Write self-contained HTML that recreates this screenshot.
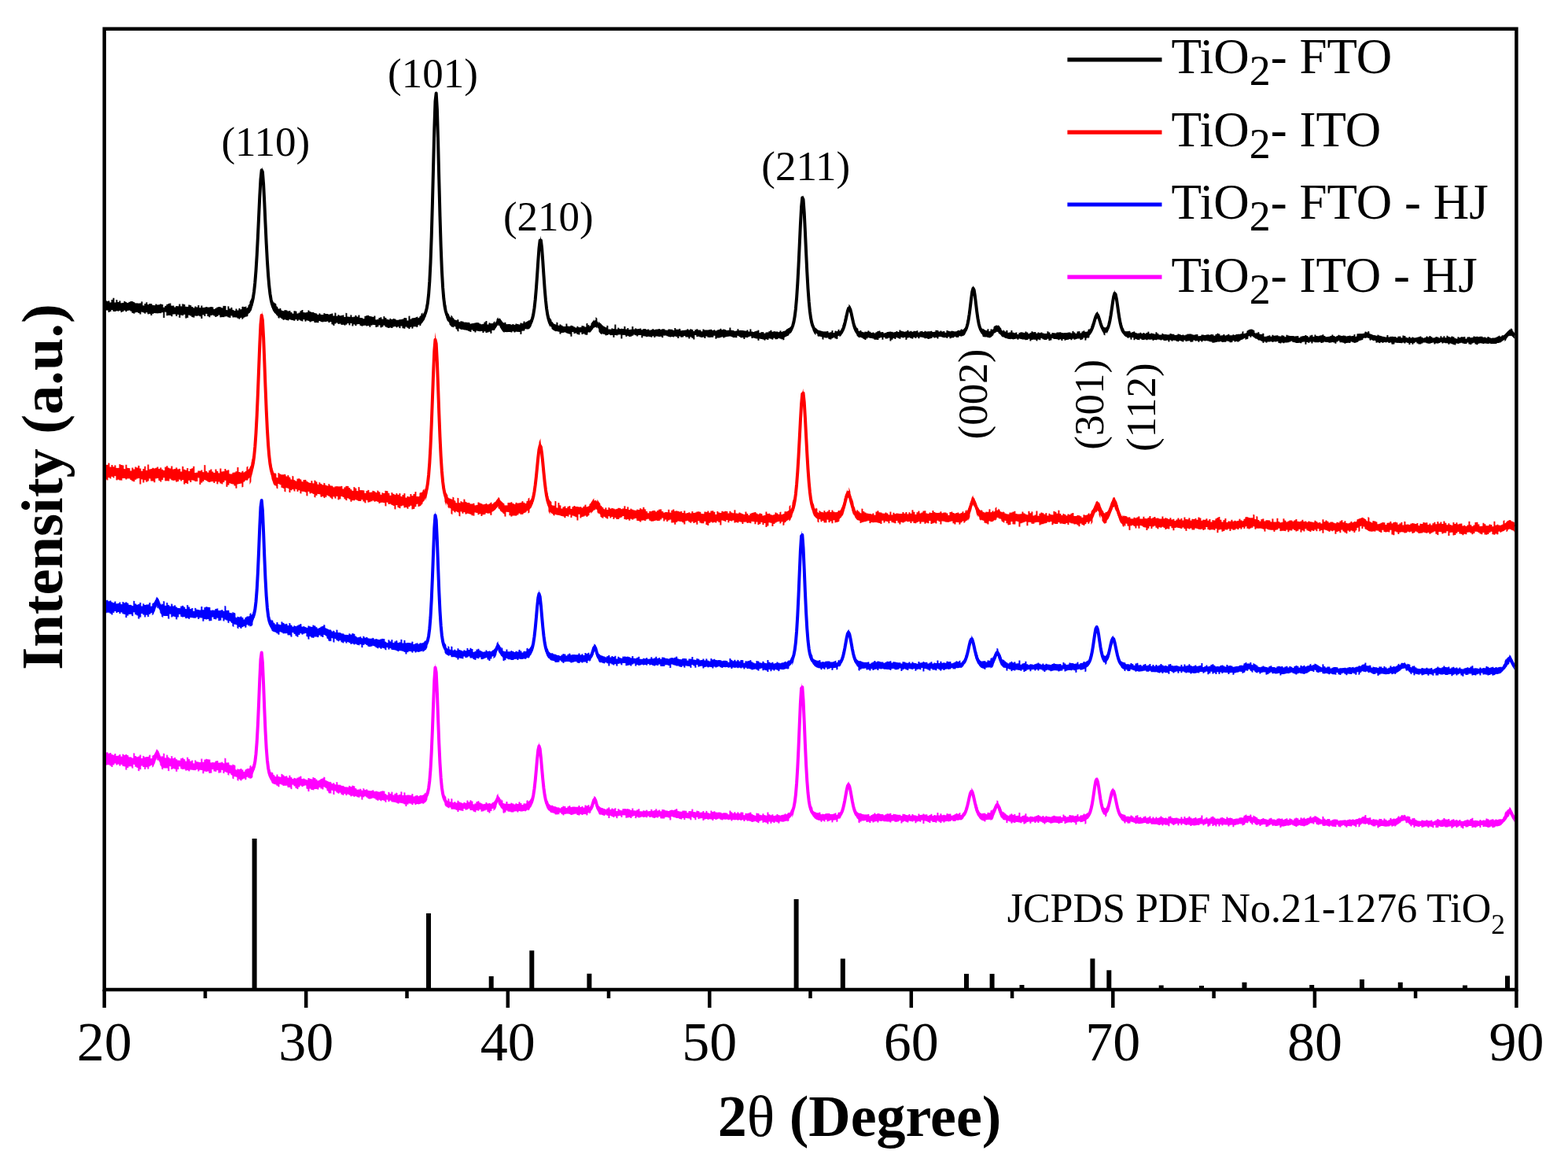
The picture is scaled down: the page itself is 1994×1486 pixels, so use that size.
<!DOCTYPE html><html><head><meta charset="utf-8"><title>XRD TiO2</title><style>html,body{margin:0;padding:0;background:#fff;overflow:hidden;}svg{display:block;filter:blur(0.6px);}text{font-family:'Liberation Serif', 'Times New Roman', serif;fill:#000;}</style></head><body>
<svg width="1994" height="1486" viewBox="0 0 1994 1486">
<rect x="0" y="0" width="1994" height="1486" fill="#fff"/>
<g fill="none" stroke="#000" stroke-linejoin="round" transform="scale(0.1)">
<path fill="#000" stroke="none" d="M1335 3816l19 1 1 11 19 1 1-6 19 1 1 20 19 1 1-36 19 1 1-23 19 1 1 56 19 2 1-35 19 1 1 28 19 1 1-18 19 1 1 28 19 1 1-5 19 1 1-21 19 1 1 12 19 1 1 8 19 1 1-14 19 2 1-10 19 2 1 0 19 2 1 7 19 2 1 11 19 1 1-2 19 2 1 2 19 1 1-5 19 2 1-22 19 2 1 48 19 2 1-24 19 2 1-20 19 1 1 28 19 1 1-12 19 1 1-1 19 2 1 16 19 1 1 1 19 2 1-18 19 1 1 9 19 1 1-3 19 1 1-10 19 2 1 5 19 1 1 36 19 1 1-20 19 1 1-20 19 1 1-11 19 1 1-6 19 1 1 31 19 1 1-2 19 1 1 18 19 1 1-16 19 2 1 1 19 1 1-29 19 1 1 28 19 1 1-31 19 1 1 4 19 1 1 28 19 1 1 2 19 1 1-26 19 1 1 5 19 1 1 17 19 1 1 13 19 1 1-20 19 1 1 9 19 1 1-24 19 0 1 31 19 0 1-28 19 1 1 24 19 0 1-2 19 1 1-8 19 1 1 5 19 1 1-2 19 1 1-5 19 0 1 2 19 1 1 25 19 1 1-12 19 0 1-12 19 1 1-8 19 1 1 3 19 1 1 8 19 2 1-26 19 2 1-3 19 2 1 51 19 2 1-50 19 2 1 28 19 2 1-16 19 3 1 27 19 1 1 11 19 1 1-26 19 0 1 19 19 0 1-24 19-2 1 16 19-3 1-30 19-5 1 9 19-8 1 6 19-10 1 27 19-15 1-20 19-23 1-24 19-38 1 8 19-71 1 7 19-131 1 20 19-225 1-16 19-337 1-11 19-420 1-40 19-378 1 31 19-115 1 3 19 242 1-3 19 418 1-7 19 398 1 35 19 295 1-15 19 186 1-7 19 105 1 23 19 57 1-24 19 32 1-12 19 20 1 23 19 14 1 16 19 11 1-17 19 8 1 20 19 7 1 0 19 5 1-16 19 3 1 0 19 2 1 10 19 2 1-6 19 1 1 18 19 1 1 16 19 1 1-34 19 0 1 3 19 1 1 27 19 0 1-10 19 1 1-23 19 1 1-14 19 1 1 30 19 2 1 1 19 2 1-8 19 2 1-25 19 2 1 14 19 2 1 5 19 3 1-3 19 2 1 11 19 1 1 4 19 1 1 13 19 2 1-19 19 2 1 13 19 2 1 1 19 1 1-20 19 2 1 6 19 1 1-1 19 2 1 6 19 1 1-7 19 2 1-9 19 2 1 28 19 2 1-40 19 2 1 39 19 1 1-16 19 1 1 10 19 2 1-6 19 1 1-6 19 1 1 24 19 1 1-52 19 1 1 46 19 1 1 1 19 1 1-25 19 1 1 26 19 2 1-6 19 1 1-19 19 1 1 17 19 1 1-23 19 1 1 35 19 1 1 0 19 2 1 9 19 1 1-36 19 2 1-8 19 1 1-5 19 2 1 11 19 1 1 2 19 2 1 3 19 1 1-14 19 1 1 46 19 2 1-6 19 2 1-21 19 1 1-8 19 1 1 23 19 2 1-37 19 2 1 16 19 2 1 17 19 1 1 4 19 2 1-17 19 2 1 9 19 1 1-10 19 1 1 4 19 1 1 11 19 1 1-1 19 1 1-7 19 1 1-2 19 0 1-4 19 0 1-15 19 0 1 2 19-1 1 33 19-1 1-56 19-2 1 41 19-3 1-8 19-3 1 0 19-4 1 0 19-6 1-2 19-7 1 20 19-10 1-11 19-13 1-19 19-19 1 28 19-28 1 10 19-45 1-44 19-85 1 11 19-176 1-19 19-345 1 21 19-580 1-17 19-770 1-60 19-653 1 18 19-7 1-8 19 647 1 23 19 774 1 17 19 588 1 2 19 352 1 22 19 181 1-24 19 88 1 50 19 48 1-16 19 30 1 13 19 21 1-33 19 16 1 14 19 13 1 12 19 9 1-4 19 8 1-16 19 6 1 25 19 5 1-13 19 5 1-2 19 3 1 8 19 3 1-3 19 3 1-1 19 2 1-1 19 1 1 17 19 2 1-7 19 1 1-4 19 1 1-6 19 1 1-3 19 0 1 1 19 1 1 13 19 0 1 7 19 0 1-5 19 0 1-22 19 0 1-17 19 0 1 46 19 0 1-21 19-1 1 9 19-1 1 1 19-5 1-11 19-13 1 26 19-26 1-24 19-30 1 22 19 0 1-12 19 30 1 2 19 27 1-2 19 14 1-15 19 6 1 20 19 2 1-3 19 1 1-2 19 0 1 8 19 0 1-8 19 0 1 10 19-1 1-13 19-1 1 7 19-2 1 7 19-2 1-18 19-2 1 9 19-3 1-23 19-5 1 17 19-7 1-1 19-10 1-1 19-16 1 14 19-29 1-5 19-57 1-1 19-111 1-13 19-191 1-12 19-271 1-3 19-279 1 15 19-114 1-11 19 159 1-12 19 289 1 9 19 261 1 29 19 177 1 0 19 101 1-15 19 52 1-4 19 26 1 17 19 16 1 10 19 10 1-1 19 7 1-32 19 6 1 34 19 5 1-18 19 3 1 9 19 3 1 10 19 2 1 0 19 2 1-36 19 1 1 30 19 2 1-1 19 1 1-11 19 1 1 5 19 1 1 11 19 1 1 8 19 1 1-18 19 1 1 13 19 1 1-1 19 0 1-21 19 0 1 6 19-1 1 13 19-2 1-44 19-4 1 28 19-8 1 23 19-15 1-22 19-26 1 1 19-30 1 22 19-14 1-36 19 17 1 35 19 32 1-31 19 26 1-3 19 17 1 8 19 8 1 9 19 4 1 8 19 2 1-26 19 2 1 46 19 1 1 0 19 1 1-14 19 1 1 5 19 1 1-56 19 1 1 59 19 0 1-18 19 1 1 14 19 1 1-5 19 1 1 1 19 1 1-32 19 1 1 35 19 1 1-16 19 1 1 20 19 1 1-4 19 0 1-38 19 1 1 35 19 0 1-12 19 1 1 8 19 1 1-2 19 0 1-6 19 1 1 16 19 1 1-12 19 1 1-1 19 0 1 8 19 1 1-4 19 0 1 11 19 1 1-6 19 1 1-12 19 1 1 10 19 1 1-7 19 1 1-3 19 0 1-5 19 0 1 11 19 0 1-8 19 0 1 0 19 1 1 13 19 0 1 2 19 0 1-12 19 0 1 0 19 1 1 0 19 0 1 11 19 1 1-30 19 1 1 18 19 0 1-1 19 0 1-9 19 1 1 23 19 1 1-5 19 1 1-2 19 0 1-1 19 0 1-13 19 0 1 12 19 0 1-12 19 0 1 7 19 0 1 20 19 0 1-19 19 1 1-10 19 0 1 12 19 0 1 1 19 0 1 18 19 0 1-29 19 0 1 12 19 0 1 0 19 0 1-1 19 0 1-6 19 0 1-1 19 0 1 13 19 0 1-9 19 0 1 12 19 0 1-9 19 0 1-6 19 0 1-12 19 0 1 16 19 0 1-8 19 0 1 6 19 1 1 9 19 0 1-4 19 0 1-33 19 0 1 34 19 0 1 2 19 1 1 7 19 1 1-5 19 0 1-22 19 0 1 18 19 1 1-3 19 1 1 1 19 1 1 2 19 1 1 2 19 2 1-13 19 1 1 18 19 1 1-33 19 2 1 30 19 2 1 3 19 2 1-11 19 2 1-6 19 1 1-11 19 2 1 32 19 2 1-11 19 1 1-2 19 2 1 15 19 1 1-14 19 1 1-2 19 1 1-13 19 1 1-14 19 0 1 19 19 0 1-5 19-1 1 5 19-1 1 1 19-2 1 8 19-2 1-15 19-3 1 17 19-4 1-2 19-6 1 1 19-8 1-11 19-10 1 0 19-14 1 8 19-22 1 12 19-35 1-18 19-66 1 15 19-126 1-10 19-223 1-25 19-342 1 7 19-425 1-15 19-357 1-15 19-44 1 4 19 308 1 26 19 428 1 10 19 366 1-28 19 248 1 31 19 144 1 16 19 75 1-7 19 39 1 7 19 23 1-3 19 15 1 3 19 10 1-1 19 8 1-3 19 6 1 2 19 4 1-3 19 3 1-3 19 2 1-7 19 2 1 18 19 0 1-5 19 0 1-20 19-1 1 30 19-1 1-23 19-3 1 8 19-3 1-17 19-8 1 25 19-14 1-10 19-28 1-21 19-52 1-20 19-78 1 45 19-91 1 2 19-58 1-19 19 26 1 10 19 85 1 12 19 88 1-10 19 63 1-13 19 38 1-2 19 19 1 22 19 10 1-16 19 5 1 14 19 3 1 4 19 2 1-9 19 2 1-1 19 1 1-15 19 1 1 14 19 0 1 11 19 0 1-5 19 0 1 10 19 0 1-11 19 0 1-13 19 0 1-6 19 0 1 19 19 0 1-2 19-1 1 16 19-1 1-6 19 0 1-8 19-1 1-2 19 0 1-3 19 0 1 4 19-1 1 7 19-1 1-3 19 0 1-10 19 0 1 10 19 0 1-25 19-1 1 12 19 0 1 5 19 0 1 6 19 0 1-5 19 0 1-15 19 0 1 17 19-1 1-6 19 0 1 9 19 0 1-9 19 0 1 3 19-1 1-7 19 0 1 22 19 0 1-12 19 0 1-4 19-1 1 13 19 0 1-14 19 0 1 8 19 0 1-3 19 0 1 0 19 0 1-4 19 0 1 13 19 0 1-3 19 0 1-20 19 0 1 2 19 0 1 14 19 0 1-10 19 0 1 10 19 0 1-5 19 0 1 19 19 0 1-27 19 0 1 6 19 0 1 6 19-1 1-5 19-1 1 4 19-1 1 5 19-2 1 1 19-2 1-11 19-3 1 6 19-4 1-11 19-6 1 13 19-10 1-2 19-20 1 5 19-43 1-47 19-84 1 41 19-136 1-18 19-163 1 14 19-98 1-7 19 66 1 6 19 161 1-14 19 147 1 15 19 95 1 11 19 50 1-1 19 24 1-13 19 12 1 5 19 7 1 1 19 4 1-21 19 1 1 29 19-3 1-21 19-8 1 14 19-15 1-21 19-20 1 7 19-16 1 9 19 2 1-11 19 20 1 7 19 22 1 16 19 18 1-20 19 11 1 9 19 6 1-21 19 4 1 26 19 2 1-6 19 1 1-24 19 1 1 25 19 1 1 5 19 1 1-8 19 1 1 23 19 0 1-19 19 0 1-7 19 0 1 1 19 0 1 7 19 1 1-17 19 0 1 10 19 0 1 17 19 0 1-12 19 0 1-17 19 0 1 10 19 0 1-3 19 0 1 17 19 0 1-11 19 0 1 7 19 0 1-7 19 0 1 9 19 0 1 6 19 0 1-2 19 0 1-27 19 0 1 12 19 0 1 23 19 0 1-17 19 0 1 3 19 0 1 3 19 0 1-11 19 0 1-1 19 0 1-2 19 0 1 8 19-1 1 4 19 0 1-4 19 0 1 1 19 0 1-3 19-1 1 0 19 0 1 10 19 0 1-27 19-1 1 17 19-1 1 15 19-1 1-24 19-1 1-1 19-1 1 24 19-2 1-19 19-2 1-6 19-3 1 16 19-5 1 5 19-8 1-18 19-15 1 14 19-28 1-17 19-47 1 28 19-66 1-18 19-64 1 3 19-22 1-3 19 40 1-12 19 63 1 10 19 54 1 16 19 32 1-6 19 10 1 0 19-12 1 10 19-39 1-12 19-78 1 12 19-119 1-17 19-136 1-10 19-82 1 21 19 46 1 1 19 131 1-19 19 132 1 15 19 94 1-14 19 56 1 10 19 29 1 16 19 15 1-8 19 9 1-9 19 5 1-7 19 4 1 17 19 3 1-10 19 2 1-8 19 2 1 14 19 2 1 6 19 1 1-2 19 1 1-10 19 1 1 12 19 1 1-11 19 1 1 10 19 1 1-13 19 1 1-14 19 1 1 25 19 1 1-8 19 1 1 3 19 1 1 6 19 1 1-25 19 1 1 15 19 1 1 16 19 1 1-2 19 1 1-17 19 1 1 10 19 1 1-1 19 0 1 4 19 1 1-1 19 1 1-14 19 1 1 5 19 1 1 0 19 1 1 12 19 0 1-3 19 0 1-13 19 1 1 4 19 1 1 10 19 0 1-4 19 0 1 7 19 0 1-7 19 0 1-10 19 1 1-1 19 0 1-2 19 0 1 9 19 0 1 4 19 0 1-4 19 0 1-3 19 0 1 23 19 0 1-2 19 0 1-17 19 1 1 1 19 1 1 2 19 0 1-5 19 1 1-3 19 0 1 6 19 0 1-9 19 0 1 3 19 0 1 16 19 0 1-17 19 0 1-13 19 0 1 6 19 0 1 22 19 0 1-4 19 0 1-11 19 0 1 14 19 0 1-8 19 0 1-10 19 0 1 16 19 0 1-1 19 0 1-10 19 0 1 7 19-1 1-7 19-1 1-1 19-3 1 4 19-4 1 0 19-6 1-23 19-8 1 35 19-10 1 6 19-11 1-22 19-10 1-2 19-7 1-1 19-1 1-1 19 6 1 2 19 10 1 28 19 12 1-17 19 11 1-20 19 8 1 20 19 6 1-4 19 4 1-15 19 4 1 37 19 3 1-4 19 2 1-10 19 1 1-7 19 1 1 14 19 1 1-21 19 1 1 9 19 0 1-3 19 0 1-2 19 1 1 10 19 0 1 2 19 0 1-13 19 0 1 5 19 1 1 14 19 0 1-25 19 0 1 9 19 0 1 5 19 0 1-2 19 0 1 0 19 0 1 5 19 0 1-1 19 0 1-2 19 0 1 29 19 0 1-22 19 0 1-6 19 0 1-2 19 0 1-11 19 0 1 11 19 0 1 16 19 0 1-20 19 0 1-9 19 0 1 22 19 0 1-24 19 0 1 16 19 0 1 2 19 0 1-6 19-1 1-4 19 0 1-10 19 0 1 18 19 0 1 12 19 0 1-3 19 0 1-2 19 0 1-7 19-1 1-14 19 0 1 15 19 0 1 11 19 0 1-12 19 0 1-12 19 0 1 8 19 0 1 4 19 0 1-3 19-1 1 2 19 0 1 8 19 0 1-4 19 0 1-4 19-1 1 7 19-1 1-2 19-1 1-17 19-2 1 29 19-3 1-31 19-4 1 3 19-6 1 8 19-8 1 6 19-7 1 4 19-6 1-18 19-3 1 9 19 2 1-17 19 7 1 24 19 8 1-2 19 9 1 1 19 7 1-4 19 6 1 2 19 4 1-15 19 3 1 8 19 2 1 3 19 2 1 4 19 1 1 3 19 1 1 2 19 1 1-26 19 1 1 24 19 0 1-6 19 1 1-2 19 1 1 3 19 0 1-2 19 1 1 12 19 0 1-16 19 1 1-3 19 0 1 19 19 1 1-30 19 0 1 5 19 0 1 19 19 1 1 6 19 0 1-14 19 1 1 14 19 0 1-11 19 0 1 8 19 1 1-2 19 0 1-4 19 0 1-6 19 0 1-8 19 0 1 14 19 0 1 9 19 0 1-6 19 0 1-16 19 0 1 9 19 0 1-15 19 0 1 13 19 0 1 13 19 0 1-2 19 0 1-14 19 0 1 5 19 0 1 11 19 0 1-22 19 0 1 18 19 0 1-19 19 0 1 21 19 0 1-26 19 0 1 14 19 0 1 7 19 0 1-12 19 0 1 6 19 0 1 16 19 0 1 10 19 0 1-26 19 0 1 11 19 0 1-10 19 0 1 0 19 1 1-4 19 0 1 27 19 0 1-23 19 0 1-2 19 0 1 11 19 0 1-4 19 0 1-13 19 0 1 5 19 0 1-3 19 0 1 5 19 0 1-5 19 0 1-1 19 0 1 10 19 0 1-3 19 0 1 11 19-1 1-13 19 0 1 10 19 0 1 8 19-1 1-2 19 0 1 0 19-1 1-6 19-1 1-9 19-1 1-9 19-3 1 14 19-5 1-7 19-10 1 9 19-15 1 1 19-21 1 0 19-23 1 2 19-18 1-5 19-2 1-15 19 16 1 15 19 23 1 4 4 4 0 73-4-5-1 2-19-23-1 0-19-15-1 6-19 2-1-8-19 18-1 3-19 24-1 11-19 21-1-28-19 16-1 2-19 9-1 8-19 5-1 2-19 3-1 0-19 2-1 9-19 1-1-1-19 0-1 1-19 0-1 0-19 1-1-6-19 0-1 5-19 0-1-3-19 0-1-2-19 0-1 5-19 0-1-6-19 0-1-3-19 0-1 6-19 0-1 14-19 0-1-6-19 0-1-19-19 0-1 9-19 0-1 14-19 0-1-5-19 0-1-21-19 0-1 16-19 0-1 1-19 0-1-5-19 0-1-8-19 0-1 5-19 0-1 7-19 0-1-4-19 0-1 20-19 0-1-5-19 0-1-8-19 0-1-7-19 0-1 12-19 0-1-16-19 0-1 0-19 0-1-5-19 0-1 8-19 0-1-14-19 0-1 8-19 0-1 8-19-1-1-2-19-1-1 12-19 0-1-19-19 0-1 5-19 0-1 6-19 0-1 1-19 0-1-5-19-1-1-7-19 0-1 0-19 0-1 11-19 0-1 10-19 0-1-1-19 0-1-10-19 0-1-19-19 0-1 16-19 0-1 16-19 0-1-18-19 0-1 19-19 0-1-20-19 0-1-7-19 0-1 12-19 0-1-10-19 0-1 8-19 0-1-2-19 0-1-1-19-1-1 1-19-1-1-3-19 0-1 20-19-1-1 3-19-1-1-22-19-1-1 7-19-1-1-11-19-1-1 7-19-1-1-4-19 0-1 10-19-1-1-7-19-1-1 12-19-2-1-6-19-4-1 8-19-4-1-22-19-6-1 9-19-7-1-4-19-8-1 14-19-8-1-19-19-7-1-1-19-2-1 4-19 3-1-7-19 6-1 19-19 8-1-3-19 8-1-1-19 6-1 8-19 5-1 4-19 4-1 1-19 2-1-9-19 1-1-9-19 1-1 16-19 0-1-2-19 0-1 1-19 0-1 8-19 1-1-11-19 0-1-5-19 0-1 0-19 1-1-21-19 0-1 12-19 0-1 24-19 0-1-12-19 0-1-7-19 0-1 6-19 0-1 3-19 0-1-9-19 0-1 1-19 0-1-4-19 0-1 10-19 0-1 5-19 0-1-14-19 0-1 5-19 1-1 0-19 0-1 0-19 0-1-8-19 0-1 19-19 0-1-18-19 0-1 12-19 1-1-9-19 0-1 28-19 0-1-33-19 0-1 2-19 0-1 15-19 0-1-4-19 0-1 3-19 0-1-2-19 0-1-6-19 0-1-2-19 0-1-17-19 0-1 11-19 0-1 7-19 0-1 2-19 0-1 0-19 0-1 8-19 0-1-6-19 0-1 9-19-1-1-4-19-1-1-20-19 0-1 6-19 0-1-2-19 0-1 6-19-1-1-6-19-1-1 4-19-1-1 2-19-1-1 12-19-1-1-12-19-2-1 19-19-3-1-17-19-5-1-7-19-6-1 6-19-9-1-6-19-11-1 6-19-11-1-5-19-11-1-4-19-7-1 16-19 0-1-18-19 6-1 30-19 10-1-5-19 11-1-27-19 10-1 6-19 8-1-1-19 6-1 10-19 4-1 7-19 3-1-10-19 2-1 6-19 1-1-15-19 1-1 19-19 1-1 1-19 0-1-14-19 1-1-6-19 0-1 13-19 0-1 1-19 0-1 2-19-1-1-9-19 0-1 6-19 0-1-1-19 0-1 4-19 0-1 7-19 0-1 2-19 0-1-13-19 0-1-2-19 0-1-7-19-1-1-3-19-1-1 4-19 0-1-4-19 0-1 13-19 0-1-12-19-1-1 16-19 0-1-15-19 0-1 3-19 0-1-9-19-1-1 21-19 0-1 2-19-1-1-15-19 0-1 3-19 0-1 4-19 0-1-13-19 0-1 18-19 0-1-7-19 0-1-8-19 0-1 13-19 0-1-4-19-1-1-9-19 0-1-1-19-1-1 11-19-1-1-12-19-1-1 22-19 0-1-19-19 0-1 4-19 0-1 0-19-1-1-11-19-1-1 9-19-1-1-7-19 0-1-2-19-1-1 8-19-1-1-1-19-1-1 9-19-1-1-12-19-1-1 2-19 0-1-1-19 0-1 7-19-1-1-6-19-1-1 5-19-1-1 0-19-1-1-11-19-1-1 16-19-1-1-2-19-1-1-9-19-1-1 15-19-1-1-30-19-2-1 28-19-3-1-24-19-4-1 12-19-5-1-6-19-9-1 1-19-15-1-3-19-29-1-6-19-55-1 8-19-95-1-2-19-131-1 4-19-131-1-6-19-46-1-4-19 82-1 7-19 136-1 1-19 119-1-3-19 77-1 17-19 40-1-23-19 12-1 31-19-10-1-15-19-32-1-13-19-54-1 5-19-63-1 2-19-39-1-2-19 22-1 12-19 64-1-8-19 65-1-10-19 47-1 4-19 28-1 20-19 14-1-11-19 8-1 25-19 4-1-35-19 3-1 16-19 2-1 7-19 2-1-18-19 1-1-2-19 1-1 6-19 1-1 6-19 0-1-12-19 1-1 15-19 0-1-12-19 1-1 6-19 1-1 3-19 0-1 6-19 0-1-16-19 0-1 18-19 0-1-16-19 0-1 10-19 0-1-11-19 0-1-1-19 0-1-2-19 0-1-10-19 0-1 27-19 0-1 3-19 0-1-22-19 0-1 12-19 0-1 0-19 0-1-7-19 0-1-12-19 0-1 23-19 0-1-9-19 0-1 20-19-1-1-16-19 0-1 0-19-1-1 4-19 0-1 14-19 0-1-27-19 0-1 12-19 0-1 3-19 0-1-7-19-1-1 1-19 0-1-4-19-1-1-5-19 0-1 13-19 0-1-14-19 0-1 5-19 0-1 5-19-1-1-4-19-1-1 4-19-2-1-1-19-2-1-3-19-4-1 0-19-6-1-3-19-12-1 11-19-18-1-3-19-23-1 5-19-19-1-13-19-2-1 0-19 17-1-10-19 20-1 15-19 16-1 6-19 8-1 4-19 3-1-6-19-1-1-3-19-3-1 4-19-6-1 6-19-12-1-15-19-24-1 1-19-50-1-7-19-95-1 5-19-147-1-4-19-160-1-15-19-66-1 8-19 98-1 9-19 164-1-16-19 135-1 11-19 83-1 13-19 43-1 4-19 20-1-5-19 10-1-2-19 6-1-10-19 4-1 15-19 3-1-3-19 2-1-12-19 1-1 13-19 1-1 0-19 1-1 8-19 1-1-21-19 0-1 16-19 1-1-9-19 0-1 3-19 0-1-6-19 1-1-7-19 0-1 0-19 1-1 22-19 0-1-13-19 0-1 3-19 0-1-10-19 0-1 15-19 0-1 7-19 0-1 5-19 0-1-11-19 0-1 2-19 0-1-10-19 0-1-5-19 1-1-2-19 0-1 16-19 1-1-17-19 0-1 13-19 0-1-11-19 0-1 18-19 1-1-7-19 0-1-10-19 0-1 4-19 0-1 24-19 1-1-32-19 0-1 7-19 0-1-6-19 0-1 19-19 0-1-7-19 1-1-11-19 0-1 20-19 0-1-10-19 0-1 17-19 0-1 18-19 1-1-42-19 1-1 8-19 1-1 0-19 0-1-16-19 0-1 30-19 0-1-27-19 0-1 6-19 0-1 24-19 0-1-3-19 0-1 0-19 0-1-13-19 0-1-4-19-1-1-3-19 0-1-5-19-1-1 13-19-1-1 18-19-2-1-10-19-2-1-9-19-3-1-6-19-5-1 11-19-10-1 0-19-19-1-11-19-37-1 5-19-63-1-5-19-87-1 6-19-85-1-6-19-25-1-1-19 58-1-9-19 92-1 24-19 79-1-30-19 52-1 16-19 29-1 1-19 14-1-25-19 7-1 43-19 4-1-10-19 2-1-14-19 2-1 9-19 1-1 12-19 0-1-2-19-1-1-17-19-2-1 5-19-2-1-2-19-3-1 28-19-5-1-29-19-6-1 2-19-8-1 10-19-11-1-25-19-14-1 30-19-22-1-2-19-39-1-28-19-75-1 5-19-143-1 13-19-248-1-2-19-365-1-18-19-428-1-10-19-308-1-20-19 44-1 5-19 358-1 9-19 425-1 27-19 342-1-13-19 223-1 11-19 125-1 13-19 66-1 0-19 36-1-13-19 21-1 8-19 14-1-4-19 10-1 2-19 8-1 30-19 6-1-14-19 4-1-11-19 3-1-9-19 2-1 10-19 2-1 0-19 1-1-16-19 0-1 19-19 1-1-10-19 0-1-5-19 0-1 19-19 0-1-8-19-1-1 15-19-1-1-10-19-2-1-4-19-1-1-2-19-1-1 23-19-1-1-22-19-2-1-2-19-2-1-4-19-2-1 7-19-2-1-27-19-1-1 11-19-1-1 11-19-1-1-2-19-2-1 24-19-1-1-18-19-2-1 4-19-1-1-11-19-1-1-12-19-1-1 25-19 0-1-3-19-1-1 3-19-1-1-11-19 0-1-6-19 0-1 4-19 0-1 3-19 0-1 3-19 0-1 10-19 0-1-11-19-1-1 9-19 0-1 4-19 0-1 1-19-1-1 12-19 0-1-39-19 0-1 20-19 0-1-1-19 0-1 3-19 0-1-3-19 0-1-13-19 0-1 27-19 0-1-15-19 0-1 3-19 0-1-4-19 0-1-8-19 0-1 2-19 0-1-20-19-1-1 57-19-1-1-17-19 0-1-13-19-1-1 21-19 0-1-18-19 0-1 0-19 0-1-17-19 0-1 15-19 0-1 4-19 0-1-13-19-1-1 26-19 0-1-18-19-1-1-5-19 0-1 9-19 0-1-5-19 0-1 5-19 0-1-4-19 0-1-9-19 0-1-8-19 0-1 3-19-1-1 26-19 0-1-15-19 0-1 3-19-1-1-2-19-1-1-2-19 0-1 17-19 0-1-18-19-1-1 16-19-1-1-7-19-1-1-1-19-1-1 5-19 0-1-6-19 0-1-3-19-1-1 22-19-1-1-34-19 0-1 2-19-1-1 15-19-1-1-11-19-1-1-8-19 0-1 14-19-1-1 11-19-1-1 3-19-1-1-10-19-1-1 11-19-1-1-19-19-1-1 1-19-1-1 46-19 0-1-50-19-1-1 2-19-1-1 10-19-1-1-3-19-1-1 30-19-1-1-28-19-1-1 3-19-2-1-10-19-1-1 12-19-1-1 5-19-2-1-12-19-4-1 1-19-8-1 15-19-16-1 2-19-26-1-38-19-31-1 29-19-17-1-3-19 14-1-8-19 30-1-1-19 26-1 2-19 15-1-14-19 8-1 29-19 4-1-5-19 1-1-13-19 0-1 6-19 0-1-23-19 0-1 29-19-1-1-4-19 0-1-15-19 0-1 5-19-1-1-19-19-1-1 59-19-1-1-30-19-1-1-3-19-2-1-6-19-2-1-8-19-2-1 7-19-2-1 5-19-3-1 17-19-3-1-26-19-4-1 0-19-6-1 7-19-8-1 0-19-11-1-1-19-16-1-18-19-27-1 30-19-51-1-8-19-101-1-1-19-177-1-9-19-261-1-21-19-289-1 8-19-159-1 7-19 113-1-13-19 279-1 17-19 271-1-3-19 192-1-2-19 112-1 22-19 57-1 2-19 28-1-3-19 16-1-10-19 10-1-13-19 7-1 19-19 5-1-4-19 4-1 39-19 3-1-31-19 2-1-4-19 2-1-3-19 1-1 8-19 1-1-13-19 0-1 13-19-1-1-4-19-1-1 0-19-1-1 3-19-2-1 3-19-6-1 13-19-14-1-1-19-27-1-3-19-31-1-14-19 0-1-20-19 30-1 8-19 26-1 9-19 13-1-11-19 5-1 37-19 2-1-21-19 0-1 8-19 0-1 4-19-1-1-16-19-1-1 18-19-1-1-20-19-1-1 4-19 0-1-1-19-1-1-4-19-1-1 20-19-1-1-13-19-1-1-15-19-2-1 27-19-2-1-6-19-2-1-8-19-2-1-3-19-3-1 1-19-3-1-1-19-4-1 4-19-4-1-6-19-5-1 40-19-6-1-21-19-8-1-25-19-10-1 19-19-12-1 10-19-16-1-1-19-21-1-17-19-30-1 14-19-48-1-6-19-89-1 21-19-181-1-38-19-352-1 5-19-587-1-38-19-774-1 2-19-647-1-44-19 7-1 57-19 653-1 9-19 770-1-9-19 581-1 13-19 345-1 18-19 176-1 7-19 86-1-3-19 46-1-2-19 28-1 3-19 19-1 14-19 14-1-22-19 10-1 19-19 8-1-14-19 5-1-3-19 4-1 20-19 3-1-22-19 3-1 21-19 2-1-15-19 1-1-13-19 1-1 21-19 0-1-5-19 0-1-28-19 0-1 28-19-1-1-18-19-1-1 11-19-1-1-12-19-1-1 6-19-1-1 17-19-2-1-4-19-2-1 8-19-1-1-6-19-2-1-6-19-1-1-17-19-2-1 20-19-2-1 10-19-1-1-29-19-2-1 22-19-2-1 9-19-2-1-27-19-1-1-2-19-2-1 10-19-1-1 22-19-1-1-17-19-1-1 6-19-1-1-6-19-2-1 3-19-2-1 10-19-2-1-6-19-1-1-18-19-1-1 4-19-1-1 20-19-1-1-17-19-2-1 24-19-1-1-36-19-1-1 26-19-1-1-23-19-1-1 18-19-2-1 12-19-2-1-7-19-1-1 2-19-2-1-11-19-2-1 5-19-1-1-14-19-2-1 14-19-1-1 24-19-2-1-12-19-2-1-30-19-2-1 11-19-2-1-14-19-2-1 7-19-2-1 1-19-2-1 6-19-2-1 0-19-2-1-9-19-2-1 24-19-1-1-1-19-2-1 3-19-2-1-17-19-2-1 5-19-2-1 10-19-2-1-12-19-2-1-3-19-3-1 15-19-2-1-22-19-2-1 24-19-2-1-6-19-2-1-9-19-1-1 14-19-1-1-17-19 0-1 17-19 0-1-6-19-1-1-3-19 0-1-7-19-1-1 14-19-1-1-3-19-2-1-6-19-3-1 11-19-5-1-9-19-6-1-8-19-9-1 17-19-11-1-18-19-14-1-6-19-20-1 3-19-32-1 7-19-56-1 6-19-105-1-13-19-186-1-5-19-295-1-14-19-398-1-28-19-417-1 7-19-242-1 3-19 115-1 27-19 378-1-26-19 420-1 28-19 336-1-4-19 224-1 26-19 131-1 14-19 70-1-10-19 38-1-9-19 22-1 20-19 15-1-10-19 11-1 0-19 8-1 13-19 6-1-22-19 4-1 14-19 2-1-11-19 1-1-11-19-1-1-1-19-1-1 3-19-2-1-19-19-2-1 27-19-2-1-3-19-3-1-8-19-3-1 4-19-2-1 9-19-2-1 2-19-1-1 3-19-1-1-27-19-1-1 15-19 0-1 10-19-1-1-13-19 0-1-11-19-1-1 6-19-1-1 24-19-1-1-11-19-1-1-33-19 0-1 32-19-1-1-15-19-1-1 48-19-1-1-26-19-1-1-9-19 0-1 4-19 0-1-2-19-1-1 23-19-1-1-4-19-1-1-15-19 0-1-9-19-1-1 33-19-1-1 9-19-1-1-48-19-1-1 15-19-1-1-4-19-1-1 33-19-1-1-39-19-1-1 21-19-1-1-24-19-1-1 2-19-1-1 29-19-1-1-13-19-2-1 2-19-2-1 6-19-1-1-44-19-2-1 75-19-1-1-68-19-1-1 11-19-1-1 1-19-1-1 3-19-1-1 0-19-1-1-1-19-1-1 9-19-1-1 23-19-1-1-21-19-2-1 8-19-2-1-20-19-2-1 16-19-2-1-11-19-2-1-4-19-2-1 29-19-1-1-14-19-1-1-10-19-1-1 5-19-1-1 16-19-2-1-6-19-2-1-21-19-1-1-10-19-1-1 4-19-1-1 15-19-1-1-14-19-2-1 15-19-1-1 11-19-1-1-21-19-1-1 9-19-1-1-3-19-1-1 8-19-1-1 0-19-1-1-17-19-1-1 21-19-1-1 9-19-1-1-23-19-1-1 2-19-1z"/>
<path stroke-width="40" d="M1335 3885l12 1 12 0 12 1 12 0 12 1 12 1 12 0 12 1 12 0 12 1 12 1 12 0 12 1 12 1 12 1 12 0 12 1 12 1 12 1 12 0 12 1 12 1 12 1 12 1 12 0 12 1 12 1 12 1 12 1 12 1 12 1 12 1 12 2 12 1 12 1 12 1 12 1 12 1 12 1 12 1 12 1 12 1 12 1 12 1 12 1 12 1 12 1 12 1 12 1 12 1 12 0 12 1 12 1 12 1 12 1 12 1 12 1 12 0 12 1 12 1 12 1 12 1 12 0 12 1 12 1 12 1 12 0 12 1 12 1 12 1 12 0 12 1 12 1 12 0 12 1 12 1 12 0 12 1 12 1 12 0 12 1 12 0 12 1 12 1 12 0 12 1 12 0 12 1 12 1 12 0 12 1 12 0 12 1 12 0 12 1 12 0 12 1 12 0 12 1 12 0 12 1 12 0 12 1 12 0 12 0 12 1 12 0 12 1 12 0 12 0 12 1 12 0 12 0 12 1 12 0 12 0 12 1 12 0 12 1 12 0 12 0 12 1 12 1 12 0 12 1 12 1 12 2 12 1 12 1 12 2 12 1 12 2 12 1 12 1 12 2 12 1 12 1 12 0 12 1 12 0 12 0 12-1 12-1 12-2 12-2 12-4 12-4 12-5 12-5 12-7 12-9 12-11 12-14 12-19 12-26 12-38 12-56 12-80 12-113 12-152 12-195 12-233 12-261 12-260 12-214 12-115 12 25 12 154 12 236 12 265 12 254 12 223 12 180 12 139 12 102 12 72 12 50 12 34 12 24 12 18 12 13 12 11 12 8 12 8 12 6 12 5 12 4 12 4 12 4 12 3 12 2 12 2 12 1 12 1 12 1 12 1 12 0 12 1 12 0 12 0 12 0 12 1 12 0 12 0 12 1 12 0 12 1 12 1 12 1 12 1 12 1 12 2 12 1 12 1 12 2 12 1 12 2 12 1 12 1 12 2 12 1 12 1 12 1 12 1 12 1 12 1 12 1 12 1 12 1 12 1 12 1 12 1 12 1 12 1 12 1 12 1 12 1 12 1 12 1 12 1 12 1 12 1 12 1 12 1 12 1 12 1 12 1 12 1 12 1 12 1 12 0 12 1 12 1 12 1 12 1 12 0 12 1 12 1 12 1 12 1 12 0 12 1 12 1 12 1 12 0 12 1 12 1 12 1 12 1 12 0 12 1 12 1 12 1 12 1 12 0 12 1 12 1 12 1 12 1 12 0 12 1 12 1 12 1 12 1 12 0 12 1 12 1 12 1 12 1 12 0 12 1 12 1 12 1 12 1 12 0 12 1 12 1 12 1 12 1 12 0 12 1 12 1 12 1 12 1 12 1 12 0 12 1 12 1 12 1 12 0 12 1 12 0 12 1 12 0 12 1 12 0 12 0 12 0 12-1 12 0 12-1 12-1 12-1 12-1 12-2 12-2 12-2 12-3 12-3 12-4 12-4 12-6 12-6 12-7 12-9 12-11 12-13 12-17 12-23 12-31 12-45 12-69 12-108 12-164 12-239 12-329 12-417 12-479 12-474 12-354 12-101 12 199 12 410 12 488 12 465 12 390 12 300 12 214 12 144 12 94 12 62 12 41 12 29 12 21 12 17 12 14 12 11 12 10 12 8 12 7 12 7 12 5 12 5 12 4 12 3 12 4 12 3 12 2 12 3 12 2 12 2 12 1 12 2 12 1 12 1 12 2 12 1 12 1 12 0 12 1 12 1 12 0 12 1 12 1 12 0 12 0 12 1 12 0 12 0 12 1 12 0 12 0 12 0 12 0 12 0 12 0 12 0 12 0 12-1 12-1 12-2 12-5 12-8 12-12 12-18 12-20 12-14 12 0 12 15 12 20 12 19 12 13 12 8 12 5 12 3 12 1 12 1 12 1 12 0 12 1 12 0 12 0 12 0 12-1 12 0 12-1 12 0 12-1 12-1 12-2 12-1 12-2 12-2 12-3 12-3 12-4 12-5 12-6 12-8 12-11 12-15 12-23 12-35 12-52 12-78 12-107 12-141 12-168 12-182 12-164 12-101 12 0 12 102 12 165 12 183 12 169 12 141 12 108 12 78 12 54 12 36 12 23 12 16 12 12 12 8 12 7 12 6 12 4 12 4 12 4 12 3 12 2 12 3 12 2 12 1 12 2 12 2 12 1 12 1 12 1 12 1 12 1 12 1 12 1 12 1 12 0 12 1 12 0 12 1 12 0 12 1 12 0 12 0 12 0 12 1 12 0 12-1 12 0 12 0 12-1 12-2 12-3 12-5 12-7 12-11 12-15 12-18 12-19 12-15 12-5 12 8 12 17 12 19 12 18 12 15 12 11 12 8 12 5 12 3 12 2 12 2 12 1 12 1 12 1 12 1 12 0 12 1 12 1 12 0 12 1 12 0 12 1 12 0 12 1 12 0 12 1 12 0 12 0 12 1 12 0 12 1 12 0 12 1 12 0 12 1 12 0 12 0 12 1 12 0 12 1 12 0 12 1 12 0 12 0 12 1 12 0 12 1 12 0 12 0 12 1 12 0 12 0 12 1 12 0 12 0 12 1 12 0 12 0 12 1 12 0 12 0 12 0 12 1 12 0 12 0 12 0 12 1 12 0 12 0 12 0 12 1 12 0 12 0 12 0 12 0 12 1 12 0 12 0 12 0 12 1 12 0 12 0 12 0 12 0 12 1 12 0 12 0 12 0 12 0 12 0 12 1 12 0 12 0 12 0 12 0 12 0 12 0 12 1 12 0 12 0 12 0 12 0 12 0 12 0 12 0 12 0 12 0 12 1 12 0 12 0 12 0 12 0 12 0 12 0 12 0 12 0 12 0 12 0 12 0 12 0 12 0 12 0 12 0 12 0 12 0 12 0 12 0 12 0 12 0 12 0 12 0 12 0 12 0 12 0 12 1 12 0 12 0 12 0 12 0 12 0 12 0 12 0 12 0 12 0 12 0 12 0 12 1 12 0 12 0 12 1 12 0 12 1 12 1 12 0 12 1 12 1 12 1 12 1 12 0 12 1 12 1 12 1 12 1 12 1 12 1 12 1 12 1 12 1 12 1 12 1 12 1 12 1 12 1 12 1 12 1 12 1 12 1 12 1 12 0 12 1 12 1 12 0 12 1 12 0 12 0 12 1 12 0 12 0 12-1 12 0 12-1 12 0 12-1 12-2 12-1 12-2 12-3 12-2 12-4 12-3 12-5 12-6 12-6 12-8 12-9 12-12 12-16 12-22 12-31 12-46 12-68 12-98 12-138 12-182 12-225 12-259 12-264 12-223 12-121 12 25 12 161 12 243 12 266 12 249 12 212 12 166 12 123 12 87 12 60 12 39 12 27 12 19 12 14 12 11 12 8 12 7 12 6 12 4 12 4 12 4 12 2 12 3 12 2 12 1 12 2 12 1 12 1 12 0 12 0 12 0 12 0 12 0 12-1 12-1 12-2 12-2 12-3 12-4 12-7 12-10 12-15 12-23 12-32 12-43 12-51 12-57 12-54 12-36 12-6 12 27 12 49 12 57 12 54 12 46 12 35 12 26 12 17 12 12 12 7 12 5 12 4 12 2 12 2 12 2 12 1 12 1 12 0 12 1 12 0 12 1 12 0 12 0 12 0 12 0 12 0 12 0 12 0 12 0 12 0 12 0 12 0 12 0 12 0 12 0 12-1 12 0 12 0 12 0 12 0 12 0 12-1 12 0 12 0 12 0 12 0 12-1 12 0 12 0 12 0 12-1 12 0 12 0 12 0 12 0 12-1 12 0 12 0 12 0 12 0 12 0 12-1 12 0 12 0 12 0 12 0 12 0 12-1 12 0 12 0 12 0 12 0 12 0 12 0 12 0 12 0 12-1 12 0 12 0 12 0 12 0 12 0 12 0 12 0 12 0 12 0 12 0 12 0 12 0 12 0 12 0 12 0 12 0 12-1 12 0 12 0 12 0 12 0 12 0 12 0 12 0 12 0 12 0 12-1 12 0 12 0 12-1 12 0 12-1 12 0 12-1 12-1 12-1 12-1 12-2 12-1 12-3 12-2 12-4 12-5 12-7 12-10 12-17 12-26 12-40 12-57 12-78 12-95 12-102 12-88 12-43 12 22 12 77 12 101 12 99 12 85 12 65 12 45 12 31 12 19 12 13 12 8 12 5 12 4 12 3 12 2 12 0 12 0 12-2 12-4 12-6 12-9 12-11 12-13 12-12 12-8 12-2 12 7 12 12 12 15 12 13 12 12 12 10 12 7 12 5 12 3 12 2 12 2 12 1 12 1 12 1 12 1 12 0 12 1 12 0 12 1 12 0 12 1 12 0 12 0 12 1 12 0 12 0 12 0 12 0 12 1 12 0 12 0 12 0 12 0 12 0 12 0 12 0 12 1 12 0 12 0 12 0 12 0 12 0 12 0 12 0 12 0 12 0 12 0 12 0 12 0 12 0 12 0 12 0 12 0 12 1 12 0 12 0 12 0 12 0 12-1 12 0 12 0 12 0 12 0 12 0 12 0 12 0 12 0 12 0 12 0 12 0 12 0 12 0 12-1 12 0 12 0 12 0 12 0 12-1 12 0 12 0 12-1 12 0 12 0 12-1 12-1 12 0 12-1 12-1 12-1 12-1 12-2 12-1 12-3 12-2 12-5 12-6 12-9 12-13 12-20 12-27 12-34 12-40 12-43 12-37 12-21 12 3 12 25 12 37 12 40 12 36 12 27 12 20 12 11 12 4 12-5 12-14 12-24 12-38 12-53 12-69 12-81 12-85 12-71 12-37 12 14 12 58 12 82 12 86 12 78 12 63 12 48 12 34 12 23 12 15 12 10 12 7 12 5 12 4 12 3 12 3 12 2 12 2 12 1 12 2 12 1 12 1 12 1 12 1 12 1 12 0 12 1 12 1 12 0 12 1 12 0 12 1 12 0 12 1 12 0 12 1 12 0 12 1 12 0 12 1 12 0 12 1 12 0 12 1 12 0 12 1 12 0 12 1 12 0 12 1 12 0 12 1 12 0 12 1 12 0 12 1 12 0 12 0 12 1 12 0 12 1 12 0 12 0 12 1 12 0 12 0 12 1 12 0 12 0 12 0 12 1 12 0 12 0 12 0 12 0 12 1 12 0 12 0 12 0 12 0 12 0 12 1 12 0 12 0 12 0 12 0 12 0 12 0 12 1 12 0 12 0 12 0 12 0 12 0 12 0 12 1 12 0 12 0 12 0 12 0 12 0 12 0 12 0 12 0 12 0 12 1 12 0 12 0 12 0 12 0 12 0 12 0 12 0 12 0 12 0 12 0 12 0 12 0 12 0 12 0 12 0 12 0 12 0 12 0 12 0 12 0 12-1 12 0 12-1 12-1 12-1 12-2 12-2 12-3 12-4 12-5 12-5 12-6 12-6 12-7 12-6 12-6 12-4 12-2 12 0 12 4 12 5 12 6 12 7 12 7 12 7 12 6 12 5 12 5 12 4 12 3 12 3 12 2 12 1 12 1 12 1 12 1 12 1 12 0 12 1 12 0 12 1 12 0 12 0 12 1 12 0 12 0 12 1 12 0 12 0 12 0 12 0 12 1 12 0 12 0 12 0 12 0 12 0 12 0 12 0 12 1 12 0 12 0 12 0 12 0 12 0 12 0 12 0 12 0 12 0 12 0 12 0 12 0 12 0 12 0 12 0 12 0 12 0 12 0 12 0 12 0 12 0 12-1 12 0 12 0 12 0 12 0 12 0 12 0 12 0 12 0 12 0 12-1 12 0 12 0 12 0 12 0 12 0 12 0 12 0 12 0 12 0 12 0 12-1 12 0 12 0 12 0 12 0 12 0 12 0 12 0 12 0 12 0 12 0 12 0 12 0 12 0 12 0 12 0 12-1 12 0 12 0 12 0 12 0 12-1 12 0 12-1 12 0 12-2 12-1 12-2 12-2 12-3 12-4 12-3 12-5 12-5 12-4 12-5 12-3 12-2 12-1 12 2 12 3 12 4 12 5 12 5 12 5 12 5 12 4 12 4 12 3 12 3 12 2 12 1 12 2 12 1 12 1 12 1 12 0 12 1 12 0 12 1 12 0 12 1 12 0 12 0 12 1 12 0 12 0 12 1 12 0 12 0 12 1 12 0 12 0 12 0 12 1 12 0 12 0 12 0 12 0 12 1 12 0 12 0 12 0 12 0 12 0 12 0 12 1 12 0 12 0 12 0 12 0 12 0 12 0 12 0 12 0 12 0 12 1 12 0 12 0 12 0 12 0 12 0 12 0 12 0 12 0 12 0 12 0 12 0 12 0 12 0 12 1 12 0 12 0 12 0 12 0 12 0 12 0 12 0 12 0 12 0 12 0 12 0 12 0 12 0 12 0 12 0 12 0 12 0 12 1 12 0 12 0 12 0 12 0 12 0 12 0 12 0 12 0 12 0 12 0 12 0 12 0 12 0 12 0 12 0 12 0 12 0 12 0 12 0 12 0 12 0 12 0 12 0 12 0 12 0 12 0 12 0 12 0 12 0 12 0 12 0 12 0 12 0 12 0 12-1 12 0 12 0 12 0 12 0 12 0 12-1 12 0 12 0 12-1 12 0 12 0 12-1 12-1 12-1 12-1 12-2 12-3 12-4 12-5 12-8 12-9 12-11 12-14 12-14 12-14 12-11 12-6 12 1 12 8 12 12 12 15 8 9"/>
</g>
<g fill="none" stroke="#f00" stroke-linejoin="round" transform="scale(0.1)">
<path fill="#f00" stroke="none" d="M1335 5909l19 2 1-3 19 2 1-25 19 3 1 47 19 2 1-28 19 2 1 22 19 2 1-23 19 2 1 33 19 2 1-1 19 1 1-48 19 2 1 6 19 1 1 5 19 1 1 45 19 1 1-55 19 1 1 40 19 1 1 2 19 1 1 33 19 1 1-42 19 1 1 20 19 1 1-30 19 0 1 9 19 0 1-27 19 1 1 35 19 0 1 33 19 0 1-28 19 1 1-33 19 0 1 52 19 1 1-75 19 0 1 61 19 0 1-6 19 1 1-14 19 1 1 7 19 0 1-8 19 0 1-13 19 0 1 25 19 1 1-17 19 1 1 23 19 1 1 12 19 1 1-45 19 1 1-14 19 0 1 23 19 1 1 7 19 1 1-30 19 1 1 39 19 1 1-7 19 1 1-17 19 1 1 20 19 1 1-7 19 1 1 36 19 0 1-67 19 1 1 38 19 1 1 8 19 1 1-28 19 1 1 39 19 0 1-28 19 1 1-10 19 1 1-26 19 0 1 82 19 1 1-4 19 1 1-23 19 1 1 1 19 1 1-12 19 1 1 25 19 1 1-91 19 1 1 76 19 1 1 17 19 1 1-29 19 1 1-14 19 1 1 29 19 1 1 14 19 1 1-46 19 1 1 22 19 1 1 24 19 1 1-60 19 1 1 39 19 2 1-6 19 2 1-33 19 2 1 20 19 2 1-10 19 2 1 47 19 2 1 0 19 1 1-18 19 1 1-4 19 1 1-13 19 1 1-53 19-1 1 62 19-2 1 9 19-3 1-16 19-5 1 23 19-6 1-7 19-9 1-47 19-13 1 48 19-21 1-9 19-36 1-28 19-70 1 18 19-138 1 41 19-251 1-81 19-395 1 10 19-505 1 26 19-450 1-12 19-98 1-29 19 344 1 27 19 519 1-8 19 458 1 45 19 317 1-41 19 187 1 23 19 100 1 13 19 53 1 14 19 30 1-18 19 18 1 42 19 8 1-65 19 3 1 11 19 2 1 6 19 3 1-5 19 5 1-10 19 6 1 20 19 6 1-20 19 6 1 20 19 6 1 22 19 6 1-50 19 6 1 47 19 5 1 7 19 5 1-34 19 4 1-7 19 3 1 9 19 4 1 24 19 3 1-25 19 3 1-5 19 3 1 17 19 3 1 11 19 3 1 3 19 3 1-30 19 3 1 30 19 3 1-42 19 3 1 15 19 4 1 29 19 4 1-30 19 5 1 15 19 4 1 9 19 4 1-28 19 4 1 24 19 4 1 3 19 4 1-26 19 4 1 18 19 3 1 0 19 2 1 14 19 3 1-13 19 3 1-5 19 2 1 0 19 2 1-2 19 2 1-6 19 2 1 34 19 2 1-24 19 2 1-16 19 2 1-3 19 3 1 20 19 2 1 19 19 2 1 14 19 2 1-50 19 3 1 13 19 2 1 34 19 2 1-53 19 2 1 38 19 2 1-1 19 2 1 0 19 3 1 32 19 3 1-32 19 3 1-15 19 3 1 28 19 3 1-6 19 3 1-20 19 3 1 4 19 3 1 12 19 2 1-26 19 2 1 15 19 2 1 31 19 3 1-26 19 2 1 4 19 2 1-34 19 2 1 0 19 3 1 25 19 2 1 29 19 3 1-41 19 3 1 14 19 2 1 8 19 3 1-19 19 2 1 14 19 3 1-20 19 3 1 36 19 3 1-23 19 3 1-23 19 3 1 53 19 2 1-20 19 2 1 6 19 1 1-36 19 1 1 22 19-1 1-21 19-1 1-27 19-3 1 63 19-5 1 6 19-7 1-40 19-10 1 7 19-15 1-13 19-24 1 29 19-44 1 11 19-87 1-37 19-174 1 18 19-313 1 8 19-470 1-31 19-535 1-35 19-320 1-7 19 179 1 52 19 511 1-21 19 513 1 33 19 370 1 3 19 219 1-9 19 114 1 25 19 59 1-9 19 33 1 20 19 22 1-10 19 16 1-6 19 12 1-35 19 9 1 36 19 7 1 21 19 7 1-69 19 6 1 57 19 5 1-24 19 4 1 7 19 3 1-39 19 2 1 29 19 2 1 10 19 2 1-2 19 1 1 14 19 1 1 0 19 1 1-9 19 1 1 25 19 1 1-6 19 1 1-33 19 0 1 10 19 0 1 6 19 0 1 11 19 0 1-3 19 0 1-11 19 0 1 14 19-1 1-7 19-2 1-14 19-3 1 23 19-6 1-10 19-14 1 5 19-26 1-2 19-24 1-12 19 9 1 19 19 28 1-6 19 21 1 1 19 10 1 20 19 3 1-2 19 1 1-34 19 0 1 1 19 0 1-8 19-1 1 17 19-1 1 12 19-1 1-20 19-1 1 9 19-1 1-2 19-1 1-3 19-2 1-16 19-2 1 21 19-3 1 15 19-5 1-25 19-7 1-29 19-13 1 45 19-26 1 1 19-52 1-3 19-95 1-23 19-151 1 2 19-195 1-4 19-178 1-26 19-47 1 37 19 129 1 20 19 202 1-33 19 182 1 25 19 127 1-25 19 75 1 15 19 41 1-5 19 21 1 34 19 12 1-7 19 8 1-62 19 5 1 80 19 4 1-67 19 2 1 31 19 1 1 40 19 1 1-20 19 0 1-9 19 0 1 24 19 0 1-20 19 0 1-9 19 1 1 36 19 1 1-26 19 0 1-13 19 0 1 10 19 1 1-2 19 0 1 5 19 0 1-2 19 0 1 14 19 0 1-18 19-1 1-20 19-2 1 30 19-4 1-2 19-8 1-20 19-16 1-7 19-25 1-5 19-26 1 34 19-7 1-1 19 20 1-30 19 29 1 3 19 22 1 21 19 13 1 10 19 7 1 18 19 4 1-23 19 3 1 24 19 1 1-29 19 1 1 14 19 2 1-10 19 1 1 5 19 1 1 8 19 1 1-6 19 1 1-12 19 1 1 0 19 1 1 12 19 1 1-9 19 2 1-33 19 1 1 36 19 2 1-28 19 2 1 36 19 2 1-17 19 1 1 10 19 1 1 6 19 2 1 1 19 2 1-14 19 2 1 3 19 1 1-20 19 2 1 10 19 1 1-27 19 1 1 25 19 1 1 25 19 2 1 21 19 1 1-25 19 1 1 1 19 1 1-12 19 1 1-1 19 0 1 15 19 1 1-17 19 1 1-13 19 1 1-4 19 1 1 26 19 1 1 15 19 1 1-8 19 1 1 1 19 1 1-35 19 1 1 38 19 1 1-29 19 0 1-14 19 0 1 23 19 1 1-5 19 1 1 3 19 0 1 7 19 1 1-6 19 0 1 21 19 0 1-28 19 1 1 31 19 0 1-3 19 0 1-9 19 1 1 11 19 0 1-24 19 0 1 20 19 0 1-6 19 0 1-8 19 0 1-4 19 0 1 5 19 0 1 23 19 0 1 2 19 0 1-27 19 0 1 3 19 1 1-15 19 0 1 24 19 0 1-23 19 0 1-3 19 0 1 16 19 0 1 32 19 0 1-41 19 0 1 15 19 0 1 7 19 0 1-24 19 0 1 9 19 0 1-8 19 0 1 2 19 0 1 24 19 0 1-26 19 0 1 17 19 0 1 8 19 0 1-41 19 1 1 42 19 1 1 1 19 1 1-14 19 1 1 8 19 1 1 8 19 1 1 6 19 1 1-35 19 1 1 22 19 1 1 20 19 1 1-22 19 1 1-10 19 1 1-6 19 2 1-6 19 1 1 14 19 2 1 10 19 1 1-13 19 1 1 5 19 2 1 21 19 1 1-6 19 1 1-46 19 1 1 26 19 0 1-3 19 0 1 15 19 0 1 5 19 0 1-6 19-1 1-25 19-1 1 11 19-2 1 16 19-2 1-28 19-4 1 36 19-4 1-2 19-6 1-25 19-7 1 10 19-10 1 2 19-14 1-49 19-20 1 60 19-33 1-55 19-60 1 42 19-113 1 4 19-197 1-25 19-297 1-15 19-372 1 16 19-331 1-14 19-89 1 29 19 228 1-19 19 371 1 16 19 343 1-22 19 247 1 33 19 151 1 15 19 84 1-34 19 44 1 28 19 24 1-23 19 15 1 43 19 10 1-31 19 8 1 7 19 5 1 1 19 4 1-26 19 3 1 18 19 2 1-11 19 1 1-19 19 0 1 27 19 0 1-25 19-1 1 22 19-2 1 9 19-3 1 3 19-6 1-12 19-11 1 13 19-21 1-8 19-38 1-2 19-60 1-25 19-74 1 14 19-62 1 22 19-4 1-47 19 57 1 29 19 75 1-22 19 62 1 29 19 40 1 20 19 22 1-27 19 12 1 12 19 6 1 13 19 4 1-59 19 3 1 33 19 2 1 11 19 2 1 9 19 1 1 2 19 1 1 0 19 1 1 6 19 1 1-11 19 0 1 21 19 1 1-44 19 0 1-12 19 1 1 20 19 0 1 3 19 0 1 10 19 0 1 2 19 0 1-14 19 0 1 12 19 0 1 17 19 1 1-39 19 0 1 40 19 1 1-28 19 0 1 15 19 0 1-7 19 0 1 1 19 0 1 3 19 0 1-1 19 0 1-18 19 0 1 16 19 0 1-16 19 0 1 23 19 0 1-22 19 0 1 16 19 0 1-46 19 0 1 25 19 0 1 32 19 0 1-27 19 0 1-18 19 0 1 32 19 0 1-10 19 0 1-21 19 0 1-2 19 0 1 31 19 0 1 7 19 0 1-15 19 0 1 5 19 0 1-30 19 0 1 19 19 0 1 9 19-1 1 1 19 0 1-2 19 0 1-14 19 0 1 19 19 0 1-6 19 0 1 0 19 0 1 10 19 0 1 25 19 0 1-41 19 0 1-6 19 0 1 16 19-1 1 9 19-1 1-6 19-1 1-4 19-2 1 16 19-2 1-5 19-2 1-16 19-4 1 24 19-9 1-22 19-17 1 28 19-31 1-10 19-48 1-18 19-57 1-12 19-33 1 19 19 22 1 5 19 55 1 5 19 52 1-14 19 35 1 1 19 19 1-14 19 9 1 16 19 4 1 4 19 2 1-11 19 2 1 0 19 1 1-35 19-1 1 41 19-3 1-12 19-9 1 22 19-15 1-35 19-18 1 45 19-6 1-17 19 15 1 13 19 19 1-9 19 13 1-13 19 7 1 16 19 2 1 5 19 1 1 2 19 1 1-21 19 1 1-3 19 0 1-8 19 1 1-9 19 0 1 31 19 0 1 5 19 0 1 0 19 0 1-2 19 0 1-26 19 0 1 19 19 0 1 11 19 1 1 6 19 1 1-47 19 0 1 25 19 0 1-19 19 1 1 51 19 1 1-11 19 1 1-50 19 0 1 62 19 0 1-31 19 1 1-14 19 1 1 7 19 1 1 14 19 0 1-16 19 1 1 34 19 0 1-29 19 1 1 13 19 1 1 1 19 1 1-46 19 1 1 8 19 1 1 19 19 0 1-41 19 1 1 43 19 1 1 18 19 1 1-20 19 1 1 8 19 1 1 15 19 1 1-21 19 1 1 6 19 1 1-16 19 0 1-6 19 0 1 39 19 0 1-1 19 1 1-10 19 0 1 3 19 0 1 10 19 0 1 16 19-1 1-35 19-1 1 8 19-2 1 0 19-5 1-12 19-10 1 21 19-19 1-19 19-31 1 10 19-43 1-5 19-43 1-9 19-18 1 4 19 24 1-15 19 44 1 11 19 41 1 5 19 26 1 13 19 10 1-15 19-6 1 4 19-25 1-6 19-45 1 0 19-60 1 5 19-52 1-2 19-7 1 4 19 46 1-10 19 65 1 15 19 55 1 5 19 38 1 10 19 22 1-18 19 12 1-9 19 6 1 0 19 5 1 9 19 3 1-4 19 2 1 17 19 2 1-1 19 1 1-17 19 1 1 7 19 1 1-11 19 1 1-13 19 1 1 30 19 1 1 0 19 1 1-29 19 1 1 21 19 0 1 3 19 0 1-11 19 0 1-21 19 0 1 31 19 1 1-12 19 1 1-12 19 1 1 17 19 1 1-4 19 1 1 8 19 1 1 2 19 0 1-32 19 0 1 28 19 1 1-10 19 0 1 7 19 1 1 8 19 1 1-17 19 0 1 22 19 0 1-7 19 0 1 22 19 1 1-17 19 0 1-18 19 0 1 18 19 0 1-13 19 0 1 23 19 0 1-40 19 0 1 27 19 0 1 1 19 0 1-19 19 1 1 32 19 1 1-20 19 0 1 2 19 0 1-8 19 0 1 16 19 0 1-32 19 0 1 9 19 0 1 34 19 0 1-12 19 1 1 0 19 1 1-16 19 0 1 25 19 1 1-17 19 0 1 34 19 0 1-24 19 1 1 3 19 0 1-23 19 0 1-11 19 0 1-12 19 0 1 38 19 0 1 27 19 0 1-23 19 1 1-21 19 0 1 48 19 0 1-13 19 0 1 2 19 0 1-20 19 0 1 20 19 0 1-11 19 0 1 8 19 0 1-4 19-2 1-22 19-3 1 22 19-3 1 13 19-5 1-22 19-5 1-20 19-6 1 6 19-5 1 14 19-3 1 3 19 1 1-4 19 5 1-47 19 7 1 52 19 6 1-42 19 6 1 40 19 5 1 12 19 3 1-27 19 2 1-9 19 2 1 29 19 1 1-13 19 1 1-1 19 1 1 1 19 1 1 18 19 1 1-41 19 1 1 41 19 1 1-1 19 0 1-48 19 1 1 43 19 1 1 11 19 0 1-5 19 0 1-45 19 0 1 23 19 1 1 19 19 0 1-11 19 1 1-10 19 0 1-2 19 1 1 13 19 0 1-15 19 1 1-14 19 1 1 27 19 0 1 3 19 1 1-8 19 0 1-16 19 0 1 22 19 0 1-5 19 0 1 12 19 0 1-12 19 0 1 7 19 1 1 1 19 0 1 5 19 1 1-22 19 0 1 13 19 1 1 13 19 0 1-6 19 0 1 16 19 1 1-54 19 1 1 29 19 0 1-17 19 0 1 13 19 0 1 17 19 0 1-9 19 0 1 0 19 0 1 10 19 1 1 5 19 0 1-14 19 0 1 5 19 1 1-18 19 0 1-13 19 0 1 27 19 0 1-17 19-1 1 27 19-1 1 6 19-1 1-5 19-2 1-16 19-3 1 18 19-4 1-8 19-5 1 6 19-6 1-22 19-8 1-1 19-7 1 0 19-5 1-6 19-1 1 8 19 5 1 7 19 8 1 14 19 8 1-57 19 8 1 49 19 7 1 5 19 5 1-25 19 3 1 1 19 2 1 7 19 2 1 27 19 1 1-6 19 1 1-10 19 0 1-8 19 1 1 1 19 1 1 28 19 0 1-23 19 0 1-2 19 0 1-18 19 1 1 24 19 1 1-13 19 0 1-6 19 0 1 8 19 0 1 24 19 0 1-14 19 1 1-16 19 1 1 36 19 1 1-48 19 1 1 38 19 1 1-3 19 0 1 6 19 0 1-15 19 1 1-8 19 0 1 6 19 0 1 4 19 0 1-8 19 0 1 30 19 1 1-24 19 0 1 1 19 0 1-18 19 0 1 4 19 0 1-3 19 0 1 29 19 0 1-16 19 0 1 20 19 0 1-23 19 0 1-15 19 0 1 25 19 0 1-33 19 1 1 26 19 0 1-22 19 0 1 26 19 0 1-34 19 0 1 21 19 1 1 24 19 0 1-19 19 0 1 16 19 0 1 8 19 0 1-36 19 0 1 19 19 0 1-17 19 0 1 22 19 0 1-8 19 0 1-3 19 1 1 30 19 1 1-9 19 1 1 13 19 0 1-16 19 0 1-47 19 0 1 44 19 1 1 18 19 0 1-15 19 0 1-36 19 0 1-2 19 0 1 27 19 0 1 24 19 0 1-1 19 0 1-40 19 0 1 15 19 0 1 19 19 0 1 0 19 0 1-17 19 0 1 6 19 0 1 21 19 0 1-64 19 0 1 49 19-1 1-8 19-1 1 11 19-3 1 6 19-5 1-5 19-7 1-42 19-11 1 45 19-14 1-7 19-14 1 0 19-9 1-3 19 3 1 9 19 12 1-8 19 15 1-5 4 2 0 128-4-3-1-9-19-15-1 7-19-12-1-4-19-3-1 0-19 9-1 14-19 14-1-35-19 14-1 1-19 11-1-2-19 8-1 5-19 5-1-14-19 2-1 35-19 1-1-10-19 1-1 12-19 0-1-4-19 0-1-35-19 0-1 13-19 0-1 20-19 0-1 6-19 0-1-2-19 0-1-24-19 0-1 22-19 0-1-9-19 0-1-13-19 0-1-12-19-1-1 0-19 0-1 21-19 0-1 14-19 0-1-17-19 0-1-12-19 0-1 3-19 0-1 26-19 0-1-6-19 0-1 16-19 0-1-14-19-1-1-4-19 0-1-24-19 0-1 18-19 0-1 23-19 0-1 5-19 0-1-38-19-1-1 4-19 0-1 38-19 0-1-56-19 0-1 23-19-1-1 0-19 0-1 10-19 0-1-23-19 0-1-2-19 0-1 42-19-1-1-13-19 0-1-34-19 0-1 12-19-1-1 11-19 0-1 11-19 0-1-18-19-1-1 10-19 0-1-5-19 0-1-6-19-1-1 8-19 0-1 4-19 0-1 2-19-1-1-13-19 0-1-11-19 0-1 17-19 0-1 8-19-1-1-22-19 0-1 8-19 0-1-8-19 0-1 16-19 0-1 2-19-1-1-10-19 0-1-2-19 0-1 6-19 0-1 22-19 0-1-24-19-1-1-10-19 0-1 47-19 0-1-8-19 0-1-56-19 0-1 27-19 0-1-6-19 0-1 7-19-1-1-5-19-1-1-21-19-1-1 33-19 0-1-8-19-1-1-14-19-2-1 0-19-2-1 15-19-3-1 1-19-4-1 7-19-5-1 4-19-6-1 2-19-8-1-5-19-8-1-3-19-7-1-26-19-4-1 27-19 1-1-35-19 5-1 62-19 7-1-56-19 8-1 29-19 7-1 19-19 6-1-23-19 4-1-11-19 3-1 12-19 2-1-15-19 1-1 36-19 0-1-14-19 1-1-15-19 0-1-18-19 0-1 36-19 0-1-20-19 0-1 9-19 0-1 26-19 0-1-45-19 0-1 11-19 0-1-9-19 0-1 15-19-1-1-10-19 0-1-9-19 0-1-7-19 0-1 45-19 0-1-36-19 0-1 12-19 0-1-31-19-1-1 32-19 0-1-19-19-1-1 16-19 0-1-6-19 0-1 16-19 0-1-9-19 0-1-8-19 0-1-20-19 0-1 33-19 0-1-13-19 0-1 25-19-1-1-38-19 0-1 20-19 0-1 7-19 0-1-16-19 0-1-12-19-1-1 19-19 0-1-3-19 0-1 21-19 0-1-29-19 0-1 18-19-1-1-4-19 0-1 0-19 0-1 5-19-1-1-34-19-1-1 16-19 0-1 6-19-1-1 22-19-1-1-21-19 0-1 1-19-1-1-2-19-1-1-2-19-1-1-10-19-1-1 38-19-2-1-29-19-2-1-4-19-3-1 0-19-4-1 7-19-5-1 3-19-6-1 18-19-6-1-29-19-6-1 20-19-4-1 10-19-2-1 10-19 2-1-11-19 6-1-31-19 6-1 21-19 5-1-21-19 5-1 18-19 4-1-17-19 3-1 16-19 2-1-12-19 1-1 14-19 0-1 2-19 0-1-13-19 0-1 25-19 0-1-26-19-1-1 14-19 0-1-3-19 0-1 17-19 0-1 8-19 0-1-27-19-1-1 5-19-1-1 39-19 0-1-52-19-1-1 19-19-1-1-6-19 0-1 0-19 0-1 5-19 0-1-7-19 0-1-29-19-1-1 31-19-1-1 10-19 0-1-14-19-1-1 6-19-1-1-3-19 0-1-6-19 0-1-7-19 0-1 22-19-1-1 0-19-1-1-20-19 0-1 12-19 0-1-9-19-1-1 33-19-1-1-25-19 0-1-17-19-1-1 15-19 0-1-6-19-1-1-4-19 0-1-4-19-1-1 7-19-1-1 33-19 0-1-30-19-1-1-22-19-1-1 36-19-1-1-4-19-1-1 11-19-1-1-20-19-1-1-10-19-1-1 11-19 0-1-5-19 0-1 21-19-1-1-16-19 0-1-22-19-1-1 12-19-1-1 25-19-1-1-28-19-1-1 28-19 0-1 22-19-1-1-33-19-1-1-3-19-1-1-14-19-1-1-6-19-1-1 39-19-1-1-33-19-1-1 32-19-1-1-25-19-2-1-9-19-2-1 9-19-2-1 56-19-2-1-50-19-3-1-26-19-4-1 33-19-6-1 19-19-12-1-18-19-22-1 4-19-38-1-3-19-55-1-2-19-65-1 15-19-46-1-17-19 8-1 0-19 53-1-16-19 60-1 7-19 45-1-4-19 25-1 25-19 6-1 10-19-10-1-4-19-26-1-41-19-41-1 54-19-44-1-39-19-24-1 14-19 18-1-18-19 43-1 11-19 44-1 40-19 32-1-51-19 20-1 14-19 10-1-26-19 5-1 19-19 3-1 17-19 1-1-12-19 1-1-15-19 1-1 36-19 0-1-16-19 0-1-13-19 0-1 1-19 0-1-9-19 0-1-3-19 0-1-8-19-1-1 29-19-1-1-21-19 0-1 12-19 0-1-1-19-1-1-5-19 0-1 2-19-1-1-16-19-1-1 22-19-1-1 1-19 0-1-5-19-1-1 18-19-1-1-42-19-1-1 9-19-1-1-3-19 0-1 15-19 0-1 5-19-1-1 9-19-1-1 5-19-1-1 11-19 0-1-38-19-1-1 0-19 0-1 6-19-1-1 16-19 0-1 0-19 0-1-19-19-1-1 0-19 0-1 45-19-1-1-51-19-1-1 8-19 0-1 7-19 0-1 7-19 0-1 45-19-1-1-64-19-1-1-6-19 0-1 40-19 0-1-1-19-1-1-33-19 0-1 41-19 0-1 3-19-1-1-20-19-1-1-31-19-3-1 28-19-6-1-5-19-12-1-17-19-19-1 12-19-14-1-8-19 5-1 19-19 18-1-15-19 15-1 6-19 8-1-2-19 3-1-11-19 1-1 41-19-1-1-11-19-1-1-4-19-2-1-26-19-4-1-2-19-10-1 16-19-19-1-21-19-35-1 30-19-52-1-35-19-55-1 12-19-22-1-14-19 33-1 36-19 56-1 37-19 49-1-26-19 32-1-14-19 17-1 12-19 8-1-26-19 4-1 14-19 3-1 21-19 2-1-28-19 1-1-3-19 1-1 26-19 0-1-12-19 0-1-26-19 0-1 4-19 0-1 7-19 0-1 0-19 1-1-2-19 0-1-8-19 0-1-3-19 0-1 39-19 0-1-33-19 0-1-13-19 0-1 38-19 0-1-12-19 0-1 8-19 0-1 7-19 0-1-40-19 0-1 33-19 0-1-7-19 0-1 12-19 0-1-22-19 0-1 0-19 0-1 22-19 0-1-27-19 0-1 11-19 0-1 12-19 0-1-2-19 0-1-23-19 0-1 22-19 0-1-19-19 0-1 1-19 0-1-7-19 0-1 10-19 0-1 11-19 0-1-8-19 0-1 27-19 0-1-20-19 0-1-25-19 0-1 33-19 0-1-9-19 0-1-4-19 0-1-20-19 0-1 32-19 0-1-23-19 0-1-5-19 0-1 20-19 0-1-26-19 0-1 43-19-1-1-9-19-1-1-5-19 0-1-4-19-1-1 1-19 0-1 2-19 0-1-4-19-1-1 14-19-1-1-32-19-1-1 7-19-1-1 9-19-2-1 5-19-2-1 7-19-2-1 12-19-4-1-28-19-6-1 5-19-12-1-4-19-23-1-5-19-41-1 23-19-62-1-28-19-75-1-2-19-56-1-8-19 5-1 9-19 62-1 16-19 75-1 14-19 59-1-20-19 39-1-6-19 22-1 26-19 11-1-3-19 5-1 2-19 4-1-33-19 1-1 39-19 0-1-27-19 0-1 17-19-1-1-34-19-1-1 39-19-2-1 1-19-2-1-20-19-4-1 17-19-5-1-26-19-7-1 47-19-11-1-36-19-15-1 1-19-24-1 6-19-44-1-15-19-83-1 8-19-151-1-10-19-248-1 3-19-342-1-29-19-371-1 5-19-228-1 14-19 88-1 9-19 330-1 3-19 371-1 14-19 297-1-18-19 196-1 27-19 113-1-15-19 61-1 14-19 34-1 10-19 20-1-26-19 13-1 2-19 10-1 10-19 8-1 29-19 6-1-50-19 4-1 19-19 3-1-28-19 3-1 2-19 2-1 9-19 2-1 13-19 1-1 31-19 0-1-44-19 0-1-5-19 0-1 43-19-1-1 16-19-1-1-49-19-1-1 23-19-1-1-32-19-1-1 24-19-2-1 13-19-2-1-35-19-1-1 28-19-1-1-30-19-1-1-2-19-1-1 24-19-2-1-4-19-1-1 4-19-2-1-11-19-1-1 2-19-2-1 25-19-1-1-22-19-1-1-4-19-1-1 14-19-1-1-5-19-1-1 8-19 0-1-31-19 0-1 11-19 0-1-7-19 0-1 24-19 0-1-33-19-1-1 22-19 0-1-11-19 0-1-4-19 0-1 60-19 0-1-36-19 0-1-15-19-1-1 22-19 0-1-8-19 0-1 6-19 0-1-9-19 0-1 12-19 0-1 34-19 0-1-11-19 0-1-43-19 0-1 25-19 0-1 1-19 0-1-8-19 0-1-23-19-1-1 46-19 0-1-27-19 0-1 9-19 0-1-18-19 0-1 17-19 0-1-13-19 0-1-16-19-1-1 6-19-1-1 41-19 0-1-22-19 0-1-13-19 0-1 0-19-1-1-3-19-1-1 14-19 0-1 30-19-1-1-24-19-1-1 3-19-1-1-38-19-1-1 9-19-1-1 17-19-1-1-23-19-1-1 21-19 0-1-40-19-1-1 19-19-1-1 16-19-1-1 4-19-1-1-5-19-1-1 6-19-1-1 7-19-1-1 2-19-1-1-9-19-1-1-20-19-1-1 7-19-1-1 20-19-1-1-7-19-2-1 6-19-2-1 19-19-1-1-11-19-2-1-2-19-1-1-28-19-2-1 8-19-2-1 13-19-2-1-8-19-1-1 22-19-1-1-16-19-2-1 8-19-2-1-4-19-2-1-38-19-1-1 15-19-1-1 9-19-1-1 19-19-1-1 0-19-1-1-17-19-1-1 18-19-1-1-28-19-1-1 16-19-1-1-21-19-1-1 34-19-2-1-10-19-2-1-11-19-3-1 21-19-7-1-1-19-13-1-25-19-22-1 17-19-28-1-25-19-20-1 15-19 7-1-6-19 26-1-2-19 25-1-23-19 16-1 26-19 8-1 11-19 3-1-17-19 1-1 10-19 0-1 4-19 0-1 16-19 0-1-48-19 0-1 77-19 0-1-41-19-1-1-9-19-1-1-6-19 0-1 24-19-1-1-36-19-1-1 25-19-1-1-7-19 0-1 23-19 0-1-18-19 0-1-5-19 0-1-5-19-1-1-3-19-2-1-1-19-3-1-1-19-5-1 19-19-8-1-12-19-13-1 4-19-22-1 34-19-41-1-47-19-75-1 4-19-127-1-1-19-182-1 23-19-203-1-26-19-129-1-18-19 47-1 6-19 179-1 23-19 195-1 18-19 151-1-21-19 95-1-4-19 51-1-6-19 26-1 37-19 13-1-37-19 7-1 14-19 4-1 5-19 3-1 14-19 2-1-3-19 2-1-13-19 1-1 17-19 1-1 11-19 1-1-3-19 1-1-1-19 1-1 11-19 1-1-15-19 0-1-42-19 0-1-2-19-1-1 61-19-4-1-28-19-10-1-5-19-20-1 8-19-29-1-9-19-9-1-26-19 24-1-2-19 26-1-1-19 15-1 3-19 6-1 40-19 3-1-25-19 1-1 2-19 0-1-7-19 1-1 19-19 0-1 1-19 0-1 17-19 0-1-26-19-1-1 11-19 0-1-24-19 0-1-4-19 0-1 42-19-1-1-3-19 0-1-15-19-1-1-5-19-1-1-3-19-1-1 10-19-2-1-23-19-2-1 19-19-3-1-21-19-3-1 62-19-4-1-45-19-5-1-6-19-7-1 21-19-8-1-12-19-9-1 53-19-12-1-63-19-16-1 16-19-22-1-22-19-33-1 43-19-59-1-35-19-114-1 35-19-219-1-23-19-370-1-48-19-514-1 2-19-511-1-25-19-180-1 20-19 320-1 12-19 535-1 5-19 470-1 22-19 314-1 6-19 174-1 31-19 87-1-44-19 43-1-3-19 24-1 17-19 15-1 8-19 10-1-3-19 7-1-37-19 5-1 30-19 3-1 25-19 2-1 3-19 1-1-47-19 0-1 15-19-1-1 27-19-1-1-17-19-2-1 7-19-3-1-24-19-2-1 9-19-3-1 30-19-3-1-7-19-3-1-27-19-3-1 57-19-3-1-42-19-3-1-8-19-2-1-11-19-3-1 5-19-2-1-20-19-2-1 49-19-2-1-40-19-2-1-1-19-3-1 3-19-2-1 13-19-3-1-17-19-3-1-5-19-3-1 10-19-3-1-10-19-3-1 11-19-3-1 11-19-3-1 8-19-3-1-25-19-3-1 39-19-3-1-16-19-2-1-22-19-2-1 21-19-2-1 2-19-2-1-6-19-3-1-7-19-2-1 13-19-3-1 1-19-2-1 19-19-3-1-28-19-2-1-11-19-2-1 29-19-3-1-14-19-2-1-22-19-3-1-7-19-2-1 36-19-3-1 13-19-2-1-43-19-3-1 31-19-2-1-20-19-3-1 32-19-3-1-15-19-3-1-14-19-3-1-8-19-3-1 23-19-4-1 17-19-5-1-15-19-5-1 12-19-5-1-30-19-4-1 2-19-4-1 22-19-3-1 27-19-3-1-40-19-3-1-9-19-3-1 10-19-3-1-23-19-2-1 57-19-3-1-45-19-3-1-3-19-3-1 1-19-3-1 30-19-3-1-39-19-3-1 20-19-4-1-27-19-5-1 33-19-5-1-20-19-5-1 18-19-6-1 33-19-6-1-45-19-6-1-2-19-5-1 55-19-6-1-37-19-6-1-6-19-2-1-34-19-1-1-10-19-3-1 65-19-9-1-23-19-18-1 14-19-30-1-7-19-53-1-13-19-99-1-31-19-186-1 33-19-317-1-73-19-458-1 52-19-519-1-47-19-344-1-9-19 97-1 45-19 450-1 0-19 504-1 5-19 395-1 26-19 252-1-17-19 138-1 31-19 70-1 50-19 37-1-91-19 20-1 10-19 13-1-11-19 8-1 13-19 6-1 62-19 4-1-50-19 3-1 2-19 1-1 4-19 1-1 52-19 0-1-31-19-1-1-19-19-1-1-2-19-2-1-6-19-2-1 25-19-2-1 24-19-2-1-80-19-1-1 24-19-1-1 24-19-2-1-6-19-1-1-19-19-1-1 29-19-1-1-32-19-1-1 20-19-1-1-17-19-1-1 2-19-1-1 8-19-1-1-5-19-1-1-13-19-1-1-8-19-1-1 20-19-1-1 18-19-1-1 23-19 0-1-85-19-1-1 48-19-1-1 1-19-1-1-13-19 0-1-3-19-1-1 28-19 0-1-23-19 0-1 44-19-1-1-11-19-1-1 18-19-1-1-56-19 0-1 14-19 0-1-17-19-1-1 25-19 0-1 6-19-1-1-21-19 0-1 4-19-1-1-4-19-1-1-16-19-1-1 29-19-1-1-1-19 0-1 1-19-1-1-41-19 0-1 30-19-1-1 24-19 0-1-16-19-1-1-29-19-1-1 6-19-1-1 49-19 0-1-16-19-1-1 0-19 0-1-31-19-1-1 32-19 0-1 12-19-1-1-24-19 0-1 32-19 0-1-40-19-1-1 63-19-1-1-75-19-1-1 5-19 0-1 13-19 0-1 25-19 0-1-6-19 0-1-14-19-1-1-17-19-1-1 1-19-1-1 11-19 0-1-13-19-1-1 0-19-1-1 28-19-2-1 1-19-2-1-6-19-2-1 8-19-2-1-49-19-2-1 23-19-2-1-13-19-2-1 27-19-2-1-9-19-3-1 34-19-2-1-9-19-2z"/>
<path stroke-width="40" d="M1335 5996l12 1 12 1 12 2 12 1 12 2 12 1 12 1 12 2 12 1 12 1 12 1 12 1 12 2 12 1 12 1 12 1 12 0 12 1 12 1 12 1 12 0 12 1 12 0 12 1 12 0 12 1 12 0 12 1 12 0 12 0 12 1 12 0 12 0 12 0 12 1 12 0 12 0 12 0 12 1 12 0 12 0 12 0 12 1 12 0 12 0 12 0 12 1 12 0 12 0 12 0 12 1 12 0 12 0 12 1 12 0 12 0 12 1 12 0 12 0 12 1 12 0 12 0 12 1 12 0 12 1 12 0 12 1 12 0 12 0 12 1 12 0 12 1 12 0 12 1 12 0 12 1 12 0 12 1 12 0 12 1 12 0 12 1 12 0 12 1 12 0 12 1 12 0 12 1 12 0 12 1 12 0 12 1 12 0 12 1 12 0 12 1 12 0 12 1 12 0 12 1 12 1 12 0 12 1 12 0 12 1 12 0 12 1 12 1 12 0 12 1 12 1 12 0 12 1 12 0 12 1 12 1 12 0 12 1 12 1 12 1 12 0 12 1 12 1 12 1 12 0 12 1 12 1 12 1 12 2 12 1 12 1 12 1 12 1 12 1 12 1 12 1 12 0 12 1 12 0 12 0 12 0 12 0 12-1 12-1 12-2 12-3 12-3 12-4 12-4 12-6 12-8 12-9 12-13 12-18 12-25 12-37 12-57 12-85 12-124 12-173 12-226 12-278 12-314 12-313 12-252 12-117 12 63 12 219 12 305 12 323 12 296 12 249 12 194 12 142 12 101 12 68 12 47 12 31 12 23 12 16 12 13 12 8 12 5 12 3 12 1 12 1 12 1 12 2 12 3 12 3 12 4 12 3 12 4 12 3 12 4 12 3 12 4 12 4 12 3 12 3 12 4 12 3 12 3 12 3 12 2 12 2 12 2 12 2 12 2 12 2 12 2 12 2 12 1 12 2 12 2 12 1 12 2 12 2 12 1 12 2 12 2 12 2 12 2 12 2 12 2 12 3 12 2 12 3 12 2 12 3 12 3 12 2 12 3 12 2 12 3 12 2 12 2 12 3 12 1 12 2 12 2 12 2 12 1 12 2 12 1 12 2 12 1 12 2 12 1 12 1 12 2 12 1 12 1 12 2 12 1 12 2 12 1 12 2 12 1 12 2 12 1 12 2 12 1 12 2 12 1 12 2 12 1 12 2 12 1 12 2 12 1 12 2 12 2 12 1 12 2 12 2 12 2 12 1 12 2 12 2 12 2 12 2 12 2 12 2 12 1 12 2 12 2 12 2 12 1 12 2 12 2 12 1 12 2 12 1 12 2 12 1 12 2 12 1 12 2 12 1 12 1 12 2 12 1 12 2 12 1 12 2 12 2 12 1 12 2 12 2 12 1 12 2 12 2 12 2 12 1 12 2 12 1 12 2 12 1 12 1 12 1 12 1 12 1 12 0 12 0 12 0 12 0 12-1 12-2 12-2 12-3 12-3 12-4 12-6 12-7 12-8 12-11 12-15 12-20 12-30 12-46 12-71 12-107 12-155 12-214 12-273 12-320 12-334 12-282 12-145 12 53 12 227 12 321 12 336 12 303 12 247 12 186 12 133 12 91 12 60 12 40 12 28 12 20 12 15 12 13 12 10 12 9 12 7 12 7 12 5 12 5 12 5 12 4 12 3 12 3 12 3 12 2 12 3 12 2 12 1 12 2 12 1 12 1 12 1 12 1 12 1 12 1 12 0 12 1 12 0 12 1 12 0 12 0 12 0 12 1 12 0 12 0 12 0 12 0 12 0 12 0 12 0 12 0 12 0 12 0 12-1 12 0 12-1 12-1 12-1 12-3 12-6 12-9 12-13 12-18 12-17 12-8 12 6 12 16 12 18 12 14 12 9 12 6 12 3 12 2 12 0 12 1 12 0 12 0 12 0 12 0 12-1 12 0 12-1 12 0 12-1 12-1 12 0 12-1 12-1 12 0 12-2 12-1 12-1 12-2 12-3 12-3 12-5 12-6 12-9 12-14 12-21 12-31 12-47 12-65 12-86 12-106 12-121 12-123 12-101 12-50 12 19 12 82 12 118 12 127 12 117 12 99 12 78 12 58 12 41 12 28 12 19 12 13 12 9 12 7 12 5 12 4 12 3 12 2 12 2 12 2 12 1 12 0 12 1 12 0 12 0 12 0 12 0 12 0 12 0 12 0 12 1 12 0 12 0 12 1 12 0 12 1 12 0 12 0 12 0 12 1 12 0 12 0 12 0 12 0 12 0 12 0 12 0 12-1 12-1 12-2 12-3 12-4 12-8 12-11 12-15 12-16 12-17 12-11 12 0 12 10 12 17 12 18 12 16 12 12 12 9 12 7 12 4 12 3 12 2 12 1 12 1 12 1 12 1 12 1 12 1 12 1 12 0 12 1 12 1 12 1 12 0 12 1 12 1 12 1 12 0 12 1 12 1 12 1 12 1 12 1 12 0 12 1 12 1 12 1 12 1 12 1 12 1 12 1 12 1 12 1 12 1 12 1 12 1 12 1 12 1 12 1 12 1 12 0 12 1 12 1 12 1 12 1 12 1 12 0 12 1 12 1 12 1 12 0 12 1 12 0 12 1 12 0 12 1 12 1 12 0 12 1 12 0 12 1 12 0 12 1 12 1 12 0 12 1 12 0 12 1 12 0 12 1 12 0 12 1 12 0 12 1 12 0 12 1 12 0 12 0 12 1 12 0 12 1 12 0 12 0 12 1 12 0 12 0 12 1 12 0 12 0 12 0 12 0 12 1 12 0 12 0 12 0 12 0 12 0 12 0 12 1 12 0 12 0 12 0 12 0 12 0 12 0 12 0 12 0 12 0 12 0 12 0 12 0 12 0 12 0 12 0 12 0 12 0 12 0 12 0 12 0 12 0 12 0 12 0 12 0 12 0 12 1 12 0 12 0 12 0 12 0 12 0 12 0 12 0 12 0 12 0 12 0 12 0 12 0 12 0 12 1 12 0 12 0 12 1 12 0 12 0 12 1 12 1 12 0 12 1 12 0 12 1 12 1 12 1 12 0 12 1 12 1 12 1 12 0 12 1 12 1 12 1 12 1 12 0 12 1 12 1 12 1 12 0 12 1 12 1 12 0 12 1 12 0 12 1 12 0 12 1 12 0 12 0 12 0 12 0 12 0 12 0 12-1 12 0 12-1 12-1 12-1 12-1 12-2 12-1 12-3 12-2 12-3 12-4 12-4 12-6 12-6 12-7 12-9 12-11 12-15 12-20 12-29 12-43 12-61 12-88 12-122 12-158 12-196 12-225 12-233 12-207 12-130 12-11 12 112 12 196 12 231 12 227 12 201 12 164 12 126 12 93 12 64 12 45 12 30 12 20 12 15 12 11 12 9 12 6 12 6 12 4 12 4 12 3 12 3 12 2 12 1 12 2 12 1 12 0 12 1 12 0 12 0 12 0 12-1 12 0 12-1 12-2 12-2 12-3 12-5 12-6 12-10 12-15 12-22 12-29 12-37 12-44 12-46 12-43 12-27 12-2 12 23 12 41 12 46 12 44 12 39 12 30 12 22 12 16 12 11 12 7 12 5 12 3 12 3 12 2 12 1 12 1 12 2 12 1 12 0 12 1 12 1 12 0 12 1 12 0 12 1 12 0 12 0 12 1 12 0 12 0 12 1 12 0 12 0 12 0 12 0 12 0 12 1 12 0 12 0 12 0 12 0 12 0 12 0 12 0 12 0 12 0 12 1 12 0 12 0 12 0 12 0 12 0 12 0 12 0 12 0 12 0 12 0 12 0 12 0 12 0 12 0 12 0 12 0 12 0 12 0 12 0 12 0 12 0 12 0 12 0 12 0 12 0 12 0 12 0 12 0 12 0 12 0 12 0 12 0 12 0 12 0 12 0 12 0 12 0 12 0 12 0 12 0 12 0 12 0 12 0 12 0 12 0 12 0 12 0 12 0 12 0 12 0 12-1 12 0 12 0 12 0 12 0 12 0 12 0 12 0 12-1 12 0 12 0 12 0 12 0 12-1 12 0 12-1 12 0 12-1 12 0 12-1 12-1 12-1 12-2 12-2 12-3 12-4 12-7 12-10 12-16 12-21 12-29 12-33 12-35 12-30 12-14 12 7 12 26 12 34 12 34 12 31 12 23 12 18 12 11 12 8 12 5 12 3 12 2 12 2 12 1 12 0 12 1 12 0 12-1 12-1 12-2 12-5 12-7 12-9 12-11 12-11 12-6 12 2 12 10 12 11 12 11 12 9 12 6 12 4 12 2 12 2 12 0 12 1 12 1 12 0 12 0 12 1 12 0 12 0 12 1 12 0 12 0 12 0 12 1 12 0 12 0 12 0 12 1 12 0 12 0 12 0 12 1 12 0 12 0 12 1 12 0 12 0 12 1 12 0 12 0 12 1 12 0 12 0 12 1 12 0 12 1 12 0 12 0 12 1 12 0 12 1 12 0 12 0 12 1 12 0 12 1 12 0 12 1 12 0 12 1 12 0 12 0 12 1 12 0 12 1 12 0 12 1 12 0 12 1 12 0 12 1 12 0 12 1 12 0 12 0 12 1 12 0 12 1 12 0 12 1 12 0 12 0 12 1 12 0 12 0 12 0 12 1 12 0 12 0 12 0 12-1 12 0 12 0 12-1 12-1 12-2 12-2 12-4 12-6 12-9 12-13 12-18 12-23 12-28 12-28 12-26 12-15 12-1 12 16 12 25 12 28 12 26 12 22 12 16 12 10 12 4 12-2 12-9 12-15 12-23 12-31 12-36 12-37 12-33 12-19 12 3 12 24 12 37 12 40 12 38 12 32 12 25 12 18 12 14 12 9 12 6 12 5 12 3 12 3 12 2 12 1 12 2 12 1 12 2 12 1 12 1 12 1 12 0 12 1 12 1 12 1 12 0 12 1 12 1 12 0 12 1 12 0 12 1 12 0 12 1 12 0 12 0 12 1 12 0 12 1 12 0 12 0 12 1 12 0 12 0 12 1 12 0 12 1 12 0 12 0 12 1 12 0 12 0 12 1 12 0 12 0 12 0 12 1 12 0 12 0 12 1 12 0 12 0 12 1 12 0 12 0 12 0 12 1 12 0 12 0 12 0 12 1 12 0 12 0 12 1 12 0 12 0 12 0 12 1 12 0 12 0 12 0 12 1 12 0 12 0 12 0 12 1 12 0 12 0 12 0 12 1 12 0 12 0 12 0 12 0 12 1 12 0 12 0 12 0 12 1 12 0 12 0 12 0 12 0 12 1 12 0 12 0 12 0 12 1 12 0 12 0 12 0 12 0 12 0 12 1 12 0 12 0 12 0 12 0 12 0 12 1 12 0 12 0 12 0 12 0 12 0 12 0 12 0 12-1 12 0 12-1 12 0 12-1 12-2 12-2 12-2 12-3 12-3 12-3 12-4 12-4 12-3 12-3 12-2 12 0 12 2 12 2 12 4 12 4 12 4 12 4 12 4 12 3 12 3 12 3 12 2 12 1 12 2 12 1 12 1 12 0 12 1 12 1 12 0 12 0 12 1 12 0 12 0 12 1 12 0 12 0 12 1 12 0 12 0 12 0 12 1 12 0 12 0 12 0 12 1 12 0 12 0 12 0 12 1 12 0 12 0 12 0 12 1 12 0 12 0 12 0 12 0 12 1 12 0 12 0 12 0 12 0 12 1 12 0 12 0 12 0 12 1 12 0 12 0 12 0 12 0 12 1 12 0 12 0 12 0 12 0 12 1 12 0 12 0 12 0 12 0 12 0 12 1 12 0 12 0 12 0 12 0 12 1 12 0 12 0 12 0 12 0 12 0 12 1 12 0 12 0 12 0 12 0 12 0 12 0 12 0 12 1 12 0 12 0 12 0 12 0 12 0 12 0 12 0 12 0 12 0 12-1 12 0 12-1 12 0 12-2 12-1 12-2 12-2 12-3 12-4 12-4 12-4 12-5 12-5 12-4 12-3 12-2 12 0 12 1 12 4 12 4 12 5 12 5 12 5 12 5 12 4 12 3 12 3 12 3 12 2 12 2 12 1 12 1 12 1 12 0 12 1 12 1 12 0 12 0 12 1 12 0 12 0 12 1 12 0 12 0 12 1 12 0 12 0 12 1 12 0 12 0 12 0 12 1 12 0 12 0 12 0 12 0 12 1 12 0 12 0 12 0 12 1 12 0 12 0 12 0 12 0 12 1 12 0 12 0 12 0 12 0 12 1 12 0 12 0 12 0 12 0 12 1 12 0 12 0 12 0 12 0 12 1 12 0 12 0 12 0 12 0 12 1 12 0 12 0 12 0 12 0 12 1 12 0 12 0 12 0 12 0 12 1 12 0 12 0 12 0 12 0 12 0 12 1 12 0 12 0 12 0 12 0 12 1 12 0 12 0 12 0 12 0 12 1 12 0 12 0 12 0 12 0 12 0 12 1 12 0 12 0 12 0 12 0 12 0 12 1 12 0 12 0 12 0 12 0 12 0 12 1 12 0 12 0 12 0 12 0 12 0 12 1 12 0 12 0 12 0 12 0 12 0 12 0 12 1 12 0 12 0 12 0 12 0 12 0 12 0 12 0 12 0 12 0 12 0 12 0 12 0 12 0 12 0 12-1 12 0 12-1 12-1 12-2 12-2 12-3 12-4 12-5 12-7 12-8 12-9 12-9 12-8 12-6 12-1 12 3 12 7 12 9 12 9 8 6"/>
</g>
<g fill="none" stroke="#00f" stroke-linejoin="round" transform="scale(0.1)">
<path fill="#00f" stroke="none" d="M1335 7632l19 0 1-4 19 0 1 14 19 1 1-8 19 1 1 17 19 1 1 8 19 1 1-19 19 1 1 28 19 1 1-5 19 2 1-17 19 2 1 24 19 3 1-33 19 3 1 10 19 3 1-14 19 3 1 10 19 2 1 20 19 3 1-3 19 2 1 12 19 2 1-66 19 2 1 35 19 1 1 12 19 1 1-9 19 1 1-20 19 0 1 45 19 1 1-33 19 1 1 17 19 0 1-6 19 0 1-1 19-1 1-20 19-2 1 47 19-4 1-30 19-15 1 8 19-40 1 2 19-47 1 7 19 20 1 0 19 52 1 3 19 28 1-19 19 9 1-42 19 4 1 54 19 2 1-40 19 2 1 29 19 2 1 12 19 2 1-32 19 2 1 27 19 2 1-13 19 2 1 21 19 2 1 11 19 2 1 0 19 2 1-27 19 2 1-11 19 2 1 17 19 2 1 23 19 2 1-52 19 2 1 21 19 1 1 25 19 2 1-13 19 2 1 36 19 2 1-41 19 1 1 18 19 1 1 3 19 1 1 3 19 0 1-46 19 1 1 42 19 1 1-32 19 1 1-10 19 0 1 5 19 1 1 1 19 1 1 38 19 1 1-5 19 0 1 3 19 1 1-18 19 1 1-6 19 1 1 24 19 2 1-5 19 3 1-11 19 3 1 14 19 3 1-69 19 4 1 53 19 5 1-7 19 5 1 26 19 9 1-8 19 11 1-20 19 12 1-4 19 11 1 48 19 11 1-22 19 12 1-6 19 8 1-14 19 2 1 15 19-1 1 26 19-3 1-24 19-4 1-7 19-5 1 4 19-8 1-26 19-12 1 30 19-24 1-9 19-57 1-13 19-137 1 25 19-284 1-33 19-447 1-15 19-441 1 8 19-26 1 9 19 432 1-5 19 477 1 26 19 320 1 19 19 164 1-26 19 74 1 3 19 34 1-19 19 16 1 20 19 8 1 15 19 3 1-28 19 1 1 25 19-1 1 7 19 0 1-39 19 1 1 13 19 3 1 12 19 2 1-6 19 2 1 21 19 2 1-34 19 3 1 23 19 3 1 18 19 2 1-16 19 3 1 4 19 3 1-12 19 2 1-13 19 3 1-13 19 3 1 32 19 3 1-7 19 2 1 8 19 3 1 4 19 3 1-26 19 2 1 7 19 3 1 1 19 3 1-24 19 2 1 7 19 0 1 18 19-1 1 19 19-3 1-6 19-5 1-9 19-4 1-5 19-1 1-19 19 5 1 35 19 11 1-3 19 12 1-1 19 11 1-8 19 8 1 13 19 7 1-15 19 5 1 17 19 4 1-35 19 3 1 31 19 3 1-2 19 3 1 8 19 3 1-1 19 3 1 10 19 3 1-2 19 3 1 0 19 3 1-20 19 2 1 9 19 3 1-17 19 3 1 2 19 4 1 26 19 3 1 13 19 4 1-7 19 4 1-11 19 4 1 15 19 4 1-29 19 4 1 15 19 4 1-11 19 3 1 12 19 3 1 1 19 3 1-5 19 3 1-9 19 3 1 14 19 3 1-9 19 3 1 4 19 3 1 1 19 3 1-11 19 2 1-7 19 3 1 0 19 3 1 33 19 3 1 10 19 3 1-39 19 3 1 16 19 3 1-25 19 3 1 36 19 3 1-20 19 3 1-14 19 3 1 25 19 3 1-9 19 2 1-38 19 2 1 45 19 2 1-39 19 3 1 33 19 2 1-6 19 2 1 0 19 2 1 0 19 1 1-18 19 1 1 32 19 0 1-8 19 0 1-7 19-1 1 14 19-2 1-10 19-3 1 6 19-6 1 1 19-10 1-7 19-19 1 21 19-39 1-14 19-92 1 1 19-208 1-11 19-386 1-8 19-524 1-25 19-356 1 9 19 206 1 27 19 527 1-3 19 452 1 6 19 268 1-20 19 128 1 34 19 57 1-16 19 29 1 33 19 18 1-41 19 12 1 31 19 8 1-46 19 4 1 46 19 2 1-11 19 1 1 13 19 0 1-28 19 0 1 18 19 0 1 7 19 0 1 9 19 1 1-15 19 2 1 8 19 1 1-34 19 1 1 20 19 1 1-24 19 1 1 11 19 1 1 37 19 2 1-11 19 1 1-23 19 1 1-10 19 1 1 19 19 1 1 9 19 1 1 9 19 1 1-5 19 1 1-20 19 0 1 15 19 0 1-5 19 0 1 8 19-2 1-11 19-7 1 0 19-23 1 6 19-46 1-19 19-31 1 23 19 36 1 1 19 45 1-31 19 23 1 27 19 8 1-2 19 3 1-27 19 1 1 26 19 1 1 0 19 0 1-12 19 1 1 8 19 1 1 9 19 0 1-12 19 0 1 6 19 0 1-25 19-1 1 18 19-2 1 22 19-2 1-15 19-3 1 6 19-4 1-35 19-8 1 21 19-13 1-3 19-27 1 3 19-59 1 8 19-117 1-4 19-188 1-16 19-222 1-3 19-123 1 21 19 102 1-21 19 222 1 23 19 198 1-5 19 127 1 11 19 67 1-7 19 32 1 15 19 17 1 3 19 10 1-8 19 7 1 6 19 5 1-1 19 4 1 6 19 3 1-1 19 2 1 8 19 2 1-15 19 1 1-16 19 2 1 3 19 1 1 19 19 1 1-19 19 1 1-12 19 1 1 18 19 1 1-7 19 1 1-1 19 0 1 3 19 0 1 0 19 0 1-18 19 0 1 20 19 0 1-10 19-1 1 16 19 0 1-29 19-1 1 10 19-2 1-6 19-7 1 34 19-21 1-4 19-51 1 5 19-62 1-13 19 16 1 0 19 68 1 5 19 44 1-8 19 18 1 2 19 7 1 1 19 4 1 5 19 2 1 7 19 2 1-14 19 2 1-16 19 2 1 25 19 1 1-16 19 1 1 10 19 1 1-14 19 1 1 37 19 1 1-29 19 1 1 13 19 1 1 5 19 0 1-21 19 1 1-3 19 1 1 3 19 1 1-3 19 1 1 5 19 1 1 10 19 1 1-25 19 1 1 28 19 0 1 1 19 1 1-12 19 1 1-11 19 0 1 30 19 0 1 0 19 1 1-11 19 0 1 5 19 0 1-12 19 1 1 16 19 0 1-3 19 1 1-24 19 0 1 21 19 0 1-9 19 0 1-17 19 0 1 22 19 1 1-10 19 0 1 18 19 0 1-22 19 0 1 1 19 0 1 10 19 0 1 4 19 0 1 3 19 1 1-10 19 0 1-5 19 0 1 6 19 0 1-9 19 0 1-11 19 1 1 26 19 1 1 6 19 1 1 2 19 0 1-14 19 1 1 0 19 0 1 3 19 0 1 23 19 1 1-23 19 1 1 1 19 1 1-27 19 1 1 33 19 1 1 3 19 1 1-18 19 1 1 4 19 1 1 15 19 1 1-3 19 1 1-17 19 1 1 20 19 1 1-23 19 1 1 22 19 1 1 7 19 1 1-35 19 0 1 16 19 0 1-9 19 1 1 11 19 1 1 2 19 1 1-4 19 1 1 2 19 1 1 9 19 0 1-5 19 0 1 0 19 1 1 3 19 1 1 16 19 1 1-48 19 0 1 17 19 1 1 13 19 1 1-15 19 0 1 17 19 1 1-18 19 1 1 17 19 1 1-17 19 1 1 0 19 1 1 35 19 1 1-25 19 1 1 0 19 2 1-7 19 1 1-9 19 2 1 19 19 2 1 10 19 1 1 7 19 1 1-32 19 2 1 1 19 2 1 16 19 1 1 4 19 1 1-21 19 1 1 18 19 1 1 4 19 1 1-42 19 1 1 26 19 1 1 10 19 0 1-10 19 0 1 16 19 0 1-3 19 0 1-16 19-1 1 14 19-2 1 6 19-3 1-4 19-3 1 1 19-4 1-7 19-6 1 13 19-9 1-7 19-13 1 14 19-18 1-15 19-29 1 5 19-56 1-18 19-118 1-5 19-233 1-2 19-382 1-15 19-469 1-1 19-297 1-3 19 165 1 17 19 452 1-8 19 423 1 29 19 279 1-15 19 148 1 3 19 71 1-10 19 35 1 29 19 20 1-6 19 13 1-2 19 9 1-6 19 7 1-12 19 4 1 21 19 4 1-8 19 3 1 1 19 2 1-10 19 1 1-3 19 1 1 1 19-1 1 10 19-1 1 2 19-2 1-4 19-3 1-5 19-4 1 26 19-6 1-20 19-12 1 14 19-24 1-6 19-46 1-20 19-78 1 11 19-106 1-4 19-102 1 1 19-29 1 8 19 73 1-5 19 111 1-12 19 94 1 22 19 62 1-6 19 35 1 1 19 17 1 0 19 9 1-7 19 5 1 7 19 3 1 2 19 3 1-2 19 2 1-1 19 2 1-7 19 1 1 23 19 0 1-11 19 0 1-11 19 0 1-16 19 0 1 15 19 0 1-8 19 0 1 2 19 1 1 6 19 0 1-1 19 0 1 13 19 0 1-9 19 0 1-10 19 0 1 3 19 0 1-8 19 0 1 21 19 0 1-11 19 0 1 3 19 0 1 4 19 0 1 2 19 0 1 0 19 0 1 12 19 0 1-22 19 0 1 4 19 0 1 9 19 0 1 2 19 0 1-11 19 0 1 17 19 0 1-18 19 0 1 13 19 0 1 2 19 0 1 7 19 0 1-28 19 0 1 16 19 0 1-2 19 0 1-12 19 0 1 9 19 0 1-3 19 0 1 17 19 0 1-8 19 0 1-13 19 0 1 21 19 0 1-10 19 0 1 6 19 0 1-34 19 0 1 34 19 0 1-22 19 0 1 20 19 0 1-6 19 0 1 6 19 0 1-21 19-1 1 6 19 0 1-2 19-1 1 24 19 0 1-6 19-1 1-9 19-1 1-12 19-2 1 10 19-3 1-9 19-4 1 32 19-9 1-12 19-16 1-2 19-31 1-17 19-55 1 8 19-80 1 1 19-86 1 13 19-42 1-25 19 41 1-15 19 85 1 33 19 81 1-28 19 56 1 23 19 32 1 4 19 16 1 0 19 7 1-10 19 4 1-4 19 2 1 13 19 0 1-21 19-2 1 9 19-7 1-21 19-17 1 18 19-34 1 12 19-51 1 10 19-43 1-30 19 9 1 20 19 51 1-16 19 49 1 14 19 30 1-14 19 15 1 6 19 7 1 12 19 3 1 8 19 2 1-15 19 2 1-13 19 1 1 14 19 1 1-11 19 1 1 20 19 1 1-3 19 0 1-38 19 1 1 52 19 1 1-14 19 0 1-4 19 0 1-23 19 0 1 36 19 0 1 9 19 0 1-10 19 0 1 2 19 1 1 5 19 0 1-9 19 1 1-8 19 0 1-10 19 0 1 13 19 0 1 10 19 0 1-13 19 1 1 14 19 0 1-12 19 0 1 8 19 0 1 2 19 0 1 3 19 0 1-11 19 0 1-6 19 0 1 6 19 0 1 3 19 0 1 1 19 0 1-4 19 0 1 15 19 0 1-35 19 0 1 15 19 0 1 15 19 0 1-2 19-1 1-21 19 0 1 4 19 0 1 2 19 0 1 8 19-1 1-3 19-1 1-16 19-2 1 28 19-2 1-12 19-2 1 1 19-4 1-12 19-5 1 11 19-8 1-4 19-14 1 12 19-29 1-26 19-58 1 15 19-99 1 0 19-132 1-9 19-117 1 9 19-10 1-2 19 105 1-13 19 130 1 13 19 98 1 5 19 54 1-14 19 15 1 1 19-18 1-3 19-52 1 15 19-80 1-6 19-87 1 4 19-38 1 7 19 49 1-9 19 93 1-3 19 86 1 10 19 59 1 7 19 34 1-10 19 18 1-4 19 9 1-2 19 5 1 16 19 4 1-4 19 2 1 1 19 3 1-17 19 1 1 10 19 1 1 16 19 1 1-25 19 1 1-8 19 1 1 27 19 1 1-6 19 1 1 13 19 0 1-16 19 1 1-10 19 1 1 21 19 1 1-8 19 1 1-14 19 0 1 27 19 0 1-19 19 0 1 19 19 0 1-18 19 1 1 13 19 0 1-8 19 1 1-16 19 0 1 15 19 0 1 8 19 0 1-5 19 0 1 9 19 1 1-23 19 1 1-8 19 0 1 22 19 0 1 3 19 0 1-1 19 0 1-3 19 0 1 8 19 0 1 4 19 0 1-22 19 1 1 21 19 1 1-27 19 0 1 18 19 1 1-5 19 0 1-18 19 1 1 16 19 0 1 11 19 1 1-7 19 0 1-10 19 0 1 16 19 1 1-6 19 0 1-6 19 0 1-30 19 0 1 50 19 0 1-9 19 1 1-17 19 0 1 19 19 0 1-5 19 0 1-17 19 0 1-9 19 0 1 16 19 1 1 14 19 0 1-4 19 0 1 4 19 0 1-12 19 0 1-5 19 0 1 9 19 0 1 9 19 0 1-25 19 0 1 17 19 0 1-7 19 0 1 5 19 0 1 14 19 0 1-4 19-1 1-2 19-1 1 1 19-2 1-8 19-3 1 0 19-4 1 8 19-6 1-20 19-7 1-4 19-7 1 19 19-4 1 2 19 1 1-18 19 5 1 24 19 8 1-24 19 7 1 4 19 6 1 6 19 5 1 15 19 3 1 3 19 2 1-8 19 1 1-11 19 1 1 9 19 0 1 6 19 1 1 5 19 0 1-16 19 1 1-8 19 0 1 17 19 0 1-1 19 0 1 8 19 1 1-16 19 1 1-6 19 0 1 6 19 1 1-5 19 0 1 17 19 0 1-12 19 1 1-7 19 0 1 16 19 1 1-17 19 1 1 9 19 0 1 13 19 0 1-20 19 0 1-10 19 0 1 7 19 0 1 19 19-1 1-27 19-1 1 12 19-1 1-9 19-3 1 19 19-4 1-5 19-6 1 3 19-7 1-13 19-7 1 24 19-4 1-7 19 0 1-14 19 5 1 1 19 7 1 7 19 7 1 5 19 6 1 6 19 5 1-42 19 3 1 24 19 2 1 14 19 2 1-13 19 0 1 0 19 1 1 20 19 1 1-10 19 1 1-7 19 0 1-1 19 0 1 3 19 0 1 15 19 0 1-6 19 0 1 1 19 0 1-2 19 0 1-4 19 0 1 6 19 0 1-9 19 0 1-3 19 0 1 5 19-1 1-6 19-1 1 9 19-1 1-7 19-3 1 1 19-5 1-7 19-6 1 11 19-7 1-11 19-6 1 1 19-4 1-19 19 1 1 34 19 5 1-5 19 7 1-14 19 7 1 24 19 6 1-15 19 4 1 2 19 3 1-1 19 1 1 7 19 1 1-18 19 1 1 2 19 0 1 15 19 1 1-21 19 0 1 13 19-1 1 15 19-1 1-9 19-1 1-22 19-2 1 18 19-3 1-5 19-5 1 10 19-8 1-2 19-10 1-12 19-12 1 20 19-12 1-10 19-9 1 6 19 0 1-10 19 8 1 12 19 12 1-17 19 12 1-6 19 11 1 26 19 8 1-21 19 5 1-7 19 3 1 17 19 2 1 11 19 2 1 3 19 1 1 1 19 1 1-13 19 1 1 5 19 1 1 1 19 0 1-11 19 0 1 10 19 0 1 0 19 0 1-7 19 0 1 19 19 0 1-9 19 0 1-9 19 0 1-16 19 0 1 12 19 0 1 5 19 0 1-10 19 0 1-18 19 0 1 16 19 0 1 3 19 0 1-8 19 0 1 22 19 0 1-11 19 0 1-9 19 0 1 16 19 0 1-9 19 0 1 14 19 0 1-12 19 0 1 17 19 0 1 1 19 0 1-10 19 0 1-4 19 0 1-8 19 0 1 10 19-1 1-17 19 0 1-11 19 0 1 32 19 0 1-2 19 0 1 3 19 0 1 4 19 0 1-14 19 0 1 12 19 0 1-7 19 0 1 2 19 0 1-23 19 0 1 8 19 0 1 12 19 0 1-7 19-1 1-4 19-1 1 13 19-1 1-8 19-1 1 7 19-2 1-4 19-4 1 4 19-7 1 10 19-15 1-13 19-26 1-25 19-37 1 23 19-40 1 8 19-20 1-18 19 18 1 7 19 39 1 4 19 37 1-1 4 6 0 84-4-6-1-2-19-37-1 0-19-39-1-3-19-19-1 27-19 19-1-8-19 40-1-12-19 37-1-11-19 25-1 4-19 15-1 8-19 8-1 1-19 3-1 3-19 2-1-2-19 2-1 11-19 1-1 4-19 1-1-16-19 0-1 8-19 0-1 5-19 0-1-8-19 1-1-5-19 0-1 3-19 1-1-20-19 0-1 28-19 1-1-21-19 0-1 9-19 0-1 13-19 0-1-7-19 0-1 5-19 0-1-19-19 0-1-1-19 0-1 14-19 0-1 1-19 0-1-14-19 0-1 32-19 0-1-13-19 0-1-21-19 0-1 9-19 0-1 14-19 0-1-19-19 0-1 11-19 0-1 14-19 0-1-21-19 0-1 2-19 0-1 7-19 0-1 1-19 0-1-10-19 0-1 3-19 0-1 0-19 0-1-7-19 0-1 17-19 0-1 0-19 0-1-29-19 0-1 33-19 0-1-12-19 0-1-6-19 0-1 18-19-1-1-15-19-1-1-2-19 0-1 9-19-1-1 7-19-1-1-19-19 0-1 13-19-1-1-4-19-1-1-3-19-2-1 19-19-3-1-26-19-6-1 22-19-8-1-14-19-10-1-10-19-13-1 16-19-13-1-20-19-8-1 8-19 0-1 2-19 8-1 9-19 12-1 1-19 12-1 1-19 10-1 11-19 7-1-14-19 5-1 6-19 3-1-15-19 2-1 8-19 1-1 1-19 1-1 1-19 0-1-3-19 0-1-3-19 0-1-1-19 0-1 10-19-1-1 15-19-1-1-31-19-2-1 16-19-3-1 3-19-4-1-7-19-6-1-5-19-7-1 13-19-7-1-10-19-5-1 10-19-1-1-5-19 4-1-12-19 6-1 10-19 7-1 21-19 6-1-40-19 5-1 32-19 3-1-16-19 2-1-10-19 1-1 14-19 1-1-4-19 0-1-1-19 0-1 17-19 0-1-16-19 0-1-13-19-1-1 10-19 0-1 16-19 0-1-7-19 0-1-22-19-1-1 28-19-1-1-4-19 0-1 0-19-1-1-9-19-1-1 12-19 0-1-9-19-1-1-4-19-1-1 6-19-2-1 2-19-3-1-19-19-4-1 9-19-6-1 14-19-7-1 0-19-7-1-20-19-5-1 25-19 0-1-13-19 5-1-7-19 6-1 7-19 7-1 6-19 5-1 1-19 4-1 6-19 3-1-9-19 2-1-3-19 1-1-8-19 0-1 9-19 0-1 11-19 0-1-8-19 0-1-9-19 0-1-10-19 0-1 8-19 0-1 7-19-1-1-1-19 0-1 5-19 0-1 5-19 0-1 0-19-1-1 16-19-1-1-27-19 0-1 6-19 0-1 2-19-1-1-5-19 0-1 3-19 0-1-16-19 0-1 11-19-1-1 15-19-1-1 7-19-1-1-30-19-1-1 0-19 0-1 7-19-1-1 15-19-2-1-19-19-3-1 14-19-4-1-5-19-6-1-14-19-7-1 29-19-7-1-12-19-5-1-17-19 0-1 18-19 4-1-9-19 7-1 17-19 7-1 2-19 5-1-22-19 5-1-6-19 3-1 6-19 2-1 1-19 1-1 6-19 0-1 23-19 0-1-27-19 0-1 1-19 0-1 18-19 0-1-20-19 0-1-1-19 0-1-1-19 0-1 12-19-1-1-15-19 0-1 25-19-1-1-26-19 0-1 29-19-1-1-17-19 0-1 12-19 0-1-28-19 0-1 24-19 0-1 12-19 0-1-36-19-1-1 10-19 0-1 11-19 0-1-17-19 0-1-1-19 0-1 16-19 0-1-2-19-1-1 6-19 0-1 1-19 0-1-3-19 0-1 10-19 0-1-15-19 0-1-3-19 0-1 8-19-1-1-10-19-1-1-8-19 0-1 17-19-1-1-19-19-1-1 25-19 0-1-23-19 0-1 9-19 0-1 12-19-1-1-12-19-1-1-12-19 0-1 39-19 0-1-16-19-1-1 2-19 0-1-7-19 0-1 15-19 0-1-15-19 0-1 10-19-1-1-6-19-1-1-5-19 0-1 1-19-1-1 0-19 0-1-1-19 0-1-15-19 0-1 11-19-1-1 1-19 0-1-12-19-1-1 3-19 0-1 5-19-1-1 3-19 0-1 2-19 0-1-5-19-1-1 7-19-1-1-13-19-2-1-5-19-2-1-4-19-2-1 22-19-2-1 3-19-3-1-14-19-4-1 22-19-6-1-18-19-9-1 1-19-18-1-13-19-34-1 12-19-59-1 10-19-85-1-20-19-93-1 0-19-49-1 28-19 37-1-28-19 87-1 34-19 81-1-30-19 51-1 24-19 18-1-25-19-15-1 14-19-53-1-15-19-98-1 19-19-130-1 2-19-105-1-26-19 10-1 13-19 116-1 9-19 132-1-3-19 99-1-13-19 58-1 5-19 29-1-4-19 15-1 48-19 7-1-41-19 5-1 4-19 3-1 2-19 2-1-13-19 2-1 4-19 1-1 36-19 1-1-27-19 0-1-7-19 1-1 7-19 0-1-5-19 1-1 0-19 0-1 7-19 1-1 7-19 0-1-28-19 0-1 20-19 0-1 1-19 0-1 9-19 0-1-12-19 0-1-2-19 0-1 0-19 0-1 6-19 0-1 5-19 0-1-11-19 0-1-7-19 0-1 7-19 0-1 18-19 0-1-16-19 0-1-12-19 0-1-4-19 0-1 17-19 0-1-14-19 0-1 15-19 0-1-17-19 0-1 4-19 0-1 19-19 0-1-22-19 0-1 5-19 0-1 14-19 0-1 12-19-1-1-27-19-1-1 16-19 0-1-7-19-1-1-3-19-1-1-2-19-1-1 13-19-1-1-6-19-1-1 15-19-2-1-20-19-1-1-8-19-2-1 28-19-4-1-32-19-7-1 11-19-16-1 4-19-31-1 18-19-49-1-3-19-51-1-26-19-9-1 22-19 42-1 1-19 51-1 10-19 35-1-15-19 18-1-17-19 7-1-4-19 2-1 3-19 0-1 22-19-2-1-8-19-4-1 0-19-8-1-4-19-16-1-3-19-31-1 8-19-56-1 13-19-80-1-27-19-86-1 5-19-40-1 0-19 42-1-8-19 86-1 16-19 80-1-6-19 56-1-15-19 32-1 12-19 16-1 3-19 8-1-8-19 5-1 1-19 3-1-4-19 2-1 13-19 1-1-3-19 1-1-13-19 1-1 12-19 0-1 4-19 1-1-6-19 1-1 3-19 1-1 11-19 1-1-14-19 1-1 19-19 1-1-14-19 0-1-12-19 0-1 21-19 0-1-6-19 0-1 0-19 0-1-15-19 0-1 25-19 0-1-11-19 0-1-11-19 0-1-5-19 0-1 37-19 0-1-45-19 0-1 21-19 0-1-8-19 0-1 7-19 0-1 16-19 0-1-28-19 0-1 11-19 0-1-6-19 0-1-3-19 0-1 18-19 0-1-6-19 0-1-11-19 0-1 10-19 0-1 18-19 0-1-35-19 0-1 12-19 0-1 6-19 0-1-1-19 0-1-12-19 0-1 1-19 1-1 18-19 0-1-11-19 0-1 1-19 0-1-3-19 0-1 1-19 0-1-7-19 0-1 3-19 0-1-5-19 0-1 20-19 0-1-15-19 0-1 6-19 0-1 11-19 0-1-18-19-1-1 23-19-1-1-12-19-1-1 5-19-2-1-18-19-1-1 4-19-2-1 3-19-3-1 16-19-5-1 21-19-9-1-38-19-17-1-4-19-35-1 12-19-62-1-1-19-94-1-16-19-110-1 5-19-72-1-13-19 28-1 26-19 102-1-12-19 106-1 0-19 78-1-5-19 46-1 11-19 24-1-14-19 12-1 32-19 6-1-28-19 3-1-1-19 3-1 26-19 2-1-29-19 1-1 7-19 0-1 9-19-1-1-21-19-1-1 25-19-2-1-11-19-3-1 20-19-3-1-15-19-4-1 3-19-7-1 0-19-9-1-2-19-13-1-5-19-20-1-4-19-34-1 16-19-71-1-10-19-148-1-13-19-279-1-4-19-423-1 1-19-452-1-23-19-165-1 5-19 298-1 10-19 469-1 27-19 381-1-6-19 233-1 13-19 118-1 27-19 56-1-35-19 29-1-1-19 18-1 25-19 13-1-13-19 8-1-5-19 7-1 2-19 4-1-4-19 3-1-6-19 3-1 21-19 2-1-15-19 1-1-8-19 0-1 14-19 1-1-12-19 0-1 19-19 0-1-22-19-1-1 30-19 0-1-16-19-1-1-5-19-1-1 7-19-1-1-26-19-2-1 9-19-1-1 25-19-1-1-11-19-2-1-7-19-2-1 7-19-2-1 7-19-1-1-9-19-2-1-4-19-2-1 4-19-1-1-13-19-1-1 18-19-1-1-17-19-1-1 10-19-1-1-8-19-1-1 7-19-1-1-6-19-1-1 4-19-1-1-3-19 0-1 15-19-1-1-16-19-1-1 6-19 0-1-7-19 0-1 2-19-1-1-1-19-1-1 10-19 0-1-7-19 0-1-11-19-1-1 7-19-1-1 9-19 0-1-11-19 0-1 19-19 0-1-13-19-1-1-2-19-1-1 7-19-1-1-8-19-1-1 5-19 0-1 17-19-1-1-28-19-1-1 3-19-1-1 9-19-1-1-24-19-1-1 37-19-1-1-23-19-1-1-11-19-1-1 38-19-1-1-18-19-1-1-1-19-1-1-3-19-1-1 24-19-1-1-20-19-1-1 15-19-1-1-3-19-1-1-10-19 0-1-1-19 0-1-7-19 0-1-5-19 0-1-7-19 0-1 45-19-1-1-29-19 0-1-8-19 0-1 1-19 0-1 17-19-1-1 0-19 0-1 0-19-1-1-23-19-1-1 15-19 0-1-5-19 0-1 12-19 0-1-5-19 0-1-10-19-1-1 5-19 0-1-14-19-1-1 17-19 0-1-6-19 0-1 5-19-1-1-8-19 0-1 7-19 0-1 7-19-1-1-9-19-1-1 17-19-1-1-30-19 0-1 9-19 0-1 20-19 0-1-11-19-1-1 6-19-1-1 4-19 0-1-33-19-1-1 1-19-1-1 26-19-1-1-19-19-1-1 6-19-1-1 29-19-1-1-24-19-1-1 15-19 0-1-11-19-1-1-10-19-1-1 33-19-2-1-31-19-1-1-10-19-3-1 16-19-3-1-3-19-3-1-3-19-6-1 11-19-17-1-7-19-44-1 12-19-68-1-17-19-15-1 19-19 62-1-32-19 51-1 21-19 20-1-18-19 6-1 26-19 2-1-15-19 1-1-1-19 1-1 9-19 0-1-8-19 0-1 14-19 0-1-5-19 0-1-15-19-1-1 4-19 0-1 6-19 0-1 5-19 0-1-10-19-1-1-3-19 0-1 0-19 0-1 4-19-1-1 17-19-2-1-14-19-1-1-15-19-2-1 21-19-2-1 6-19-3-1 2-19-3-1-13-19-5-1 2-19-7-1 4-19-11-1-6-19-17-1 6-19-33-1 4-19-67-1 3-19-128-1-35-19-198-1 13-19-222-1-9-19-101-1-7-19 123-1 4-19 222-1 12-19 188-1 20-19 116-1-8-19 59-1-6-19 27-1 11-19 13-1-14-19 7-1 10-19 5-1-6-19 3-1 2-19 2-1-1-19 1-1-5-19 0-1 15-19 0-1-13-19 0-1 4-19 0-1 10-19 0-1-2-19 0-1-6-19-1-1 0-19-1-1-11-19-2-1 24-19-3-1 16-19-7-1-39-19-23-1 8-19-45-1 13-19-36-1-27-19 31-1 37-19 45-1-10-19 23-1-36-19 8-1 27-19 2-1 24-19 0-1-14-19 0-1-25-19 0-1 8-19-1-1 10-19-1-1 5-19-1-1-26-19-1-1 18-19-1-1-4-19-1-1 23-19-1-1-6-19-2-1-14-19-2-1 2-19-1-1-21-19-1-1 13-19-2-1 8-19-2-1-15-19-1-1 30-19-1-1-3-19 0-1-6-19 0-1 22-19 0-1-23-19 0-1-10-19-1-1 1-19-3-1 5-19-4-1-18-19-8-1 17-19-12-1 3-19-18-1 9-19-29-1-20-19-58-1 3-19-128-1-17-19-268-1 30-19-453-1-44-19-527-1-12-19-207-1 20-19 356-1 16-19 524-1 8-19 387-1 20-19 208-1-19-19 92-1 21-19 39-1-9-19 19-1 1-19 11-1-15-19 6-1 1-19 4-1 4-19 2-1-6-19 1-1 9-19 0-1-16-19-1-1 20-19-1-1-13-19-2-1-1-19-2-1 14-19-2-1 26-19-2-1-25-19-2-1-7-19-2-1-2-19-3-1 0-19-3-1 12-19-3-1-7-19-3-1-4-19-3-1 0-19-3-1 1-19-3-1-15-19-3-1 19-19-3-1-22-19-3-1 34-19-3-1-17-19-3-1-3-19-3-1 14-19-3-1-12-19-3-1 13-19-3-1-9-19-3-1-11-19-3-1-4-19-3-1 10-19-3-1 7-19-3-1 1-19-4-1-13-19-4-1-10-19-3-1 15-19-4-1 36-19-4-1-37-19-4-1 16-19-4-1 0-19-4-1-8-19-4-1 12-19-3-1-11-19-3-1 11-19-3-1-14-19-2-1-9-19-3-1 18-19-3-1-17-19-3-1 22-19-3-1-8-19-3-1-19-19-3-1 14-19-3-1-9-19-4-1-16-19-4-1 50-19-5-1-47-19-7-1 44-19-9-1 10-19-11-1-18-19-12-1-24-19-11-1-5-19-5-1 31-19 2-1-14-19 5-1-20-19 5-1 22-19 3-1-7-19 1-1-1-19 0-1 15-19-2-1-2-19-2-1-12-19-3-1 39-19-3-1-31-19-3-1-40-19-3-1 10-19-2-1 12-19-3-1-12-19-3-1 21-19-2-1 29-19-3-1-11-19-2-1-23-19-2-1-15-19-2-1 57-19-2-1-20-19-2-1 3-19-3-1-20-19-2-1 3-19-3-1 5-19-3-1-11-19-1-1-9-19 1-1 34-19 1-1-15-19-1-1-13-19-3-1-1-19-8-1 4-19-17-1-10-19-34-1-2-19-73-1 0-19-165-1 36-19-320-1-34-19-478-1-4-19-432-1-34-19 26-1 30-19 442-1 23-19 447-1 8-19 284-1-14-19 137-1 5-19 57-1 33-19 24-1-10-19 12-1-18-19 8-1-18-19 6-1 30-19 4-1-19-19 2-1 8-19 1-1 18-19-2-1-13-19-8-1 28-19-12-1-36-19-11-1 7-19-11-1 38-19-11-1-36-19-11-1-11-19-9-1 30-19-6-1-28-19-4-1-6-19-4-1 23-19-4-1-37-19-3-1 35-19-3-1 7-19-2-1-32-19-2-1 18-19-1-1-2-19-1-1-25-19-1-1 48-19-1-1 3-19-1-1-23-19 0-1 5-19-1-1-3-19 0-1 27-19-1-1-41-19-1-1-2-19-1-1 19-19-1-1-25-19-1-1 13-19-2-1 3-19-2-1-3-19-1-1-2-19-1-1 20-19-1-1-11-19-1-1 7-19-2-1-18-19-2-1 5-19-2-1-4-19-2-1-29-19-2-1 39-19-2-1 30-19-2-1-30-19-1-1-5-19-2-1 12-19-2-1-36-19-2-1 62-19-2-1-35-19-2-1 2-19-2-1 2-19-3-1 21-19-9-1-25-19-27-1-20-19-52-1 23-19-20-1-25-19 48-1 16-19 39-1 11-19 15-1-32-19 4-1 12-19 1-1 33-19 1-1-25-19 0-1 27-19 0-1-29-19-1-1-13-19-1-1 47-19-1-1 21-19-1-1-42-19-1-1-10-19-1-1-27-19-2-1 49-19-2-1-21-19-3-1 4-19-3-1 21-19-3-1 28-19-3-1-39-19-3-1-4-19-2-1-17-19-3-1 20-19-2-1-20-19-1-1 12-19-1-1-19-19-1-1 19-19-1-1 28-19-1-1-14-19-1-1-13-19 0-1 1-19-1-1 8-19 0z"/>
<path stroke-width="40" d="M1335 7715l12 0 12 1 12 0 12 1 12 0 12 1 12 0 12 1 12 0 12 1 12 1 12 1 12 0 12 1 12 1 12 1 12 1 12 2 12 1 12 2 12 2 12 1 12 2 12 2 12 1 12 2 12 2 12 1 12 2 12 1 12 2 12 1 12 1 12 1 12 0 12 1 12 0 12 1 12 0 12 0 12 1 12 0 12 0 12 0 12 0 12-1 12 0 12-1 12-2 12-3 12-7 12-14 12-24 12-33 12-26 12 3 12 30 12 32 12 24 12 13 12 7 12 4 12 2 12 1 12 2 12 1 12 1 12 1 12 2 12 1 12 1 12 1 12 1 12 1 12 2 12 1 12 1 12 1 12 2 12 1 12 1 12 1 12 2 12 1 12 1 12 1 12 1 12 2 12 1 12 1 12 1 12 1 12 1 12 1 12 0 12 1 12 1 12 1 12 0 12 1 12 0 12 1 12 0 12 0 12 1 12 0 12 1 12 0 12 0 12 1 12 0 12 1 12 0 12 0 12 1 12 1 12 0 12 1 12 1 12 1 12 1 12 1 12 2 12 2 12 1 12 2 12 2 12 3 12 2 12 3 12 3 12 4 12 6 12 6 12 6 12 8 12 7 12 6 12 7 12 7 12 7 12 7 12 5 12 2 12 1 12 0 12-1 12-2 12-2 12-3 12-4 12-4 12-4 12-7 12-8 12-13 12-20 12-35 12-59 12-99 12-155 12-219 12-279 12-303 12-248 12-85 12 129 12 275 12 313 12 280 12 218 12 153 12 99 12 61 12 38 12 24 12 15 12 10 12 7 12 4 12 2 12 1 12 0 12 0 12-1 12 0 12 0 12 0 12 1 12 2 12 2 12 1 12 2 12 1 12 2 12 1 12 2 12 1 12 2 12 1 12 2 12 1 12 2 12 1 12 1 12 2 12 1 12 2 12 1 12 1 12 2 12 2 12 1 12 2 12 2 12 1 12 2 12 1 12 2 12 1 12 2 12 1 12 0 12 0 12 0 12-2 12-2 12-3 12-3 12-3 12-1 12 0 12 4 12 5 12 7 12 8 12 7 12 6 12 6 12 5 12 4 12 4 12 3 12 3 12 2 12 3 12 2 12 2 12 2 12 2 12 1 12 2 12 2 12 2 12 1 12 2 12 2 12 1 12 2 12 2 12 2 12 2 12 2 12 1 12 3 12 2 12 2 12 2 12 2 12 3 12 2 12 3 12 2 12 3 12 2 12 2 12 3 12 2 12 2 12 2 12 2 12 2 12 2 12 2 12 2 12 2 12 1 12 2 12 2 12 2 12 1 12 2 12 2 12 1 12 2 12 2 12 2 12 2 12 2 12 1 12 2 12 2 12 2 12 2 12 2 12 2 12 1 12 2 12 2 12 2 12 1 12 2 12 2 12 1 12 2 12 1 12 2 12 1 12 2 12 1 12 1 12 1 12 1 12 1 12 1 12 1 12 0 12 0 12 0 12 0 12 0 12-1 12-1 12-2 12-3 12-3 12-5 12-6 12-9 12-13 12-20 12-33 12-56 12-94 12-147 12-216 12-284 12-328 12-302 12-166 12 62 12 255 12 331 12 316 12 256 12 186 12 123 12 77 12 47 12 30 12 20 12 14 12 11 12 8 12 6 12 5 12 4 12 3 12 2 12 1 12 1 12 0 12 0 12 0 12 0 12 0 12 0 12 0 12 0 12 1 12 0 12 1 12 1 12 1 12 1 12 1 12 1 12 0 12 1 12 1 12 1 12 1 12 1 12 1 12 1 12 1 12 0 12 1 12 1 12 0 12 1 12 0 12 1 12 0 12 0 12 0 12 0 12-1 12-1 12-1 12-4 12-7 12-14 12-23 12-31 12-26 12-2 12 24 12 32 12 25 12 16 12 9 12 5 12 2 12 2 12 1 12 1 12 0 12 1 12 0 12 1 12 0 12 0 12 0 12 0 12 0 12 0 12 0 12-1 12 0 12-1 12-1 12-1 12-2 12-2 12-2 12-3 12-5 12-6 12-9 12-14 12-23 12-36 12-56 12-81 12-107 12-131 12-139 12-115 12-52 12 39 12 110 12 139 12 135 12 114 12 87 12 61 12 41 12 26 12 17 12 11 12 8 12 6 12 5 12 4 12 3 12 3 12 3 12 2 12 1 12 2 12 1 12 1 12 1 12 1 12 1 12 0 12 1 12 1 12 0 12 1 12 0 12 0 12 1 12 0 12 0 12 0 12 1 12 0 12 0 12 0 12 0 12 0 12 0 12 0 12 0 12 0 12 0 12-1 12-1 12-1 12-1 12-4 12-8 12-15 12-28 12-38 12-41 12-16 12 24 12 43 12 38 12 27 12 15 12 9 12 4 12 3 12 2 12 2 12 2 12 1 12 1 12 1 12 1 12 1 12 1 12 1 12 1 12 0 12 1 12 0 12 1 12 0 12 1 12 0 12 1 12 0 12 1 12 0 12 1 12 0 12 1 12 0 12 1 12 0 12 1 12 0 12 0 12 1 12 0 12 1 12 0 12 0 12 1 12 0 12 0 12 1 12 0 12 0 12 0 12 1 12 0 12 0 12 0 12 1 12 0 12 0 12 0 12 0 12 1 12 0 12 0 12 0 12 0 12 0 12 1 12 0 12 0 12 0 12 0 12 0 12 0 12 1 12 0 12 0 12 0 12 0 12 0 12 1 12 0 12 0 12 0 12 0 12 1 12 0 12 0 12 0 12 1 12 0 12 1 12 0 12 0 12 1 12 0 12 1 12 0 12 1 12 0 12 1 12 0 12 1 12 1 12 0 12 1 12 0 12 1 12 1 12 0 12 1 12 0 12 1 12 1 12 0 12 1 12 0 12 1 12 0 12 1 12 0 12 1 12 0 12 0 12 1 12 0 12 1 12 0 12 0 12 1 12 0 12 0 12 1 12 0 12 1 12 0 12 0 12 1 12 0 12 0 12 1 12 0 12 0 12 1 12 0 12 1 12 0 12 0 12 1 12 0 12 1 12 0 12 0 12 1 12 0 12 1 12 1 12 0 12 1 12 1 12 0 12 1 12 1 12 1 12 1 12 1 12 1 12 1 12 1 12 1 12 0 12 1 12 1 12 1 12 1 12 1 12 1 12 1 12 1 12 0 12 1 12 1 12 1 12 0 12 1 12 0 12 1 12 0 12 0 12 0 12 0 12 0 12-1 12 0 12-1 12-1 12-1 12-1 12-2 12-2 12-3 12-3 12-4 12-5 12-5 12-7 12-8 12-9 12-13 12-18 12-26 12-39 12-63 12-96 12-144 12-199 12-253 12-290 12-278 12-187 12-16 12 163 12 268 12 292 12 261 12 208 12 152 12 103 12 67 12 42 12 27 12 18 12 13 12 10 12 8 12 6 12 6 12 4 12 3 12 3 12 3 12 2 12 1 12 2 12 1 12 0 12 1 12 0 12 0 12 0 12 0 12-1 12-1 12-1 12-1 12-2 12-3 12-3 12-5 12-8 12-11 12-17 12-25 12-36 12-48 12-60 12-68 12-67 12-51 12-17 12 23 12 55 12 68 12 67 12 58 12 46 12 34 12 23 12 16 12 10 12 7 12 5 12 3 12 2 12 2 12 2 12 1 12 1 12 1 12 1 12 1 12 0 12 0 12 1 12 0 12 0 12 1 12 0 12 0 12 0 12 0 12 0 12 0 12 0 12 0 12 0 12 0 12 0 12 0 12 0 12 0 12 0 12 0 12 0 12 0 12 0 12 0 12 0 12 0 12 0 12 0 12 0 12 0 12 0 12 0 12 0 12 0 12 0 12 0 12 0 12 0 12 0 12 0 12 0 12 0 12 0 12 0 12 0 12 0 12 0 12 0 12 0 12 0 12 0 12 0 12 1 12 0 12 0 12 0 12 0 12 0 12 0 12 0 12 0 12 0 12 0 12 0 12 0 12 0 12 0 12 0 12 0 12 0 12 0 12-1 12 0 12 0 12 0 12 0 12 0 12 0 12 0 12 0 12-1 12 0 12 0 12-1 12 0 12 0 12-1 12-1 12 0 12-1 12-1 12-2 12-1 12-2 12-3 12-3 12-5 12-7 12-12 12-17 12-25 12-34 12-44 12-51 12-55 12-48 12-26 12 6 12 35 12 51 12 55 12 49 12 41 12 31 12 22 12 15 12 9 12 6 12 5 12 2 12 2 12 1 12 1 12 0 12-1 12-2 12-4 12-8 12-12 12-19 12-26 12-31 12-32 12-23 12-1 12 20 12 32 12 33 12 28 12 21 12 14 12 10 12 5 12 4 12 2 12 2 12 1 12 2 12 1 12 0 12 1 12 1 12 0 12 1 12 0 12 1 12 0 12 0 12 1 12 0 12 0 12 0 12 1 12 0 12 0 12 0 12 1 12 0 12 0 12 0 12 0 12 1 12 0 12 0 12 0 12 0 12 0 12 0 12 1 12 0 12 0 12 0 12 0 12 0 12 0 12 0 12 0 12 1 12 0 12 0 12 0 12 0 12 0 12 0 12 0 12 0 12 0 12 0 12 0 12 0 12 0 12 0 12 0 12 0 12 0 12 0 12 0 12-1 12 0 12 0 12 0 12 0 12-1 12 0 12 0 12-1 12 0 12-1 12-1 12-1 12-1 12-1 12-1 12-2 12-2 12-2 12-3 12-4 12-6 12-8 12-11 12-19 12-27 12-41 12-55 12-71 12-83 12-82 12-65 12-22 12 29 12 67 12 81 12 79 12 65 12 49 12 33 12 17 12 5 12-8 12-20 12-32 12-43 12-52 12-56 12-46 12-24 12 10 12 41 12 56 12 58 12 53 12 43 12 33 12 23 12 16 12 11 12 7 12 5 12 4 12 3 12 2 12 2 12 2 12 1 12 1 12 2 12 1 12 0 12 1 12 1 12 1 12 0 12 1 12 0 12 1 12 0 12 1 12 0 12 1 12 0 12 0 12 1 12 0 12 0 12 1 12 0 12 0 12 1 12 0 12 0 12 0 12 1 12 0 12 0 12 0 12 0 12 1 12 0 12 0 12 0 12 0 12 1 12 0 12 0 12 0 12 0 12 1 12 0 12 0 12 0 12 0 12 1 12 0 12 0 12 0 12 0 12 0 12 1 12 0 12 0 12 0 12 0 12 0 12 1 12 0 12 0 12 0 12 0 12 0 12 0 12 1 12 0 12 0 12 0 12 0 12 0 12 0 12 1 12 0 12 0 12 0 12 0 12 0 12 0 12 1 12 0 12 0 12 0 12 0 12 0 12 0 12 0 12 1 12 0 12 0 12 0 12 0 12 0 12 0 12 0 12 0 12 1 12 0 12 0 12 0 12 0 12 0 12 0 12 0 12 0 12 0 12 0 12 0 12 0 12-1 12 0 12 0 12-1 12-1 12-1 12-2 12-2 12-3 12-3 12-4 12-5 12-4 12-4 12-3 12-2 12 1 12 2 12 3 12 5 12 4 12 5 12 4 12 3 12 3 12 3 12 2 12 1 12 1 12 1 12 1 12 0 12 1 12 0 12 1 12 0 12 0 12 0 12 1 12 0 12 0 12 0 12 0 12 1 12 0 12 0 12 0 12 0 12 0 12 1 12 0 12 0 12 0 12 0 12 0 12 0 12 1 12 0 12 0 12 0 12 0 12 0 12 0 12 0 12 0 12 0 12 0 12 0 12 0 12-1 12 0 12 0 12-1 12-1 12-2 12-2 12-3 12-3 12-4 12-4 12-4 12-4 12-4 12-2 12 0 12 1 12 4 12 4 12 4 12 5 12 4 12 4 12 3 12 3 12 2 12 1 12 2 12 1 12 0 12 1 12 0 12 1 12 0 12 0 12 1 12 0 12 0 12 0 12 1 12 0 12 0 12 0 12 0 12 0 12 0 12 0 12 1 12 0 12 0 12 0 12 0 12 0 12-1 12 0 12 0 12-1 12 0 12-1 12-1 12-2 12-2 12-3 12-3 12-4 12-4 12-5 12-4 12-3 12-2 12 0 12 2 12 3 12 4 12 5 12 4 12 4 12 4 12 3 12 2 12 2 12 1 12 2 12 0 12 1 12 0 12 1 12 0 12 0 12 0 12 0 12 0 12 0 12-1 12 0 12 0 12-1 12-1 12-2 12-2 12-3 12-3 12-5 12-5 12-7 12-7 12-8 12-8 12-6 12-5 12-1 12 2 12 5 12 7 12 8 12 7 12 8 12 6 12 6 12 4 12 4 12 3 12 2 12 1 12 1 12 1 12 1 12 0 12 1 12 0 12 1 12 0 12 0 12 0 12 0 12 0 12 1 12 0 12 0 12 0 12 0 12 0 12 0 12 0 12 0 12 0 12 0 12 0 12 0 12 0 12 0 12 0 12 0 12 0 12 0 12 0 12 0 12 0 12 0 12 0 12 0 12 0 12 0 12 0 12 0 12 0 12 0 12 0 12 0 12 0 12 0 12 0 12 0 12 0 12 0 12 0 12 0 12 0 12 0 12 0 12 0 12 0 12-1 12 0 12 0 12 0 12 0 12 0 12 0 12 0 12 0 12-1 12 0 12 0 12 0 12 0 12 0 12-1 12 0 12 0 12 0 12-1 12 0 12 0 12-1 12 0 12-1 12-1 12 0 12-1 12-1 12-2 12-2 12-4 12-5 12-8 12-11 12-16 12-20 12-24 12-25 12-21 12-12 12 2 12 16 12 24 12 25 12 22 8 13"/>
</g>
<g fill="none" stroke="#f0f" stroke-linejoin="round" transform="translate(0,193.5) scale(0.1)">
<path fill="#f0f" stroke="none" d="M1335 7632l19 0 1-4 19 0 1 14 19 1 1-8 19 1 1 17 19 1 1 8 19 1 1-19 19 1 1 28 19 1 1-5 19 2 1-17 19 2 1 24 19 3 1-33 19 3 1 10 19 3 1-14 19 3 1 10 19 2 1 20 19 3 1-3 19 2 1 12 19 2 1-66 19 2 1 35 19 1 1 12 19 1 1-9 19 1 1-20 19 0 1 45 19 1 1-33 19 1 1 17 19 0 1-6 19 0 1-1 19-1 1-20 19-2 1 47 19-4 1-30 19-15 1 8 19-40 1 2 19-47 1 7 19 20 1 0 19 52 1 3 19 28 1-19 19 9 1-42 19 4 1 54 19 2 1-40 19 2 1 29 19 2 1 12 19 2 1-32 19 2 1 27 19 2 1-13 19 2 1 21 19 2 1 11 19 2 1 0 19 2 1-27 19 2 1-11 19 2 1 17 19 2 1 23 19 2 1-52 19 2 1 21 19 1 1 25 19 2 1-13 19 2 1 36 19 2 1-41 19 1 1 18 19 1 1 3 19 1 1 3 19 0 1-46 19 1 1 42 19 1 1-32 19 1 1-10 19 0 1 5 19 1 1 1 19 1 1 38 19 1 1-5 19 0 1 3 19 1 1-18 19 1 1-6 19 1 1 24 19 2 1-5 19 3 1-11 19 3 1 14 19 3 1-69 19 4 1 53 19 5 1-7 19 5 1 26 19 9 1-8 19 11 1-20 19 12 1-4 19 11 1 48 19 11 1-22 19 12 1-6 19 8 1-14 19 2 1 15 19-1 1 26 19-3 1-24 19-4 1-7 19-5 1 4 19-8 1-26 19-12 1 30 19-24 1-9 19-57 1-13 19-137 1 25 19-284 1-33 19-447 1-15 19-441 1 8 19-26 1 9 19 432 1-5 19 477 1 26 19 320 1 19 19 164 1-26 19 74 1 3 19 34 1-19 19 16 1 20 19 8 1 15 19 3 1-28 19 1 1 25 19-1 1 7 19 0 1-39 19 1 1 13 19 3 1 12 19 2 1-6 19 2 1 21 19 2 1-34 19 3 1 23 19 3 1 18 19 2 1-16 19 3 1 4 19 3 1-12 19 2 1-13 19 3 1-13 19 3 1 32 19 3 1-7 19 2 1 8 19 3 1 4 19 3 1-26 19 2 1 7 19 3 1 1 19 3 1-24 19 2 1 7 19 0 1 18 19-1 1 19 19-3 1-6 19-5 1-9 19-4 1-5 19-1 1-19 19 5 1 35 19 11 1-3 19 12 1-1 19 11 1-8 19 8 1 13 19 7 1-15 19 5 1 17 19 4 1-35 19 3 1 31 19 3 1-2 19 3 1 8 19 3 1-1 19 3 1 10 19 3 1-2 19 3 1 0 19 3 1-20 19 2 1 9 19 3 1-17 19 3 1 2 19 4 1 26 19 3 1 13 19 4 1-7 19 4 1-11 19 4 1 15 19 4 1-29 19 4 1 15 19 4 1-11 19 3 1 12 19 3 1 1 19 3 1-5 19 3 1-9 19 3 1 14 19 3 1-9 19 3 1 4 19 3 1 1 19 3 1-11 19 2 1-7 19 3 1 0 19 3 1 33 19 3 1 10 19 3 1-39 19 3 1 16 19 3 1-25 19 3 1 36 19 3 1-20 19 3 1-14 19 3 1 25 19 3 1-9 19 2 1-38 19 2 1 45 19 2 1-39 19 3 1 33 19 2 1-6 19 2 1 0 19 2 1 0 19 1 1-18 19 1 1 32 19 0 1-8 19 0 1-7 19-1 1 14 19-2 1-10 19-3 1 6 19-6 1 1 19-10 1-7 19-19 1 21 19-39 1-14 19-92 1 1 19-208 1-11 19-386 1-8 19-524 1-25 19-356 1 9 19 206 1 27 19 527 1-3 19 452 1 6 19 268 1-20 19 128 1 34 19 57 1-16 19 29 1 33 19 18 1-41 19 12 1 31 19 8 1-46 19 4 1 46 19 2 1-11 19 1 1 13 19 0 1-28 19 0 1 18 19 0 1 7 19 0 1 9 19 1 1-15 19 2 1 8 19 1 1-34 19 1 1 20 19 1 1-24 19 1 1 11 19 1 1 37 19 2 1-11 19 1 1-23 19 1 1-10 19 1 1 19 19 1 1 9 19 1 1 9 19 1 1-5 19 1 1-20 19 0 1 15 19 0 1-5 19 0 1 8 19-2 1-11 19-7 1 0 19-23 1 6 19-46 1-19 19-31 1 23 19 36 1 1 19 45 1-31 19 23 1 27 19 8 1-2 19 3 1-27 19 1 1 26 19 1 1 0 19 0 1-12 19 1 1 8 19 1 1 9 19 0 1-12 19 0 1 6 19 0 1-25 19-1 1 18 19-2 1 22 19-2 1-15 19-3 1 6 19-4 1-35 19-8 1 21 19-13 1-3 19-27 1 3 19-59 1 8 19-117 1-4 19-188 1-16 19-222 1-3 19-123 1 21 19 102 1-21 19 222 1 23 19 198 1-5 19 127 1 11 19 67 1-7 19 32 1 15 19 17 1 3 19 10 1-8 19 7 1 6 19 5 1-1 19 4 1 6 19 3 1-1 19 2 1 8 19 2 1-15 19 1 1-16 19 2 1 3 19 1 1 19 19 1 1-19 19 1 1-12 19 1 1 18 19 1 1-7 19 1 1-1 19 0 1 3 19 0 1 0 19 0 1-18 19 0 1 20 19 0 1-10 19-1 1 16 19 0 1-29 19-1 1 10 19-2 1-6 19-7 1 34 19-21 1-4 19-51 1 5 19-62 1-13 19 16 1 0 19 68 1 5 19 44 1-8 19 18 1 2 19 7 1 1 19 4 1 5 19 2 1 7 19 2 1-14 19 2 1-16 19 2 1 25 19 1 1-16 19 1 1 10 19 1 1-14 19 1 1 37 19 1 1-29 19 1 1 13 19 1 1 5 19 0 1-21 19 1 1-3 19 1 1 3 19 1 1-3 19 1 1 5 19 1 1 10 19 1 1-25 19 1 1 28 19 0 1 1 19 1 1-12 19 1 1-11 19 0 1 30 19 0 1 0 19 1 1-11 19 0 1 5 19 0 1-12 19 1 1 16 19 0 1-3 19 1 1-24 19 0 1 21 19 0 1-9 19 0 1-17 19 0 1 22 19 1 1-10 19 0 1 18 19 0 1-22 19 0 1 1 19 0 1 10 19 0 1 4 19 0 1 3 19 1 1-10 19 0 1-5 19 0 1 6 19 0 1-9 19 0 1-11 19 1 1 26 19 1 1 6 19 1 1 2 19 0 1-14 19 1 1 0 19 0 1 3 19 0 1 23 19 1 1-23 19 1 1 1 19 1 1-27 19 1 1 33 19 1 1 3 19 1 1-18 19 1 1 4 19 1 1 15 19 1 1-3 19 1 1-17 19 1 1 20 19 1 1-23 19 1 1 22 19 1 1 7 19 1 1-35 19 0 1 16 19 0 1-9 19 1 1 11 19 1 1 2 19 1 1-4 19 1 1 2 19 1 1 9 19 0 1-5 19 0 1 0 19 1 1 3 19 1 1 16 19 1 1-48 19 0 1 17 19 1 1 13 19 1 1-15 19 0 1 17 19 1 1-18 19 1 1 17 19 1 1-17 19 1 1 0 19 1 1 35 19 1 1-25 19 1 1 0 19 2 1-7 19 1 1-9 19 2 1 19 19 2 1 10 19 1 1 7 19 1 1-32 19 2 1 1 19 2 1 16 19 1 1 4 19 1 1-21 19 1 1 18 19 1 1 4 19 1 1-42 19 1 1 26 19 1 1 10 19 0 1-10 19 0 1 16 19 0 1-3 19 0 1-16 19-1 1 14 19-2 1 6 19-3 1-4 19-3 1 1 19-4 1-7 19-6 1 13 19-9 1-7 19-13 1 14 19-18 1-15 19-29 1 5 19-56 1-18 19-118 1-5 19-233 1-2 19-382 1-15 19-469 1-1 19-297 1-3 19 165 1 17 19 452 1-8 19 423 1 29 19 279 1-15 19 148 1 3 19 71 1-10 19 35 1 29 19 20 1-6 19 13 1-2 19 9 1-6 19 7 1-12 19 4 1 21 19 4 1-8 19 3 1 1 19 2 1-10 19 1 1-3 19 1 1 1 19-1 1 10 19-1 1 2 19-2 1-4 19-3 1-5 19-4 1 26 19-6 1-20 19-12 1 14 19-24 1-6 19-46 1-20 19-78 1 11 19-106 1-4 19-102 1 1 19-29 1 8 19 73 1-5 19 111 1-12 19 94 1 22 19 62 1-6 19 35 1 1 19 17 1 0 19 9 1-7 19 5 1 7 19 3 1 2 19 3 1-2 19 2 1-1 19 2 1-7 19 1 1 23 19 0 1-11 19 0 1-11 19 0 1-16 19 0 1 15 19 0 1-8 19 0 1 2 19 1 1 6 19 0 1-1 19 0 1 13 19 0 1-9 19 0 1-10 19 0 1 3 19 0 1-8 19 0 1 21 19 0 1-11 19 0 1 3 19 0 1 4 19 0 1 2 19 0 1 0 19 0 1 12 19 0 1-22 19 0 1 4 19 0 1 9 19 0 1 2 19 0 1-11 19 0 1 17 19 0 1-18 19 0 1 13 19 0 1 2 19 0 1 7 19 0 1-28 19 0 1 16 19 0 1-2 19 0 1-12 19 0 1 9 19 0 1-3 19 0 1 17 19 0 1-8 19 0 1-13 19 0 1 21 19 0 1-10 19 0 1 6 19 0 1-34 19 0 1 34 19 0 1-22 19 0 1 20 19 0 1-6 19 0 1 6 19 0 1-21 19-1 1 6 19 0 1-2 19-1 1 24 19 0 1-6 19-1 1-9 19-1 1-12 19-2 1 10 19-3 1-9 19-4 1 32 19-9 1-12 19-16 1-2 19-31 1-17 19-55 1 8 19-80 1 1 19-86 1 13 19-42 1-25 19 41 1-15 19 85 1 33 19 81 1-28 19 56 1 23 19 32 1 4 19 16 1 0 19 7 1-10 19 4 1-4 19 2 1 13 19 0 1-21 19-2 1 9 19-7 1-21 19-17 1 18 19-34 1 12 19-51 1 10 19-43 1-30 19 9 1 20 19 51 1-16 19 49 1 14 19 30 1-14 19 15 1 6 19 7 1 12 19 3 1 8 19 2 1-15 19 2 1-13 19 1 1 14 19 1 1-11 19 1 1 20 19 1 1-3 19 0 1-38 19 1 1 52 19 1 1-14 19 0 1-4 19 0 1-23 19 0 1 36 19 0 1 9 19 0 1-10 19 0 1 2 19 1 1 5 19 0 1-9 19 1 1-8 19 0 1-10 19 0 1 13 19 0 1 10 19 0 1-13 19 1 1 14 19 0 1-12 19 0 1 8 19 0 1 2 19 0 1 3 19 0 1-11 19 0 1-6 19 0 1 6 19 0 1 3 19 0 1 1 19 0 1-4 19 0 1 15 19 0 1-35 19 0 1 15 19 0 1 15 19 0 1-2 19-1 1-21 19 0 1 4 19 0 1 2 19 0 1 8 19-1 1-3 19-1 1-16 19-2 1 28 19-2 1-12 19-2 1 1 19-4 1-12 19-5 1 11 19-8 1-4 19-14 1 12 19-29 1-26 19-58 1 15 19-99 1 0 19-132 1-9 19-117 1 9 19-10 1-2 19 105 1-13 19 130 1 13 19 98 1 5 19 54 1-14 19 15 1 1 19-18 1-3 19-52 1 15 19-80 1-6 19-87 1 4 19-38 1 7 19 49 1-9 19 93 1-3 19 86 1 10 19 59 1 7 19 34 1-10 19 18 1-4 19 9 1-2 19 5 1 16 19 4 1-4 19 2 1 1 19 3 1-17 19 1 1 10 19 1 1 16 19 1 1-25 19 1 1-8 19 1 1 27 19 1 1-6 19 1 1 13 19 0 1-16 19 1 1-10 19 1 1 21 19 1 1-8 19 1 1-14 19 0 1 27 19 0 1-19 19 0 1 19 19 0 1-18 19 1 1 13 19 0 1-8 19 1 1-16 19 0 1 15 19 0 1 8 19 0 1-5 19 0 1 9 19 1 1-23 19 1 1-8 19 0 1 22 19 0 1 3 19 0 1-1 19 0 1-3 19 0 1 8 19 0 1 4 19 0 1-22 19 1 1 21 19 1 1-27 19 0 1 18 19 1 1-5 19 0 1-18 19 1 1 16 19 0 1 11 19 1 1-7 19 0 1-10 19 0 1 16 19 1 1-6 19 0 1-6 19 0 1-30 19 0 1 50 19 0 1-9 19 1 1-17 19 0 1 19 19 0 1-5 19 0 1-17 19 0 1-9 19 0 1 16 19 1 1 14 19 0 1-4 19 0 1 4 19 0 1-12 19 0 1-5 19 0 1 9 19 0 1 9 19 0 1-25 19 0 1 17 19 0 1-7 19 0 1 5 19 0 1 14 19 0 1-4 19-1 1-2 19-1 1 1 19-2 1-8 19-3 1 0 19-4 1 8 19-6 1-20 19-7 1-4 19-7 1 19 19-4 1 2 19 1 1-18 19 5 1 24 19 8 1-24 19 7 1 4 19 6 1 6 19 5 1 15 19 3 1 3 19 2 1-8 19 1 1-11 19 1 1 9 19 0 1 6 19 1 1 5 19 0 1-16 19 1 1-8 19 0 1 17 19 0 1-1 19 0 1 8 19 1 1-16 19 1 1-6 19 0 1 6 19 1 1-5 19 0 1 17 19 0 1-12 19 1 1-7 19 0 1 16 19 1 1-17 19 1 1 9 19 0 1 13 19 0 1-20 19 0 1-10 19 0 1 7 19 0 1 19 19-1 1-27 19-1 1 12 19-1 1-9 19-3 1 19 19-4 1-5 19-6 1 3 19-7 1-13 19-7 1 24 19-4 1-7 19 0 1-14 19 5 1 1 19 7 1 7 19 7 1 5 19 6 1 6 19 5 1-42 19 3 1 24 19 2 1 14 19 2 1-13 19 0 1 0 19 1 1 20 19 1 1-10 19 1 1-7 19 0 1-1 19 0 1 3 19 0 1 15 19 0 1-6 19 0 1 1 19 0 1-2 19 0 1-4 19 0 1 6 19 0 1-9 19 0 1-3 19 0 1 5 19-1 1-6 19-1 1 9 19-1 1-7 19-3 1 1 19-5 1-7 19-6 1 11 19-7 1-11 19-6 1 1 19-4 1-19 19 1 1 34 19 5 1-5 19 7 1-14 19 7 1 24 19 6 1-15 19 4 1 2 19 3 1-1 19 1 1 7 19 1 1-18 19 1 1 2 19 0 1 15 19 1 1-21 19 0 1 13 19-1 1 15 19-1 1-9 19-1 1-22 19-2 1 18 19-3 1-5 19-5 1 10 19-8 1-2 19-10 1-12 19-12 1 20 19-12 1-10 19-9 1 6 19 0 1-10 19 8 1 12 19 12 1-17 19 12 1-6 19 11 1 26 19 8 1-21 19 5 1-7 19 3 1 17 19 2 1 11 19 2 1 3 19 1 1 1 19 1 1-13 19 1 1 5 19 1 1 1 19 0 1-11 19 0 1 10 19 0 1 0 19 0 1-7 19 0 1 19 19 0 1-9 19 0 1-9 19 0 1-16 19 0 1 12 19 0 1 5 19 0 1-10 19 0 1-18 19 0 1 16 19 0 1 3 19 0 1-8 19 0 1 22 19 0 1-11 19 0 1-9 19 0 1 16 19 0 1-9 19 0 1 14 19 0 1-12 19 0 1 17 19 0 1 1 19 0 1-10 19 0 1-4 19 0 1-8 19 0 1 10 19-1 1-17 19 0 1-11 19 0 1 32 19 0 1-2 19 0 1 3 19 0 1 4 19 0 1-14 19 0 1 12 19 0 1-7 19 0 1 2 19 0 1-23 19 0 1 8 19 0 1 12 19 0 1-7 19-1 1-4 19-1 1 13 19-1 1-8 19-1 1 7 19-2 1-4 19-4 1 4 19-7 1 10 19-15 1-13 19-26 1-25 19-37 1 23 19-40 1 8 19-20 1-18 19 18 1 7 19 39 1 4 19 37 1-1 4 6 0 84-4-6-1-2-19-37-1 0-19-39-1-3-19-19-1 27-19 19-1-8-19 40-1-12-19 37-1-11-19 25-1 4-19 15-1 8-19 8-1 1-19 3-1 3-19 2-1-2-19 2-1 11-19 1-1 4-19 1-1-16-19 0-1 8-19 0-1 5-19 0-1-8-19 1-1-5-19 0-1 3-19 1-1-20-19 0-1 28-19 1-1-21-19 0-1 9-19 0-1 13-19 0-1-7-19 0-1 5-19 0-1-19-19 0-1-1-19 0-1 14-19 0-1 1-19 0-1-14-19 0-1 32-19 0-1-13-19 0-1-21-19 0-1 9-19 0-1 14-19 0-1-19-19 0-1 11-19 0-1 14-19 0-1-21-19 0-1 2-19 0-1 7-19 0-1 1-19 0-1-10-19 0-1 3-19 0-1 0-19 0-1-7-19 0-1 17-19 0-1 0-19 0-1-29-19 0-1 33-19 0-1-12-19 0-1-6-19 0-1 18-19-1-1-15-19-1-1-2-19 0-1 9-19-1-1 7-19-1-1-19-19 0-1 13-19-1-1-4-19-1-1-3-19-2-1 19-19-3-1-26-19-6-1 22-19-8-1-14-19-10-1-10-19-13-1 16-19-13-1-20-19-8-1 8-19 0-1 2-19 8-1 9-19 12-1 1-19 12-1 1-19 10-1 11-19 7-1-14-19 5-1 6-19 3-1-15-19 2-1 8-19 1-1 1-19 1-1 1-19 0-1-3-19 0-1-3-19 0-1-1-19 0-1 10-19-1-1 15-19-1-1-31-19-2-1 16-19-3-1 3-19-4-1-7-19-6-1-5-19-7-1 13-19-7-1-10-19-5-1 10-19-1-1-5-19 4-1-12-19 6-1 10-19 7-1 21-19 6-1-40-19 5-1 32-19 3-1-16-19 2-1-10-19 1-1 14-19 1-1-4-19 0-1-1-19 0-1 17-19 0-1-16-19 0-1-13-19-1-1 10-19 0-1 16-19 0-1-7-19 0-1-22-19-1-1 28-19-1-1-4-19 0-1 0-19-1-1-9-19-1-1 12-19 0-1-9-19-1-1-4-19-1-1 6-19-2-1 2-19-3-1-19-19-4-1 9-19-6-1 14-19-7-1 0-19-7-1-20-19-5-1 25-19 0-1-13-19 5-1-7-19 6-1 7-19 7-1 6-19 5-1 1-19 4-1 6-19 3-1-9-19 2-1-3-19 1-1-8-19 0-1 9-19 0-1 11-19 0-1-8-19 0-1-9-19 0-1-10-19 0-1 8-19 0-1 7-19-1-1-1-19 0-1 5-19 0-1 5-19 0-1 0-19-1-1 16-19-1-1-27-19 0-1 6-19 0-1 2-19-1-1-5-19 0-1 3-19 0-1-16-19 0-1 11-19-1-1 15-19-1-1 7-19-1-1-30-19-1-1 0-19 0-1 7-19-1-1 15-19-2-1-19-19-3-1 14-19-4-1-5-19-6-1-14-19-7-1 29-19-7-1-12-19-5-1-17-19 0-1 18-19 4-1-9-19 7-1 17-19 7-1 2-19 5-1-22-19 5-1-6-19 3-1 6-19 2-1 1-19 1-1 6-19 0-1 23-19 0-1-27-19 0-1 1-19 0-1 18-19 0-1-20-19 0-1-1-19 0-1-1-19 0-1 12-19-1-1-15-19 0-1 25-19-1-1-26-19 0-1 29-19-1-1-17-19 0-1 12-19 0-1-28-19 0-1 24-19 0-1 12-19 0-1-36-19-1-1 10-19 0-1 11-19 0-1-17-19 0-1-1-19 0-1 16-19 0-1-2-19-1-1 6-19 0-1 1-19 0-1-3-19 0-1 10-19 0-1-15-19 0-1-3-19 0-1 8-19-1-1-10-19-1-1-8-19 0-1 17-19-1-1-19-19-1-1 25-19 0-1-23-19 0-1 9-19 0-1 12-19-1-1-12-19-1-1-12-19 0-1 39-19 0-1-16-19-1-1 2-19 0-1-7-19 0-1 15-19 0-1-15-19 0-1 10-19-1-1-6-19-1-1-5-19 0-1 1-19-1-1 0-19 0-1-1-19 0-1-15-19 0-1 11-19-1-1 1-19 0-1-12-19-1-1 3-19 0-1 5-19-1-1 3-19 0-1 2-19 0-1-5-19-1-1 7-19-1-1-13-19-2-1-5-19-2-1-4-19-2-1 22-19-2-1 3-19-3-1-14-19-4-1 22-19-6-1-18-19-9-1 1-19-18-1-13-19-34-1 12-19-59-1 10-19-85-1-20-19-93-1 0-19-49-1 28-19 37-1-28-19 87-1 34-19 81-1-30-19 51-1 24-19 18-1-25-19-15-1 14-19-53-1-15-19-98-1 19-19-130-1 2-19-105-1-26-19 10-1 13-19 116-1 9-19 132-1-3-19 99-1-13-19 58-1 5-19 29-1-4-19 15-1 48-19 7-1-41-19 5-1 4-19 3-1 2-19 2-1-13-19 2-1 4-19 1-1 36-19 1-1-27-19 0-1-7-19 1-1 7-19 0-1-5-19 1-1 0-19 0-1 7-19 1-1 7-19 0-1-28-19 0-1 20-19 0-1 1-19 0-1 9-19 0-1-12-19 0-1-2-19 0-1 0-19 0-1 6-19 0-1 5-19 0-1-11-19 0-1-7-19 0-1 7-19 0-1 18-19 0-1-16-19 0-1-12-19 0-1-4-19 0-1 17-19 0-1-14-19 0-1 15-19 0-1-17-19 0-1 4-19 0-1 19-19 0-1-22-19 0-1 5-19 0-1 14-19 0-1 12-19-1-1-27-19-1-1 16-19 0-1-7-19-1-1-3-19-1-1-2-19-1-1 13-19-1-1-6-19-1-1 15-19-2-1-20-19-1-1-8-19-2-1 28-19-4-1-32-19-7-1 11-19-16-1 4-19-31-1 18-19-49-1-3-19-51-1-26-19-9-1 22-19 42-1 1-19 51-1 10-19 35-1-15-19 18-1-17-19 7-1-4-19 2-1 3-19 0-1 22-19-2-1-8-19-4-1 0-19-8-1-4-19-16-1-3-19-31-1 8-19-56-1 13-19-80-1-27-19-86-1 5-19-40-1 0-19 42-1-8-19 86-1 16-19 80-1-6-19 56-1-15-19 32-1 12-19 16-1 3-19 8-1-8-19 5-1 1-19 3-1-4-19 2-1 13-19 1-1-3-19 1-1-13-19 1-1 12-19 0-1 4-19 1-1-6-19 1-1 3-19 1-1 11-19 1-1-14-19 1-1 19-19 1-1-14-19 0-1-12-19 0-1 21-19 0-1-6-19 0-1 0-19 0-1-15-19 0-1 25-19 0-1-11-19 0-1-11-19 0-1-5-19 0-1 37-19 0-1-45-19 0-1 21-19 0-1-8-19 0-1 7-19 0-1 16-19 0-1-28-19 0-1 11-19 0-1-6-19 0-1-3-19 0-1 18-19 0-1-6-19 0-1-11-19 0-1 10-19 0-1 18-19 0-1-35-19 0-1 12-19 0-1 6-19 0-1-1-19 0-1-12-19 0-1 1-19 1-1 18-19 0-1-11-19 0-1 1-19 0-1-3-19 0-1 1-19 0-1-7-19 0-1 3-19 0-1-5-19 0-1 20-19 0-1-15-19 0-1 6-19 0-1 11-19 0-1-18-19-1-1 23-19-1-1-12-19-1-1 5-19-2-1-18-19-1-1 4-19-2-1 3-19-3-1 16-19-5-1 21-19-9-1-38-19-17-1-4-19-35-1 12-19-62-1-1-19-94-1-16-19-110-1 5-19-72-1-13-19 28-1 26-19 102-1-12-19 106-1 0-19 78-1-5-19 46-1 11-19 24-1-14-19 12-1 32-19 6-1-28-19 3-1-1-19 3-1 26-19 2-1-29-19 1-1 7-19 0-1 9-19-1-1-21-19-1-1 25-19-2-1-11-19-3-1 20-19-3-1-15-19-4-1 3-19-7-1 0-19-9-1-2-19-13-1-5-19-20-1-4-19-34-1 16-19-71-1-10-19-148-1-13-19-279-1-4-19-423-1 1-19-452-1-23-19-165-1 5-19 298-1 10-19 469-1 27-19 381-1-6-19 233-1 13-19 118-1 27-19 56-1-35-19 29-1-1-19 18-1 25-19 13-1-13-19 8-1-5-19 7-1 2-19 4-1-4-19 3-1-6-19 3-1 21-19 2-1-15-19 1-1-8-19 0-1 14-19 1-1-12-19 0-1 19-19 0-1-22-19-1-1 30-19 0-1-16-19-1-1-5-19-1-1 7-19-1-1-26-19-2-1 9-19-1-1 25-19-1-1-11-19-2-1-7-19-2-1 7-19-2-1 7-19-1-1-9-19-2-1-4-19-2-1 4-19-1-1-13-19-1-1 18-19-1-1-17-19-1-1 10-19-1-1-8-19-1-1 7-19-1-1-6-19-1-1 4-19-1-1-3-19 0-1 15-19-1-1-16-19-1-1 6-19 0-1-7-19 0-1 2-19-1-1-1-19-1-1 10-19 0-1-7-19 0-1-11-19-1-1 7-19-1-1 9-19 0-1-11-19 0-1 19-19 0-1-13-19-1-1-2-19-1-1 7-19-1-1-8-19-1-1 5-19 0-1 17-19-1-1-28-19-1-1 3-19-1-1 9-19-1-1-24-19-1-1 37-19-1-1-23-19-1-1-11-19-1-1 38-19-1-1-18-19-1-1-1-19-1-1-3-19-1-1 24-19-1-1-20-19-1-1 15-19-1-1-3-19-1-1-10-19 0-1-1-19 0-1-7-19 0-1-5-19 0-1-7-19 0-1 45-19-1-1-29-19 0-1-8-19 0-1 1-19 0-1 17-19-1-1 0-19 0-1 0-19-1-1-23-19-1-1 15-19 0-1-5-19 0-1 12-19 0-1-5-19 0-1-10-19-1-1 5-19 0-1-14-19-1-1 17-19 0-1-6-19 0-1 5-19-1-1-8-19 0-1 7-19 0-1 7-19-1-1-9-19-1-1 17-19-1-1-30-19 0-1 9-19 0-1 20-19 0-1-11-19-1-1 6-19-1-1 4-19 0-1-33-19-1-1 1-19-1-1 26-19-1-1-19-19-1-1 6-19-1-1 29-19-1-1-24-19-1-1 15-19 0-1-11-19-1-1-10-19-1-1 33-19-2-1-31-19-1-1-10-19-3-1 16-19-3-1-3-19-3-1-3-19-6-1 11-19-17-1-7-19-44-1 12-19-68-1-17-19-15-1 19-19 62-1-32-19 51-1 21-19 20-1-18-19 6-1 26-19 2-1-15-19 1-1-1-19 1-1 9-19 0-1-8-19 0-1 14-19 0-1-5-19 0-1-15-19-1-1 4-19 0-1 6-19 0-1 5-19 0-1-10-19-1-1-3-19 0-1 0-19 0-1 4-19-1-1 17-19-2-1-14-19-1-1-15-19-2-1 21-19-2-1 6-19-3-1 2-19-3-1-13-19-5-1 2-19-7-1 4-19-11-1-6-19-17-1 6-19-33-1 4-19-67-1 3-19-128-1-35-19-198-1 13-19-222-1-9-19-101-1-7-19 123-1 4-19 222-1 12-19 188-1 20-19 116-1-8-19 59-1-6-19 27-1 11-19 13-1-14-19 7-1 10-19 5-1-6-19 3-1 2-19 2-1-1-19 1-1-5-19 0-1 15-19 0-1-13-19 0-1 4-19 0-1 10-19 0-1-2-19 0-1-6-19-1-1 0-19-1-1-11-19-2-1 24-19-3-1 16-19-7-1-39-19-23-1 8-19-45-1 13-19-36-1-27-19 31-1 37-19 45-1-10-19 23-1-36-19 8-1 27-19 2-1 24-19 0-1-14-19 0-1-25-19 0-1 8-19-1-1 10-19-1-1 5-19-1-1-26-19-1-1 18-19-1-1-4-19-1-1 23-19-1-1-6-19-2-1-14-19-2-1 2-19-1-1-21-19-1-1 13-19-2-1 8-19-2-1-15-19-1-1 30-19-1-1-3-19 0-1-6-19 0-1 22-19 0-1-23-19 0-1-10-19-1-1 1-19-3-1 5-19-4-1-18-19-8-1 17-19-12-1 3-19-18-1 9-19-29-1-20-19-58-1 3-19-128-1-17-19-268-1 30-19-453-1-44-19-527-1-12-19-207-1 20-19 356-1 16-19 524-1 8-19 387-1 20-19 208-1-19-19 92-1 21-19 39-1-9-19 19-1 1-19 11-1-15-19 6-1 1-19 4-1 4-19 2-1-6-19 1-1 9-19 0-1-16-19-1-1 20-19-1-1-13-19-2-1-1-19-2-1 14-19-2-1 26-19-2-1-25-19-2-1-7-19-2-1-2-19-3-1 0-19-3-1 12-19-3-1-7-19-3-1-4-19-3-1 0-19-3-1 1-19-3-1-15-19-3-1 19-19-3-1-22-19-3-1 34-19-3-1-17-19-3-1-3-19-3-1 14-19-3-1-12-19-3-1 13-19-3-1-9-19-3-1-11-19-3-1-4-19-3-1 10-19-3-1 7-19-3-1 1-19-4-1-13-19-4-1-10-19-3-1 15-19-4-1 36-19-4-1-37-19-4-1 16-19-4-1 0-19-4-1-8-19-4-1 12-19-3-1-11-19-3-1 11-19-3-1-14-19-2-1-9-19-3-1 18-19-3-1-17-19-3-1 22-19-3-1-8-19-3-1-19-19-3-1 14-19-3-1-9-19-4-1-16-19-4-1 50-19-5-1-47-19-7-1 44-19-9-1 10-19-11-1-18-19-12-1-24-19-11-1-5-19-5-1 31-19 2-1-14-19 5-1-20-19 5-1 22-19 3-1-7-19 1-1-1-19 0-1 15-19-2-1-2-19-2-1-12-19-3-1 39-19-3-1-31-19-3-1-40-19-3-1 10-19-2-1 12-19-3-1-12-19-3-1 21-19-2-1 29-19-3-1-11-19-2-1-23-19-2-1-15-19-2-1 57-19-2-1-20-19-2-1 3-19-3-1-20-19-2-1 3-19-3-1 5-19-3-1-11-19-1-1-9-19 1-1 34-19 1-1-15-19-1-1-13-19-3-1-1-19-8-1 4-19-17-1-10-19-34-1-2-19-73-1 0-19-165-1 36-19-320-1-34-19-478-1-4-19-432-1-34-19 26-1 30-19 442-1 23-19 447-1 8-19 284-1-14-19 137-1 5-19 57-1 33-19 24-1-10-19 12-1-18-19 8-1-18-19 6-1 30-19 4-1-19-19 2-1 8-19 1-1 18-19-2-1-13-19-8-1 28-19-12-1-36-19-11-1 7-19-11-1 38-19-11-1-36-19-11-1-11-19-9-1 30-19-6-1-28-19-4-1-6-19-4-1 23-19-4-1-37-19-3-1 35-19-3-1 7-19-2-1-32-19-2-1 18-19-1-1-2-19-1-1-25-19-1-1 48-19-1-1 3-19-1-1-23-19 0-1 5-19-1-1-3-19 0-1 27-19-1-1-41-19-1-1-2-19-1-1 19-19-1-1-25-19-1-1 13-19-2-1 3-19-2-1-3-19-1-1-2-19-1-1 20-19-1-1-11-19-1-1 7-19-2-1-18-19-2-1 5-19-2-1-4-19-2-1-29-19-2-1 39-19-2-1 30-19-2-1-30-19-1-1-5-19-2-1 12-19-2-1-36-19-2-1 62-19-2-1-35-19-2-1 2-19-2-1 2-19-3-1 21-19-9-1-25-19-27-1-20-19-52-1 23-19-20-1-25-19 48-1 16-19 39-1 11-19 15-1-32-19 4-1 12-19 1-1 33-19 1-1-25-19 0-1 27-19 0-1-29-19-1-1-13-19-1-1 47-19-1-1 21-19-1-1-42-19-1-1-10-19-1-1-27-19-2-1 49-19-2-1-21-19-3-1 4-19-3-1 21-19-3-1 28-19-3-1-39-19-3-1-4-19-2-1-17-19-3-1 20-19-2-1-20-19-1-1 12-19-1-1-19-19-1-1 19-19-1-1 28-19-1-1-14-19-1-1-13-19 0-1 1-19-1-1 8-19 0z"/>
<path stroke-width="40" d="M1335 7715l12 0 12 1 12 0 12 1 12 0 12 1 12 0 12 1 12 0 12 1 12 1 12 1 12 0 12 1 12 1 12 1 12 1 12 2 12 1 12 2 12 2 12 1 12 2 12 2 12 1 12 2 12 2 12 1 12 2 12 1 12 2 12 1 12 1 12 1 12 0 12 1 12 0 12 1 12 0 12 0 12 1 12 0 12 0 12 0 12 0 12-1 12 0 12-1 12-2 12-3 12-7 12-14 12-24 12-33 12-26 12 3 12 30 12 32 12 24 12 13 12 7 12 4 12 2 12 1 12 2 12 1 12 1 12 1 12 2 12 1 12 1 12 1 12 1 12 1 12 2 12 1 12 1 12 1 12 2 12 1 12 1 12 1 12 2 12 1 12 1 12 1 12 1 12 2 12 1 12 1 12 1 12 1 12 1 12 1 12 0 12 1 12 1 12 1 12 0 12 1 12 0 12 1 12 0 12 0 12 1 12 0 12 1 12 0 12 0 12 1 12 0 12 1 12 0 12 0 12 1 12 1 12 0 12 1 12 1 12 1 12 1 12 1 12 2 12 2 12 1 12 2 12 2 12 3 12 2 12 3 12 3 12 4 12 6 12 6 12 6 12 8 12 7 12 6 12 7 12 7 12 7 12 7 12 5 12 2 12 1 12 0 12-1 12-2 12-2 12-3 12-4 12-4 12-4 12-7 12-8 12-13 12-20 12-35 12-59 12-99 12-155 12-219 12-279 12-303 12-248 12-85 12 129 12 275 12 313 12 280 12 218 12 153 12 99 12 61 12 38 12 24 12 15 12 10 12 7 12 4 12 2 12 1 12 0 12 0 12-1 12 0 12 0 12 0 12 1 12 2 12 2 12 1 12 2 12 1 12 2 12 1 12 2 12 1 12 2 12 1 12 2 12 1 12 2 12 1 12 1 12 2 12 1 12 2 12 1 12 1 12 2 12 2 12 1 12 2 12 2 12 1 12 2 12 1 12 2 12 1 12 2 12 1 12 0 12 0 12 0 12-2 12-2 12-3 12-3 12-3 12-1 12 0 12 4 12 5 12 7 12 8 12 7 12 6 12 6 12 5 12 4 12 4 12 3 12 3 12 2 12 3 12 2 12 2 12 2 12 2 12 1 12 2 12 2 12 2 12 1 12 2 12 2 12 1 12 2 12 2 12 2 12 2 12 2 12 1 12 3 12 2 12 2 12 2 12 2 12 3 12 2 12 3 12 2 12 3 12 2 12 2 12 3 12 2 12 2 12 2 12 2 12 2 12 2 12 2 12 2 12 2 12 1 12 2 12 2 12 2 12 1 12 2 12 2 12 1 12 2 12 2 12 2 12 2 12 2 12 1 12 2 12 2 12 2 12 2 12 2 12 2 12 1 12 2 12 2 12 2 12 1 12 2 12 2 12 1 12 2 12 1 12 2 12 1 12 2 12 1 12 1 12 1 12 1 12 1 12 1 12 1 12 0 12 0 12 0 12 0 12 0 12-1 12-1 12-2 12-3 12-3 12-5 12-6 12-9 12-13 12-20 12-33 12-56 12-94 12-147 12-216 12-284 12-328 12-302 12-166 12 62 12 255 12 331 12 316 12 256 12 186 12 123 12 77 12 47 12 30 12 20 12 14 12 11 12 8 12 6 12 5 12 4 12 3 12 2 12 1 12 1 12 0 12 0 12 0 12 0 12 0 12 0 12 0 12 0 12 1 12 0 12 1 12 1 12 1 12 1 12 1 12 1 12 0 12 1 12 1 12 1 12 1 12 1 12 1 12 1 12 1 12 0 12 1 12 1 12 0 12 1 12 0 12 1 12 0 12 0 12 0 12 0 12-1 12-1 12-1 12-4 12-7 12-14 12-23 12-31 12-26 12-2 12 24 12 32 12 25 12 16 12 9 12 5 12 2 12 2 12 1 12 1 12 0 12 1 12 0 12 1 12 0 12 0 12 0 12 0 12 0 12 0 12 0 12-1 12 0 12-1 12-1 12-1 12-2 12-2 12-2 12-3 12-5 12-6 12-9 12-14 12-23 12-36 12-56 12-81 12-107 12-131 12-139 12-115 12-52 12 39 12 110 12 139 12 135 12 114 12 87 12 61 12 41 12 26 12 17 12 11 12 8 12 6 12 5 12 4 12 3 12 3 12 3 12 2 12 1 12 2 12 1 12 1 12 1 12 1 12 1 12 0 12 1 12 1 12 0 12 1 12 0 12 0 12 1 12 0 12 0 12 0 12 1 12 0 12 0 12 0 12 0 12 0 12 0 12 0 12 0 12 0 12 0 12-1 12-1 12-1 12-1 12-4 12-8 12-15 12-28 12-38 12-41 12-16 12 24 12 43 12 38 12 27 12 15 12 9 12 4 12 3 12 2 12 2 12 2 12 1 12 1 12 1 12 1 12 1 12 1 12 1 12 1 12 0 12 1 12 0 12 1 12 0 12 1 12 0 12 1 12 0 12 1 12 0 12 1 12 0 12 1 12 0 12 1 12 0 12 1 12 0 12 0 12 1 12 0 12 1 12 0 12 0 12 1 12 0 12 0 12 1 12 0 12 0 12 0 12 1 12 0 12 0 12 0 12 1 12 0 12 0 12 0 12 0 12 1 12 0 12 0 12 0 12 0 12 0 12 1 12 0 12 0 12 0 12 0 12 0 12 0 12 1 12 0 12 0 12 0 12 0 12 0 12 1 12 0 12 0 12 0 12 0 12 1 12 0 12 0 12 0 12 1 12 0 12 1 12 0 12 0 12 1 12 0 12 1 12 0 12 1 12 0 12 1 12 0 12 1 12 1 12 0 12 1 12 0 12 1 12 1 12 0 12 1 12 0 12 1 12 1 12 0 12 1 12 0 12 1 12 0 12 1 12 0 12 1 12 0 12 0 12 1 12 0 12 1 12 0 12 0 12 1 12 0 12 0 12 1 12 0 12 1 12 0 12 0 12 1 12 0 12 0 12 1 12 0 12 0 12 1 12 0 12 1 12 0 12 0 12 1 12 0 12 1 12 0 12 0 12 1 12 0 12 1 12 1 12 0 12 1 12 1 12 0 12 1 12 1 12 1 12 1 12 1 12 1 12 1 12 1 12 1 12 0 12 1 12 1 12 1 12 1 12 1 12 1 12 1 12 1 12 0 12 1 12 1 12 1 12 0 12 1 12 0 12 1 12 0 12 0 12 0 12 0 12 0 12-1 12 0 12-1 12-1 12-1 12-1 12-2 12-2 12-3 12-3 12-4 12-5 12-5 12-7 12-8 12-9 12-13 12-18 12-26 12-39 12-63 12-96 12-144 12-199 12-253 12-290 12-278 12-187 12-16 12 163 12 268 12 292 12 261 12 208 12 152 12 103 12 67 12 42 12 27 12 18 12 13 12 10 12 8 12 6 12 6 12 4 12 3 12 3 12 3 12 2 12 1 12 2 12 1 12 0 12 1 12 0 12 0 12 0 12 0 12-1 12-1 12-1 12-1 12-2 12-3 12-3 12-5 12-8 12-11 12-17 12-25 12-36 12-48 12-60 12-68 12-67 12-51 12-17 12 23 12 55 12 68 12 67 12 58 12 46 12 34 12 23 12 16 12 10 12 7 12 5 12 3 12 2 12 2 12 2 12 1 12 1 12 1 12 1 12 1 12 0 12 0 12 1 12 0 12 0 12 1 12 0 12 0 12 0 12 0 12 0 12 0 12 0 12 0 12 0 12 0 12 0 12 0 12 0 12 0 12 0 12 0 12 0 12 0 12 0 12 0 12 0 12 0 12 0 12 0 12 0 12 0 12 0 12 0 12 0 12 0 12 0 12 0 12 0 12 0 12 0 12 0 12 0 12 0 12 0 12 0 12 0 12 0 12 0 12 0 12 0 12 0 12 0 12 0 12 1 12 0 12 0 12 0 12 0 12 0 12 0 12 0 12 0 12 0 12 0 12 0 12 0 12 0 12 0 12 0 12 0 12 0 12 0 12-1 12 0 12 0 12 0 12 0 12 0 12 0 12 0 12 0 12-1 12 0 12 0 12-1 12 0 12 0 12-1 12-1 12 0 12-1 12-1 12-2 12-1 12-2 12-3 12-3 12-5 12-7 12-12 12-17 12-25 12-34 12-44 12-51 12-55 12-48 12-26 12 6 12 35 12 51 12 55 12 49 12 41 12 31 12 22 12 15 12 9 12 6 12 5 12 2 12 2 12 1 12 1 12 0 12-1 12-2 12-4 12-8 12-12 12-19 12-26 12-31 12-32 12-23 12-1 12 20 12 32 12 33 12 28 12 21 12 14 12 10 12 5 12 4 12 2 12 2 12 1 12 2 12 1 12 0 12 1 12 1 12 0 12 1 12 0 12 1 12 0 12 0 12 1 12 0 12 0 12 0 12 1 12 0 12 0 12 0 12 1 12 0 12 0 12 0 12 0 12 1 12 0 12 0 12 0 12 0 12 0 12 0 12 1 12 0 12 0 12 0 12 0 12 0 12 0 12 0 12 0 12 1 12 0 12 0 12 0 12 0 12 0 12 0 12 0 12 0 12 0 12 0 12 0 12 0 12 0 12 0 12 0 12 0 12 0 12 0 12 0 12-1 12 0 12 0 12 0 12 0 12-1 12 0 12 0 12-1 12 0 12-1 12-1 12-1 12-1 12-1 12-1 12-2 12-2 12-2 12-3 12-4 12-6 12-8 12-11 12-19 12-27 12-41 12-55 12-71 12-83 12-82 12-65 12-22 12 29 12 67 12 81 12 79 12 65 12 49 12 33 12 17 12 5 12-8 12-20 12-32 12-43 12-52 12-56 12-46 12-24 12 10 12 41 12 56 12 58 12 53 12 43 12 33 12 23 12 16 12 11 12 7 12 5 12 4 12 3 12 2 12 2 12 2 12 1 12 1 12 2 12 1 12 0 12 1 12 1 12 1 12 0 12 1 12 0 12 1 12 0 12 1 12 0 12 1 12 0 12 0 12 1 12 0 12 0 12 1 12 0 12 0 12 1 12 0 12 0 12 0 12 1 12 0 12 0 12 0 12 0 12 1 12 0 12 0 12 0 12 0 12 1 12 0 12 0 12 0 12 0 12 1 12 0 12 0 12 0 12 0 12 1 12 0 12 0 12 0 12 0 12 0 12 1 12 0 12 0 12 0 12 0 12 0 12 1 12 0 12 0 12 0 12 0 12 0 12 0 12 1 12 0 12 0 12 0 12 0 12 0 12 0 12 1 12 0 12 0 12 0 12 0 12 0 12 0 12 1 12 0 12 0 12 0 12 0 12 0 12 0 12 0 12 1 12 0 12 0 12 0 12 0 12 0 12 0 12 0 12 0 12 1 12 0 12 0 12 0 12 0 12 0 12 0 12 0 12 0 12 0 12 0 12 0 12 0 12-1 12 0 12 0 12-1 12-1 12-1 12-2 12-2 12-3 12-3 12-4 12-5 12-4 12-4 12-3 12-2 12 1 12 2 12 3 12 5 12 4 12 5 12 4 12 3 12 3 12 3 12 2 12 1 12 1 12 1 12 1 12 0 12 1 12 0 12 1 12 0 12 0 12 0 12 1 12 0 12 0 12 0 12 0 12 1 12 0 12 0 12 0 12 0 12 0 12 1 12 0 12 0 12 0 12 0 12 0 12 0 12 1 12 0 12 0 12 0 12 0 12 0 12 0 12 0 12 0 12 0 12 0 12 0 12 0 12-1 12 0 12 0 12-1 12-1 12-2 12-2 12-3 12-3 12-4 12-4 12-4 12-4 12-4 12-2 12 0 12 1 12 4 12 4 12 4 12 5 12 4 12 4 12 3 12 3 12 2 12 1 12 2 12 1 12 0 12 1 12 0 12 1 12 0 12 0 12 1 12 0 12 0 12 0 12 1 12 0 12 0 12 0 12 0 12 0 12 0 12 0 12 1 12 0 12 0 12 0 12 0 12 0 12-1 12 0 12 0 12-1 12 0 12-1 12-1 12-2 12-2 12-3 12-3 12-4 12-4 12-5 12-4 12-3 12-2 12 0 12 2 12 3 12 4 12 5 12 4 12 4 12 4 12 3 12 2 12 2 12 1 12 2 12 0 12 1 12 0 12 1 12 0 12 0 12 0 12 0 12 0 12 0 12-1 12 0 12 0 12-1 12-1 12-2 12-2 12-3 12-3 12-5 12-5 12-7 12-7 12-8 12-8 12-6 12-5 12-1 12 2 12 5 12 7 12 8 12 7 12 8 12 6 12 6 12 4 12 4 12 3 12 2 12 1 12 1 12 1 12 1 12 0 12 1 12 0 12 1 12 0 12 0 12 0 12 0 12 0 12 1 12 0 12 0 12 0 12 0 12 0 12 0 12 0 12 0 12 0 12 0 12 0 12 0 12 0 12 0 12 0 12 0 12 0 12 0 12 0 12 0 12 0 12 0 12 0 12 0 12 0 12 0 12 0 12 0 12 0 12 0 12 0 12 0 12 0 12 0 12 0 12 0 12 0 12 0 12 0 12 0 12 0 12 0 12 0 12 0 12 0 12-1 12 0 12 0 12 0 12 0 12 0 12 0 12 0 12 0 12-1 12 0 12 0 12 0 12 0 12 0 12-1 12 0 12 0 12 0 12-1 12 0 12 0 12-1 12 0 12-1 12-1 12 0 12-1 12-1 12-2 12-2 12-4 12-5 12-8 12-11 12-16 12-20 12-24 12-25 12-21 12-12 12 2 12 16 12 24 12 25 12 22 8 13"/>
</g>
<g stroke="#000" stroke-width="6">
<line x1="323.6" y1="1066.0" x2="323.6" y2="1258.0"/>
<line x1="545.0" y1="1161.0" x2="545.0" y2="1258.0"/>
<line x1="624.7" y1="1241.0" x2="624.7" y2="1258.0"/>
<line x1="676.3" y1="1208.3" x2="676.3" y2="1258.0"/>
<line x1="749.4" y1="1237.7" x2="749.4" y2="1258.0"/>
<line x1="1012.6" y1="1143.0" x2="1012.6" y2="1258.0"/>
<line x1="1071.8" y1="1218.6" x2="1071.8" y2="1258.0"/>
<line x1="1229.0" y1="1237.9" x2="1229.0" y2="1258.0"/>
<line x1="1261.6" y1="1237.9" x2="1261.6" y2="1258.0"/>
<line x1="1299.5" y1="1252.0" x2="1299.5" y2="1258.0"/>
<line x1="1389.4" y1="1218.5" x2="1389.4" y2="1258.0"/>
<line x1="1410.3" y1="1233.3" x2="1410.3" y2="1258.0"/>
<line x1="1476.7" y1="1252.5" x2="1476.7" y2="1258.0"/>
<line x1="1528.0" y1="1253.0" x2="1528.0" y2="1258.0"/>
<line x1="1582.5" y1="1248.7" x2="1582.5" y2="1258.0"/>
<line x1="1668.2" y1="1252.0" x2="1668.2" y2="1258.0"/>
<line x1="1732.0" y1="1245.0" x2="1732.0" y2="1258.0"/>
<line x1="1780.8" y1="1248.7" x2="1780.8" y2="1258.0"/>
<line x1="1863.0" y1="1252.5" x2="1863.0" y2="1258.0"/>
<line x1="1917.0" y1="1240.4" x2="1917.0" y2="1258.0"/>
</g>
<g stroke="#000" stroke-width="4.5" fill="none">
<rect x="132.7" y="36.7" width="1795.7" height="1221.3"/>
<line x1="132.7" y1="1258.0" x2="132.7" y2="1281.0"/>
<line x1="261.0" y1="1258.0" x2="261.0" y2="1269.0"/>
<line x1="389.2" y1="1258.0" x2="389.2" y2="1281.0"/>
<line x1="517.5" y1="1258.0" x2="517.5" y2="1269.0"/>
<line x1="645.8" y1="1258.0" x2="645.8" y2="1281.0"/>
<line x1="774.0" y1="1258.0" x2="774.0" y2="1269.0"/>
<line x1="902.3" y1="1258.0" x2="902.3" y2="1281.0"/>
<line x1="1030.5" y1="1258.0" x2="1030.5" y2="1269.0"/>
<line x1="1158.8" y1="1258.0" x2="1158.8" y2="1281.0"/>
<line x1="1287.1" y1="1258.0" x2="1287.1" y2="1269.0"/>
<line x1="1415.3" y1="1258.0" x2="1415.3" y2="1281.0"/>
<line x1="1543.6" y1="1258.0" x2="1543.6" y2="1269.0"/>
<line x1="1671.9" y1="1258.0" x2="1671.9" y2="1281.0"/>
<line x1="1800.1" y1="1258.0" x2="1800.1" y2="1269.0"/>
<line x1="1928.4" y1="1258.0" x2="1928.4" y2="1281.0"/>
</g>
<text x="132.7" y="1348" font-size="70" text-anchor="middle">20</text>
<text x="389.2" y="1348" font-size="70" text-anchor="middle">30</text>
<text x="645.8" y="1348" font-size="70" text-anchor="middle">40</text>
<text x="902.3" y="1348" font-size="70" text-anchor="middle">50</text>
<text x="1158.8" y="1348" font-size="70" text-anchor="middle">60</text>
<text x="1415.3" y="1348" font-size="70" text-anchor="middle">70</text>
<text x="1671.9" y="1348" font-size="70" text-anchor="middle">80</text>
<text x="1928.4" y="1348" font-size="70" text-anchor="middle">90</text>
<text x="912.7" y="1443.5" font-size="74" font-weight="bold">2<tspan font-weight="normal">&#952;</tspan> (Degree)</text>
<text transform="translate(78.5,851.8) rotate(-90)" font-size="74.5" font-weight="bold">Intensity (a.u.)</text>
<text x="337.85" y="198.0" font-size="53" text-anchor="middle">(110)</text>
<text x="550.40" y="110.9" font-size="53" text-anchor="middle">(101)</text>
<text x="697.35" y="292.9" font-size="53" text-anchor="middle">(210)</text>
<text x="1024.75" y="229.0" font-size="53" text-anchor="middle">(211)</text>
<text transform="translate(1255.2,501.10) rotate(-90)" font-size="53" text-anchor="middle">(002)</text>
<text transform="translate(1402.6,514.25) rotate(-90)" font-size="53" text-anchor="middle">(301)</text>
<text transform="translate(1468.8,517.65) rotate(-90)" font-size="53" text-anchor="middle">(112)</text>
<line x1="1357.4" y1="75.8" x2="1477.5" y2="75.8" stroke="#000" stroke-width="5.2"/>
<text x="1489.4" y="93.4" font-size="63">TiO<tspan font-size="54" dy="15">2</tspan><tspan dy="-15">- FTO</tspan></text>
<line x1="1357.4" y1="168.2" x2="1477.5" y2="168.2" stroke="#f00" stroke-width="5.2"/>
<text x="1489.4" y="186.0" font-size="63">TiO<tspan font-size="54" dy="15">2</tspan><tspan dy="-15">- ITO</tspan></text>
<line x1="1357.4" y1="260.0" x2="1477.5" y2="260.0" stroke="#00f" stroke-width="5.2"/>
<text x="1489.4" y="278.3" font-size="63">TiO<tspan font-size="54" dy="15">2</tspan><tspan dy="-15">- FTO - HJ</tspan></text>
<line x1="1357.4" y1="352.1" x2="1477.5" y2="352.1" stroke="#f0f" stroke-width="5.2"/>
<text x="1489.4" y="370.6" font-size="63">TiO<tspan font-size="54" dy="15">2</tspan><tspan dy="-15">- ITO - HJ</tspan></text>
<text x="1280.7" y="1172" font-size="52">JCPDS PDF No.21-1276 TiO<tspan font-size="35.5" dy="15">2</tspan></text>
</svg></body></html>
